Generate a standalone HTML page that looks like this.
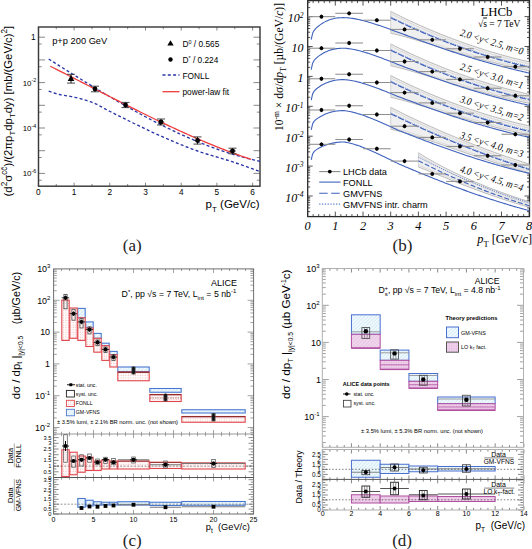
<!DOCTYPE html>
<html><head><meta charset="utf-8"><style>
html,body{margin:0;padding:0;background:#fff;width:532px;height:549px;overflow:hidden}
svg{display:block}
</style></head><body>
<svg width="532" height="549" viewBox="0 0 532 549">
<rect x="0" y="0" width="532" height="549" fill="#fff"/>
<line x1="38.40" y1="186.20" x2="38.40" y2="182.70" stroke="#7a7a7a" stroke-width="0.9" />
<line x1="38.40" y1="27.00" x2="38.40" y2="30.50" stroke="#7a7a7a" stroke-width="0.9" />
<line x1="56.25" y1="186.20" x2="56.25" y2="184.00" stroke="#7a7a7a" stroke-width="0.9" />
<line x1="56.25" y1="27.00" x2="56.25" y2="29.20" stroke="#7a7a7a" stroke-width="0.9" />
<line x1="74.10" y1="186.20" x2="74.10" y2="182.70" stroke="#7a7a7a" stroke-width="0.9" />
<line x1="74.10" y1="27.00" x2="74.10" y2="30.50" stroke="#7a7a7a" stroke-width="0.9" />
<line x1="91.95" y1="186.20" x2="91.95" y2="184.00" stroke="#7a7a7a" stroke-width="0.9" />
<line x1="91.95" y1="27.00" x2="91.95" y2="29.20" stroke="#7a7a7a" stroke-width="0.9" />
<line x1="109.80" y1="186.20" x2="109.80" y2="182.70" stroke="#7a7a7a" stroke-width="0.9" />
<line x1="109.80" y1="27.00" x2="109.80" y2="30.50" stroke="#7a7a7a" stroke-width="0.9" />
<line x1="127.65" y1="186.20" x2="127.65" y2="184.00" stroke="#7a7a7a" stroke-width="0.9" />
<line x1="127.65" y1="27.00" x2="127.65" y2="29.20" stroke="#7a7a7a" stroke-width="0.9" />
<line x1="145.50" y1="186.20" x2="145.50" y2="182.70" stroke="#7a7a7a" stroke-width="0.9" />
<line x1="145.50" y1="27.00" x2="145.50" y2="30.50" stroke="#7a7a7a" stroke-width="0.9" />
<line x1="163.35" y1="186.20" x2="163.35" y2="184.00" stroke="#7a7a7a" stroke-width="0.9" />
<line x1="163.35" y1="27.00" x2="163.35" y2="29.20" stroke="#7a7a7a" stroke-width="0.9" />
<line x1="181.20" y1="186.20" x2="181.20" y2="182.70" stroke="#7a7a7a" stroke-width="0.9" />
<line x1="181.20" y1="27.00" x2="181.20" y2="30.50" stroke="#7a7a7a" stroke-width="0.9" />
<line x1="199.05" y1="186.20" x2="199.05" y2="184.00" stroke="#7a7a7a" stroke-width="0.9" />
<line x1="199.05" y1="27.00" x2="199.05" y2="29.20" stroke="#7a7a7a" stroke-width="0.9" />
<line x1="216.90" y1="186.20" x2="216.90" y2="182.70" stroke="#7a7a7a" stroke-width="0.9" />
<line x1="216.90" y1="27.00" x2="216.90" y2="30.50" stroke="#7a7a7a" stroke-width="0.9" />
<line x1="234.75" y1="186.20" x2="234.75" y2="184.00" stroke="#7a7a7a" stroke-width="0.9" />
<line x1="234.75" y1="27.00" x2="234.75" y2="29.20" stroke="#7a7a7a" stroke-width="0.9" />
<line x1="252.60" y1="186.20" x2="252.60" y2="182.70" stroke="#7a7a7a" stroke-width="0.9" />
<line x1="252.60" y1="27.00" x2="252.60" y2="30.50" stroke="#7a7a7a" stroke-width="0.9" />
<line x1="38.50" y1="37.20" x2="45.00" y2="37.20" stroke="#7a7a7a" stroke-width="0.9" />
<line x1="260.00" y1="37.20" x2="253.50" y2="37.20" stroke="#7a7a7a" stroke-width="0.9" />
<line x1="38.50" y1="44.03" x2="41.70" y2="44.03" stroke="#7a7a7a" stroke-width="0.9" />
<line x1="260.00" y1="44.03" x2="256.80" y2="44.03" stroke="#7a7a7a" stroke-width="0.9" />
<line x1="38.50" y1="59.90" x2="45.00" y2="59.90" stroke="#7a7a7a" stroke-width="0.9" />
<line x1="260.00" y1="59.90" x2="253.50" y2="59.90" stroke="#7a7a7a" stroke-width="0.9" />
<line x1="38.50" y1="66.73" x2="41.70" y2="66.73" stroke="#7a7a7a" stroke-width="0.9" />
<line x1="260.00" y1="66.73" x2="256.80" y2="66.73" stroke="#7a7a7a" stroke-width="0.9" />
<line x1="38.50" y1="82.60" x2="45.00" y2="82.60" stroke="#7a7a7a" stroke-width="0.9" />
<line x1="260.00" y1="82.60" x2="253.50" y2="82.60" stroke="#7a7a7a" stroke-width="0.9" />
<line x1="38.50" y1="89.43" x2="41.70" y2="89.43" stroke="#7a7a7a" stroke-width="0.9" />
<line x1="260.00" y1="89.43" x2="256.80" y2="89.43" stroke="#7a7a7a" stroke-width="0.9" />
<line x1="38.50" y1="105.30" x2="45.00" y2="105.30" stroke="#7a7a7a" stroke-width="0.9" />
<line x1="260.00" y1="105.30" x2="253.50" y2="105.30" stroke="#7a7a7a" stroke-width="0.9" />
<line x1="38.50" y1="112.13" x2="41.70" y2="112.13" stroke="#7a7a7a" stroke-width="0.9" />
<line x1="260.00" y1="112.13" x2="256.80" y2="112.13" stroke="#7a7a7a" stroke-width="0.9" />
<line x1="38.50" y1="128.00" x2="45.00" y2="128.00" stroke="#7a7a7a" stroke-width="0.9" />
<line x1="260.00" y1="128.00" x2="253.50" y2="128.00" stroke="#7a7a7a" stroke-width="0.9" />
<line x1="38.50" y1="134.83" x2="41.70" y2="134.83" stroke="#7a7a7a" stroke-width="0.9" />
<line x1="260.00" y1="134.83" x2="256.80" y2="134.83" stroke="#7a7a7a" stroke-width="0.9" />
<line x1="38.50" y1="150.70" x2="45.00" y2="150.70" stroke="#7a7a7a" stroke-width="0.9" />
<line x1="260.00" y1="150.70" x2="253.50" y2="150.70" stroke="#7a7a7a" stroke-width="0.9" />
<line x1="38.50" y1="157.53" x2="41.70" y2="157.53" stroke="#7a7a7a" stroke-width="0.9" />
<line x1="260.00" y1="157.53" x2="256.80" y2="157.53" stroke="#7a7a7a" stroke-width="0.9" />
<line x1="38.50" y1="173.40" x2="45.00" y2="173.40" stroke="#7a7a7a" stroke-width="0.9" />
<line x1="260.00" y1="173.40" x2="253.50" y2="173.40" stroke="#7a7a7a" stroke-width="0.9" />
<line x1="38.50" y1="180.23" x2="41.70" y2="180.23" stroke="#7a7a7a" stroke-width="0.9" />
<line x1="260.00" y1="180.23" x2="256.80" y2="180.23" stroke="#7a7a7a" stroke-width="0.9" />
<rect x="38.50" y="27.00" width="221.50" height="159.20" fill="none" stroke="#3a3a3a" stroke-width="1.45" />
<text x="38.40" y="195.30" text-anchor="middle" fill="#000" style="font-family:'Liberation Sans', sans-serif;font-size:8.3px;" >0</text>
<text x="74.10" y="195.30" text-anchor="middle" fill="#000" style="font-family:'Liberation Sans', sans-serif;font-size:8.3px;" >1</text>
<text x="109.80" y="195.30" text-anchor="middle" fill="#000" style="font-family:'Liberation Sans', sans-serif;font-size:8.3px;" >2</text>
<text x="145.50" y="195.30" text-anchor="middle" fill="#000" style="font-family:'Liberation Sans', sans-serif;font-size:8.3px;" >3</text>
<text x="181.20" y="195.30" text-anchor="middle" fill="#000" style="font-family:'Liberation Sans', sans-serif;font-size:8.3px;" >4</text>
<text x="216.90" y="195.30" text-anchor="middle" fill="#000" style="font-family:'Liberation Sans', sans-serif;font-size:8.3px;" >5</text>
<text x="252.60" y="195.30" text-anchor="middle" fill="#000" style="font-family:'Liberation Sans', sans-serif;font-size:8.3px;" >6</text>
<text x="35.50" y="40.20" text-anchor="end" fill="#000" style="font-family:'Liberation Sans', sans-serif;font-size:8.3px;" >1</text>
<text x="36.2" y="85.50" text-anchor="end" style="font-family:'Liberation Sans', sans-serif;font-size:7.9px">10<tspan dy="-3.1" style="font-size:5.3px">-2</tspan></text>
<text x="36.2" y="130.90" text-anchor="end" style="font-family:'Liberation Sans', sans-serif;font-size:7.9px">10<tspan dy="-3.1" style="font-size:5.3px">-4</tspan></text>
<text x="36.2" y="176.30" text-anchor="end" style="font-family:'Liberation Sans', sans-serif;font-size:7.9px">10<tspan dy="-3.1" style="font-size:5.3px">-6</tspan></text>
<text x="205.6" y="208.4" style="font-family:'Liberation Sans', sans-serif;font-size:11.5px">p<tspan dy="3.8" style="font-size:8px">T</tspan><tspan dy="-3.8"> (GeV/c)</tspan></text>
<text transform="translate(11.7,196.4) rotate(-90)" style="font-family:'Liberation Sans', sans-serif;font-size:11.3px">(d<tspan dy="-4.4" style="font-size:8.2px">2</tspan><tspan dy="4.4">σ</tspan><tspan dy="-4.4" style="font-size:8.2px">cc̄</tspan><tspan dy="4.4">)/(2πp</tspan><tspan dy="3.0" style="font-size:8px">T</tspan><tspan dy="-3.0">dp</tspan><tspan dy="3.0" style="font-size:8px">T</tspan><tspan dy="-3.0">dy) [mb/(GeV/c)</tspan><tspan dy="-4.4" style="font-size:8.2px">2</tspan><tspan dy="4.4">]</tspan></text>
<clipPath id="clipa"><rect x="38.5" y="27.0" width="221.5" height="159.2"/></clipPath>
<g clip-path="url(#clipa)">
<polyline points="48.70,59.01 50.23,59.99 51.77,60.96 53.30,61.93 54.84,62.90 56.37,63.87 57.91,64.84 59.44,65.81 60.98,66.78 62.51,67.75 64.05,68.72 65.58,69.68 67.11,70.64 68.65,71.61 70.18,72.57 71.72,73.53 73.25,74.49 74.79,75.44 76.32,76.40 77.86,77.35 79.39,78.30 80.93,79.25 82.46,80.20 83.99,81.15 85.53,82.09 87.06,83.03 88.60,83.98 90.13,84.91 91.67,85.85 93.20,86.78 94.74,87.71 96.27,88.64 97.81,89.57 99.34,90.49 100.87,91.42 102.41,92.33 103.94,93.25 105.48,94.16 107.01,95.07 108.55,95.98 110.08,96.89 111.62,97.79 113.15,98.69 114.68,99.58 116.22,100.48 117.75,101.37 119.29,102.25 120.82,103.13 122.36,104.01 123.89,104.89 125.43,105.76 126.96,106.63 128.50,107.49 130.03,108.36 131.56,109.21 133.10,110.07 134.63,110.92 136.17,111.76 137.70,112.60 139.24,113.44 140.77,114.27 142.31,115.10 143.84,115.93 145.38,116.75 146.91,117.56 148.44,118.37 149.98,119.18 151.51,119.98 153.05,120.78 154.58,121.57 156.12,122.36 157.65,123.15 159.19,123.92 160.72,124.70 162.26,125.47 163.79,126.23 165.32,126.99 166.86,127.74 168.39,128.49 169.93,129.23 171.46,129.97 173.00,130.70 174.53,131.42 176.07,132.14 177.60,132.86 179.14,133.57 180.67,134.27 182.20,134.97 183.74,135.66 185.27,136.35 186.81,137.03 188.34,137.70 189.88,138.37 191.41,139.03 192.95,139.68 194.48,140.33 196.02,140.97 197.55,141.61 199.08,142.24 200.62,142.86 202.15,143.48 203.69,144.09 205.22,144.69 206.76,145.28 208.29,145.87 209.83,146.46 211.36,147.03 212.89,147.60 214.43,148.16 215.96,148.71 217.50,149.26 219.03,149.80 220.57,150.33 222.10,150.85 223.64,151.37 225.17,151.88 226.71,152.38 228.24,152.87 229.77,153.36 231.31,153.84 232.84,154.31 234.38,154.77 235.91,155.23 237.45,155.67 238.98,156.11 240.52,156.54 242.05,156.96 243.59,157.38 245.12,157.78 246.65,158.18 248.19,158.57 249.72,158.95 251.26,159.32 252.79,159.68 254.33,160.04 255.86,160.38 257.40,160.72 258.93,161.05 260.47,161.36 262.00,161.67" fill="none" stroke="#2a36a8" stroke-width="1.35" stroke-linejoin="round" stroke-dasharray="3,2.3"/>
<polyline points="48.70,91.15 50.23,91.71 51.77,92.25 53.30,92.76 54.84,93.24 56.37,93.69 57.91,94.10 59.44,94.47 60.98,94.81 62.51,95.09 64.05,95.35 65.58,95.58 67.11,95.82 68.65,96.06 70.18,96.32 71.72,96.62 73.25,96.95 74.79,97.30 76.32,97.65 77.86,98.03 79.39,98.42 80.93,98.82 82.46,99.25 83.99,99.69 85.53,100.15 87.06,100.64 88.60,101.14 90.13,101.66 91.67,102.21 93.20,102.81 94.74,103.47 96.27,104.18 97.81,104.94 99.34,105.72 100.87,106.53 102.41,107.36 103.94,108.20 105.48,109.04 107.01,109.88 108.55,110.69 110.08,111.49 111.62,112.26 113.15,113.03 114.68,113.80 116.22,114.57 117.75,115.35 119.29,116.12 120.82,116.90 122.36,117.67 123.89,118.44 125.43,119.21 126.96,119.97 128.50,120.74 130.03,121.49 131.56,122.25 133.10,122.99 134.63,123.74 136.17,124.49 137.70,125.23 139.24,125.98 140.77,126.73 142.31,127.47 143.84,128.21 145.38,128.94 146.91,129.68 148.44,130.41 149.98,131.13 151.51,131.85 153.05,132.56 154.58,133.27 156.12,133.97 157.65,134.66 159.19,135.34 160.72,136.02 162.26,136.69 163.79,137.36 165.32,138.03 166.86,138.70 168.39,139.36 169.93,140.03 171.46,140.69 173.00,141.34 174.53,141.99 176.07,142.64 177.60,143.28 179.14,143.91 180.67,144.54 182.20,145.17 183.74,145.79 185.27,146.40 186.81,147.00 188.34,147.60 189.88,148.18 191.41,148.76 192.95,149.34 194.48,149.90 196.02,150.45 197.55,150.99 199.08,151.52 200.62,152.04 202.15,152.55 203.69,153.04 205.22,153.53 206.76,154.01 208.29,154.48 209.83,154.94 211.36,155.41 212.89,155.86 214.43,156.32 215.96,156.77 217.50,157.22 219.03,157.67 220.57,158.13 222.10,158.58 223.64,159.04 225.17,159.51 226.71,159.98 228.24,160.46 229.77,160.95 231.31,161.44 232.84,161.95 234.38,162.46 235.91,162.98 237.45,163.50 238.98,164.03 240.52,164.56 242.05,165.10 243.59,165.64 245.12,166.18 246.65,166.73 248.19,167.28 249.72,167.84 251.26,168.40 252.79,168.96 254.33,169.52 255.86,170.09 257.40,170.66 258.93,171.24 260.47,171.82 262.00,172.40" fill="none" stroke="#2a36a8" stroke-width="1.35" stroke-linejoin="round" stroke-dasharray="3,2.3"/>
<polyline points="50.23,66.21 51.77,66.98 53.30,67.75 54.84,68.53 56.37,69.30 57.91,70.08 59.44,70.85 60.98,71.63 62.51,72.41 64.05,73.19 65.58,73.97 67.11,74.75 68.65,75.54 70.18,76.32 71.72,77.10 73.25,77.89 74.79,78.67 76.32,79.46 77.86,80.24 79.39,81.03 80.93,81.81 82.46,82.60 83.99,83.39 85.53,84.17 87.06,84.96 88.60,85.75 90.13,86.54 91.67,87.32 93.20,88.11 94.74,88.90 96.27,89.69 97.81,90.47 99.34,91.26 100.87,92.05 102.41,92.83 103.94,93.62 105.48,94.40 107.01,95.19 108.55,95.97 110.08,96.76 111.62,97.54 113.15,98.32 114.68,99.10 116.22,99.88 117.75,100.66 119.29,101.44 120.82,102.22 122.36,103.00 123.89,103.77 125.43,104.55 126.96,105.32 128.50,106.09 130.03,106.86 131.56,107.63 133.10,108.40 134.63,109.17 136.17,109.93 137.70,110.70 139.24,111.46 140.77,112.22 142.31,112.98 143.84,113.74 145.38,114.49 146.91,115.25 148.44,116.00 149.98,116.75 151.51,117.49 153.05,118.24 154.58,118.98 156.12,119.73 157.65,120.47 159.19,121.20 160.72,121.94 162.26,122.67 163.79,123.40 165.32,124.13 166.86,124.85 168.39,125.58 169.93,126.30 171.46,127.01 173.00,127.73 174.53,128.44 176.07,129.15 177.60,129.86 179.14,130.56 180.67,131.26 182.20,131.96 183.74,132.65 185.27,133.34 186.81,134.03 188.34,134.72 189.88,135.40 191.41,136.08 192.95,136.75 194.48,137.42 196.02,138.09 197.55,138.76 199.08,139.42 200.62,140.08 202.15,140.73 203.69,141.38 205.22,142.03 206.76,142.67 208.29,143.31 209.83,143.94 211.36,144.58 212.89,145.20 214.43,145.83 215.96,146.44 217.50,147.06 219.03,147.67 220.57,148.28 222.10,148.88 223.64,149.48 225.17,150.07 226.71,150.66 228.24,151.24 229.77,151.82 231.31,152.40 232.84,152.97 234.38,153.53 235.91,154.09 237.45,154.65 238.98,155.20 240.52,155.75 242.05,156.29 243.59,156.82 245.12,157.35 246.65,157.88 248.19,158.40 249.72,158.92 251.26,159.43" fill="none" stroke="#f03c3c" stroke-width="1.3" stroke-linejoin="round" />
</g>
<line x1="71.00" y1="74.30" x2="71.00" y2="83.10" stroke="#111" stroke-width="1.0" />
<line x1="67.00" y1="74.30" x2="75.00" y2="74.30" stroke="#333" stroke-width="0.9" />
<line x1="67.00" y1="83.10" x2="75.00" y2="83.10" stroke="#333" stroke-width="0.9" />
<polygon points="71.00,75.10 67.70,80.90 74.30,80.90" fill="#000" stroke="none" stroke-width="1" />
<line x1="95.00" y1="86.20" x2="95.00" y2="91.80" stroke="#111" stroke-width="1.0" />
<line x1="91.00" y1="86.20" x2="99.00" y2="86.20" stroke="#333" stroke-width="0.9" />
<line x1="91.00" y1="91.80" x2="99.00" y2="91.80" stroke="#333" stroke-width="0.9" />
<circle cx="95.00" cy="89.00" r="2.4" fill="#000"/>
<line x1="125.50" y1="102.40" x2="125.50" y2="107.60" stroke="#111" stroke-width="1.0" />
<line x1="121.50" y1="102.40" x2="129.50" y2="102.40" stroke="#333" stroke-width="0.9" />
<line x1="121.50" y1="107.60" x2="129.50" y2="107.60" stroke="#333" stroke-width="0.9" />
<circle cx="125.50" cy="105.00" r="2.4" fill="#000"/>
<line x1="161.00" y1="119.00" x2="161.00" y2="125.00" stroke="#111" stroke-width="1.0" />
<line x1="157.00" y1="119.00" x2="165.00" y2="119.00" stroke="#333" stroke-width="0.9" />
<line x1="157.00" y1="125.00" x2="165.00" y2="125.00" stroke="#333" stroke-width="0.9" />
<circle cx="161.00" cy="122.00" r="2.4" fill="#000"/>
<line x1="157.80" y1="122.00" x2="164.20" y2="122.00" stroke="#111" stroke-width="0.9" />
<line x1="197.50" y1="136.90" x2="197.50" y2="144.10" stroke="#111" stroke-width="1.0" />
<line x1="193.50" y1="136.90" x2="201.50" y2="136.90" stroke="#333" stroke-width="0.9" />
<line x1="193.50" y1="144.10" x2="201.50" y2="144.10" stroke="#333" stroke-width="0.9" />
<circle cx="197.50" cy="140.50" r="2.4" fill="#000"/>
<line x1="194.30" y1="140.50" x2="200.70" y2="140.50" stroke="#111" stroke-width="0.9" />
<line x1="232.50" y1="148.20" x2="232.50" y2="153.80" stroke="#111" stroke-width="1.0" />
<line x1="228.50" y1="148.20" x2="236.50" y2="148.20" stroke="#333" stroke-width="0.9" />
<line x1="228.50" y1="153.80" x2="236.50" y2="153.80" stroke="#333" stroke-width="0.9" />
<circle cx="232.50" cy="151.00" r="2.4" fill="#000"/>
<line x1="229.30" y1="151.00" x2="235.70" y2="151.00" stroke="#111" stroke-width="0.9" />
<text x="52.20" y="44.00" text-anchor="start" fill="#000" style="font-family:'Liberation Sans', sans-serif;font-size:9.3px;" >p+p 200 GeV</text>
<polygon points="170.50,40.30 167.30,45.60 173.70,45.60" fill="#000" stroke="none" stroke-width="1" />
<text x="182.5" y="47.2" style="font-family:'Liberation Sans', sans-serif;font-size:8.3px">D<tspan dy="-3" style="font-size:5.5px">0</tspan><tspan dy="3"> / 0.565</tspan></text>
<circle cx="170.50" cy="59.50" r="2.2" fill="#000"/>
<text x="182.5" y="63.0" style="font-family:'Liberation Sans', sans-serif;font-size:8.3px">D<tspan dy="-3" style="font-size:5.5px">*</tspan><tspan dy="3"> / 0.224</tspan></text>
<line x1="162.50" y1="75.00" x2="179.50" y2="75.00" stroke="#2a36a8" stroke-width="1.35" stroke-dasharray="3,2.3"/>
<text x="182.50" y="78.50" text-anchor="start" fill="#000" style="font-family:'Liberation Sans', sans-serif;font-size:8.3px;" >FONLL</text>
<line x1="162.50" y1="91.70" x2="179.50" y2="91.70" stroke="#f03c3c" stroke-width="1.3" />
<text x="182.50" y="95.00" text-anchor="start" fill="#000" style="font-family:'Liberation Sans', sans-serif;font-size:8.3px;" >power-law fit</text>
<text x="132.20" y="251.00" text-anchor="middle" fill="#222" style="font-family:'Liberation Serif', serif;font-size:17.0px;" >(a)</text>
<clipPath id="clipb"><rect x="307.7" y="0.6" width="221.8" height="216.0"/></clipPath>
<line x1="307.60" y1="216.60" x2="307.60" y2="211.60" stroke="#2a2a2a" stroke-width="0.8" />
<line x1="307.60" y1="0.60" x2="307.60" y2="5.60" stroke="#2a2a2a" stroke-width="0.8" />
<line x1="313.14" y1="216.60" x2="313.14" y2="214.10" stroke="#2a2a2a" stroke-width="0.8" />
<line x1="313.14" y1="0.60" x2="313.14" y2="3.10" stroke="#2a2a2a" stroke-width="0.8" />
<line x1="318.68" y1="216.60" x2="318.68" y2="214.10" stroke="#2a2a2a" stroke-width="0.8" />
<line x1="318.68" y1="0.60" x2="318.68" y2="3.10" stroke="#2a2a2a" stroke-width="0.8" />
<line x1="324.22" y1="216.60" x2="324.22" y2="214.10" stroke="#2a2a2a" stroke-width="0.8" />
<line x1="324.22" y1="0.60" x2="324.22" y2="3.10" stroke="#2a2a2a" stroke-width="0.8" />
<line x1="329.76" y1="216.60" x2="329.76" y2="214.10" stroke="#2a2a2a" stroke-width="0.8" />
<line x1="329.76" y1="0.60" x2="329.76" y2="3.10" stroke="#2a2a2a" stroke-width="0.8" />
<line x1="335.30" y1="216.60" x2="335.30" y2="211.60" stroke="#2a2a2a" stroke-width="0.8" />
<line x1="335.30" y1="0.60" x2="335.30" y2="5.60" stroke="#2a2a2a" stroke-width="0.8" />
<line x1="340.84" y1="216.60" x2="340.84" y2="214.10" stroke="#2a2a2a" stroke-width="0.8" />
<line x1="340.84" y1="0.60" x2="340.84" y2="3.10" stroke="#2a2a2a" stroke-width="0.8" />
<line x1="346.38" y1="216.60" x2="346.38" y2="214.10" stroke="#2a2a2a" stroke-width="0.8" />
<line x1="346.38" y1="0.60" x2="346.38" y2="3.10" stroke="#2a2a2a" stroke-width="0.8" />
<line x1="351.92" y1="216.60" x2="351.92" y2="214.10" stroke="#2a2a2a" stroke-width="0.8" />
<line x1="351.92" y1="0.60" x2="351.92" y2="3.10" stroke="#2a2a2a" stroke-width="0.8" />
<line x1="357.46" y1="216.60" x2="357.46" y2="214.10" stroke="#2a2a2a" stroke-width="0.8" />
<line x1="357.46" y1="0.60" x2="357.46" y2="3.10" stroke="#2a2a2a" stroke-width="0.8" />
<line x1="363.00" y1="216.60" x2="363.00" y2="211.60" stroke="#2a2a2a" stroke-width="0.8" />
<line x1="363.00" y1="0.60" x2="363.00" y2="5.60" stroke="#2a2a2a" stroke-width="0.8" />
<line x1="368.54" y1="216.60" x2="368.54" y2="214.10" stroke="#2a2a2a" stroke-width="0.8" />
<line x1="368.54" y1="0.60" x2="368.54" y2="3.10" stroke="#2a2a2a" stroke-width="0.8" />
<line x1="374.08" y1="216.60" x2="374.08" y2="214.10" stroke="#2a2a2a" stroke-width="0.8" />
<line x1="374.08" y1="0.60" x2="374.08" y2="3.10" stroke="#2a2a2a" stroke-width="0.8" />
<line x1="379.62" y1="216.60" x2="379.62" y2="214.10" stroke="#2a2a2a" stroke-width="0.8" />
<line x1="379.62" y1="0.60" x2="379.62" y2="3.10" stroke="#2a2a2a" stroke-width="0.8" />
<line x1="385.16" y1="216.60" x2="385.16" y2="214.10" stroke="#2a2a2a" stroke-width="0.8" />
<line x1="385.16" y1="0.60" x2="385.16" y2="3.10" stroke="#2a2a2a" stroke-width="0.8" />
<line x1="390.70" y1="216.60" x2="390.70" y2="211.60" stroke="#2a2a2a" stroke-width="0.8" />
<line x1="390.70" y1="0.60" x2="390.70" y2="5.60" stroke="#2a2a2a" stroke-width="0.8" />
<line x1="396.24" y1="216.60" x2="396.24" y2="214.10" stroke="#2a2a2a" stroke-width="0.8" />
<line x1="396.24" y1="0.60" x2="396.24" y2="3.10" stroke="#2a2a2a" stroke-width="0.8" />
<line x1="401.78" y1="216.60" x2="401.78" y2="214.10" stroke="#2a2a2a" stroke-width="0.8" />
<line x1="401.78" y1="0.60" x2="401.78" y2="3.10" stroke="#2a2a2a" stroke-width="0.8" />
<line x1="407.32" y1="216.60" x2="407.32" y2="214.10" stroke="#2a2a2a" stroke-width="0.8" />
<line x1="407.32" y1="0.60" x2="407.32" y2="3.10" stroke="#2a2a2a" stroke-width="0.8" />
<line x1="412.86" y1="216.60" x2="412.86" y2="214.10" stroke="#2a2a2a" stroke-width="0.8" />
<line x1="412.86" y1="0.60" x2="412.86" y2="3.10" stroke="#2a2a2a" stroke-width="0.8" />
<line x1="418.40" y1="216.60" x2="418.40" y2="211.60" stroke="#2a2a2a" stroke-width="0.8" />
<line x1="418.40" y1="0.60" x2="418.40" y2="5.60" stroke="#2a2a2a" stroke-width="0.8" />
<line x1="423.94" y1="216.60" x2="423.94" y2="214.10" stroke="#2a2a2a" stroke-width="0.8" />
<line x1="423.94" y1="0.60" x2="423.94" y2="3.10" stroke="#2a2a2a" stroke-width="0.8" />
<line x1="429.48" y1="216.60" x2="429.48" y2="214.10" stroke="#2a2a2a" stroke-width="0.8" />
<line x1="429.48" y1="0.60" x2="429.48" y2="3.10" stroke="#2a2a2a" stroke-width="0.8" />
<line x1="435.02" y1="216.60" x2="435.02" y2="214.10" stroke="#2a2a2a" stroke-width="0.8" />
<line x1="435.02" y1="0.60" x2="435.02" y2="3.10" stroke="#2a2a2a" stroke-width="0.8" />
<line x1="440.56" y1="216.60" x2="440.56" y2="214.10" stroke="#2a2a2a" stroke-width="0.8" />
<line x1="440.56" y1="0.60" x2="440.56" y2="3.10" stroke="#2a2a2a" stroke-width="0.8" />
<line x1="446.10" y1="216.60" x2="446.10" y2="211.60" stroke="#2a2a2a" stroke-width="0.8" />
<line x1="446.10" y1="0.60" x2="446.10" y2="5.60" stroke="#2a2a2a" stroke-width="0.8" />
<line x1="451.64" y1="216.60" x2="451.64" y2="214.10" stroke="#2a2a2a" stroke-width="0.8" />
<line x1="451.64" y1="0.60" x2="451.64" y2="3.10" stroke="#2a2a2a" stroke-width="0.8" />
<line x1="457.18" y1="216.60" x2="457.18" y2="214.10" stroke="#2a2a2a" stroke-width="0.8" />
<line x1="457.18" y1="0.60" x2="457.18" y2="3.10" stroke="#2a2a2a" stroke-width="0.8" />
<line x1="462.72" y1="216.60" x2="462.72" y2="214.10" stroke="#2a2a2a" stroke-width="0.8" />
<line x1="462.72" y1="0.60" x2="462.72" y2="3.10" stroke="#2a2a2a" stroke-width="0.8" />
<line x1="468.26" y1="216.60" x2="468.26" y2="214.10" stroke="#2a2a2a" stroke-width="0.8" />
<line x1="468.26" y1="0.60" x2="468.26" y2="3.10" stroke="#2a2a2a" stroke-width="0.8" />
<line x1="473.80" y1="216.60" x2="473.80" y2="211.60" stroke="#2a2a2a" stroke-width="0.8" />
<line x1="473.80" y1="0.60" x2="473.80" y2="5.60" stroke="#2a2a2a" stroke-width="0.8" />
<line x1="479.34" y1="216.60" x2="479.34" y2="214.10" stroke="#2a2a2a" stroke-width="0.8" />
<line x1="479.34" y1="0.60" x2="479.34" y2="3.10" stroke="#2a2a2a" stroke-width="0.8" />
<line x1="484.88" y1="216.60" x2="484.88" y2="214.10" stroke="#2a2a2a" stroke-width="0.8" />
<line x1="484.88" y1="0.60" x2="484.88" y2="3.10" stroke="#2a2a2a" stroke-width="0.8" />
<line x1="490.42" y1="216.60" x2="490.42" y2="214.10" stroke="#2a2a2a" stroke-width="0.8" />
<line x1="490.42" y1="0.60" x2="490.42" y2="3.10" stroke="#2a2a2a" stroke-width="0.8" />
<line x1="495.96" y1="216.60" x2="495.96" y2="214.10" stroke="#2a2a2a" stroke-width="0.8" />
<line x1="495.96" y1="0.60" x2="495.96" y2="3.10" stroke="#2a2a2a" stroke-width="0.8" />
<line x1="501.50" y1="216.60" x2="501.50" y2="211.60" stroke="#2a2a2a" stroke-width="0.8" />
<line x1="501.50" y1="0.60" x2="501.50" y2="5.60" stroke="#2a2a2a" stroke-width="0.8" />
<line x1="507.04" y1="216.60" x2="507.04" y2="214.10" stroke="#2a2a2a" stroke-width="0.8" />
<line x1="507.04" y1="0.60" x2="507.04" y2="3.10" stroke="#2a2a2a" stroke-width="0.8" />
<line x1="512.58" y1="216.60" x2="512.58" y2="214.10" stroke="#2a2a2a" stroke-width="0.8" />
<line x1="512.58" y1="0.60" x2="512.58" y2="3.10" stroke="#2a2a2a" stroke-width="0.8" />
<line x1="518.12" y1="216.60" x2="518.12" y2="214.10" stroke="#2a2a2a" stroke-width="0.8" />
<line x1="518.12" y1="0.60" x2="518.12" y2="3.10" stroke="#2a2a2a" stroke-width="0.8" />
<line x1="523.66" y1="216.60" x2="523.66" y2="214.10" stroke="#2a2a2a" stroke-width="0.8" />
<line x1="523.66" y1="0.60" x2="523.66" y2="3.10" stroke="#2a2a2a" stroke-width="0.8" />
<line x1="529.20" y1="216.60" x2="529.20" y2="211.60" stroke="#2a2a2a" stroke-width="0.8" />
<line x1="529.20" y1="0.60" x2="529.20" y2="5.60" stroke="#2a2a2a" stroke-width="0.8" />
<line x1="307.70" y1="211.63" x2="310.20" y2="211.63" stroke="#2a2a2a" stroke-width="0.8" />
<line x1="529.50" y1="211.63" x2="527.00" y2="211.63" stroke="#2a2a2a" stroke-width="0.8" />
<line x1="307.70" y1="207.90" x2="310.20" y2="207.90" stroke="#2a2a2a" stroke-width="0.8" />
<line x1="529.50" y1="207.90" x2="527.00" y2="207.90" stroke="#2a2a2a" stroke-width="0.8" />
<line x1="307.70" y1="205.00" x2="310.20" y2="205.00" stroke="#2a2a2a" stroke-width="0.8" />
<line x1="529.50" y1="205.00" x2="527.00" y2="205.00" stroke="#2a2a2a" stroke-width="0.8" />
<line x1="307.70" y1="202.63" x2="310.20" y2="202.63" stroke="#2a2a2a" stroke-width="0.8" />
<line x1="529.50" y1="202.63" x2="527.00" y2="202.63" stroke="#2a2a2a" stroke-width="0.8" />
<line x1="307.70" y1="200.63" x2="310.20" y2="200.63" stroke="#2a2a2a" stroke-width="0.8" />
<line x1="529.50" y1="200.63" x2="527.00" y2="200.63" stroke="#2a2a2a" stroke-width="0.8" />
<line x1="307.70" y1="198.90" x2="310.20" y2="198.90" stroke="#2a2a2a" stroke-width="0.8" />
<line x1="529.50" y1="198.90" x2="527.00" y2="198.90" stroke="#2a2a2a" stroke-width="0.8" />
<line x1="307.70" y1="197.37" x2="310.20" y2="197.37" stroke="#2a2a2a" stroke-width="0.8" />
<line x1="529.50" y1="197.37" x2="527.00" y2="197.37" stroke="#2a2a2a" stroke-width="0.8" />
<line x1="307.70" y1="196.00" x2="312.70" y2="196.00" stroke="#2a2a2a" stroke-width="0.8" />
<line x1="529.50" y1="196.00" x2="524.50" y2="196.00" stroke="#2a2a2a" stroke-width="0.8" />
<line x1="307.70" y1="187.00" x2="310.20" y2="187.00" stroke="#2a2a2a" stroke-width="0.8" />
<line x1="529.50" y1="187.00" x2="527.00" y2="187.00" stroke="#2a2a2a" stroke-width="0.8" />
<line x1="307.70" y1="181.73" x2="310.20" y2="181.73" stroke="#2a2a2a" stroke-width="0.8" />
<line x1="529.50" y1="181.73" x2="527.00" y2="181.73" stroke="#2a2a2a" stroke-width="0.8" />
<line x1="307.70" y1="178.00" x2="310.20" y2="178.00" stroke="#2a2a2a" stroke-width="0.8" />
<line x1="529.50" y1="178.00" x2="527.00" y2="178.00" stroke="#2a2a2a" stroke-width="0.8" />
<line x1="307.70" y1="175.10" x2="310.20" y2="175.10" stroke="#2a2a2a" stroke-width="0.8" />
<line x1="529.50" y1="175.10" x2="527.00" y2="175.10" stroke="#2a2a2a" stroke-width="0.8" />
<line x1="307.70" y1="172.73" x2="310.20" y2="172.73" stroke="#2a2a2a" stroke-width="0.8" />
<line x1="529.50" y1="172.73" x2="527.00" y2="172.73" stroke="#2a2a2a" stroke-width="0.8" />
<line x1="307.70" y1="170.73" x2="310.20" y2="170.73" stroke="#2a2a2a" stroke-width="0.8" />
<line x1="529.50" y1="170.73" x2="527.00" y2="170.73" stroke="#2a2a2a" stroke-width="0.8" />
<line x1="307.70" y1="169.00" x2="310.20" y2="169.00" stroke="#2a2a2a" stroke-width="0.8" />
<line x1="529.50" y1="169.00" x2="527.00" y2="169.00" stroke="#2a2a2a" stroke-width="0.8" />
<line x1="307.70" y1="167.47" x2="310.20" y2="167.47" stroke="#2a2a2a" stroke-width="0.8" />
<line x1="529.50" y1="167.47" x2="527.00" y2="167.47" stroke="#2a2a2a" stroke-width="0.8" />
<line x1="307.70" y1="166.10" x2="312.70" y2="166.10" stroke="#2a2a2a" stroke-width="0.8" />
<line x1="529.50" y1="166.10" x2="524.50" y2="166.10" stroke="#2a2a2a" stroke-width="0.8" />
<line x1="307.70" y1="157.10" x2="310.20" y2="157.10" stroke="#2a2a2a" stroke-width="0.8" />
<line x1="529.50" y1="157.10" x2="527.00" y2="157.10" stroke="#2a2a2a" stroke-width="0.8" />
<line x1="307.70" y1="151.83" x2="310.20" y2="151.83" stroke="#2a2a2a" stroke-width="0.8" />
<line x1="529.50" y1="151.83" x2="527.00" y2="151.83" stroke="#2a2a2a" stroke-width="0.8" />
<line x1="307.70" y1="148.10" x2="310.20" y2="148.10" stroke="#2a2a2a" stroke-width="0.8" />
<line x1="529.50" y1="148.10" x2="527.00" y2="148.10" stroke="#2a2a2a" stroke-width="0.8" />
<line x1="307.70" y1="145.20" x2="310.20" y2="145.20" stroke="#2a2a2a" stroke-width="0.8" />
<line x1="529.50" y1="145.20" x2="527.00" y2="145.20" stroke="#2a2a2a" stroke-width="0.8" />
<line x1="307.70" y1="142.83" x2="310.20" y2="142.83" stroke="#2a2a2a" stroke-width="0.8" />
<line x1="529.50" y1="142.83" x2="527.00" y2="142.83" stroke="#2a2a2a" stroke-width="0.8" />
<line x1="307.70" y1="140.83" x2="310.20" y2="140.83" stroke="#2a2a2a" stroke-width="0.8" />
<line x1="529.50" y1="140.83" x2="527.00" y2="140.83" stroke="#2a2a2a" stroke-width="0.8" />
<line x1="307.70" y1="139.10" x2="310.20" y2="139.10" stroke="#2a2a2a" stroke-width="0.8" />
<line x1="529.50" y1="139.10" x2="527.00" y2="139.10" stroke="#2a2a2a" stroke-width="0.8" />
<line x1="307.70" y1="137.57" x2="310.20" y2="137.57" stroke="#2a2a2a" stroke-width="0.8" />
<line x1="529.50" y1="137.57" x2="527.00" y2="137.57" stroke="#2a2a2a" stroke-width="0.8" />
<line x1="307.70" y1="136.20" x2="312.70" y2="136.20" stroke="#2a2a2a" stroke-width="0.8" />
<line x1="529.50" y1="136.20" x2="524.50" y2="136.20" stroke="#2a2a2a" stroke-width="0.8" />
<line x1="307.70" y1="127.20" x2="310.20" y2="127.20" stroke="#2a2a2a" stroke-width="0.8" />
<line x1="529.50" y1="127.20" x2="527.00" y2="127.20" stroke="#2a2a2a" stroke-width="0.8" />
<line x1="307.70" y1="121.93" x2="310.20" y2="121.93" stroke="#2a2a2a" stroke-width="0.8" />
<line x1="529.50" y1="121.93" x2="527.00" y2="121.93" stroke="#2a2a2a" stroke-width="0.8" />
<line x1="307.70" y1="118.20" x2="310.20" y2="118.20" stroke="#2a2a2a" stroke-width="0.8" />
<line x1="529.50" y1="118.20" x2="527.00" y2="118.20" stroke="#2a2a2a" stroke-width="0.8" />
<line x1="307.70" y1="115.30" x2="310.20" y2="115.30" stroke="#2a2a2a" stroke-width="0.8" />
<line x1="529.50" y1="115.30" x2="527.00" y2="115.30" stroke="#2a2a2a" stroke-width="0.8" />
<line x1="307.70" y1="112.93" x2="310.20" y2="112.93" stroke="#2a2a2a" stroke-width="0.8" />
<line x1="529.50" y1="112.93" x2="527.00" y2="112.93" stroke="#2a2a2a" stroke-width="0.8" />
<line x1="307.70" y1="110.93" x2="310.20" y2="110.93" stroke="#2a2a2a" stroke-width="0.8" />
<line x1="529.50" y1="110.93" x2="527.00" y2="110.93" stroke="#2a2a2a" stroke-width="0.8" />
<line x1="307.70" y1="109.20" x2="310.20" y2="109.20" stroke="#2a2a2a" stroke-width="0.8" />
<line x1="529.50" y1="109.20" x2="527.00" y2="109.20" stroke="#2a2a2a" stroke-width="0.8" />
<line x1="307.70" y1="107.67" x2="310.20" y2="107.67" stroke="#2a2a2a" stroke-width="0.8" />
<line x1="529.50" y1="107.67" x2="527.00" y2="107.67" stroke="#2a2a2a" stroke-width="0.8" />
<line x1="307.70" y1="106.30" x2="312.70" y2="106.30" stroke="#2a2a2a" stroke-width="0.8" />
<line x1="529.50" y1="106.30" x2="524.50" y2="106.30" stroke="#2a2a2a" stroke-width="0.8" />
<line x1="307.70" y1="97.30" x2="310.20" y2="97.30" stroke="#2a2a2a" stroke-width="0.8" />
<line x1="529.50" y1="97.30" x2="527.00" y2="97.30" stroke="#2a2a2a" stroke-width="0.8" />
<line x1="307.70" y1="92.03" x2="310.20" y2="92.03" stroke="#2a2a2a" stroke-width="0.8" />
<line x1="529.50" y1="92.03" x2="527.00" y2="92.03" stroke="#2a2a2a" stroke-width="0.8" />
<line x1="307.70" y1="88.30" x2="310.20" y2="88.30" stroke="#2a2a2a" stroke-width="0.8" />
<line x1="529.50" y1="88.30" x2="527.00" y2="88.30" stroke="#2a2a2a" stroke-width="0.8" />
<line x1="307.70" y1="85.40" x2="310.20" y2="85.40" stroke="#2a2a2a" stroke-width="0.8" />
<line x1="529.50" y1="85.40" x2="527.00" y2="85.40" stroke="#2a2a2a" stroke-width="0.8" />
<line x1="307.70" y1="83.03" x2="310.20" y2="83.03" stroke="#2a2a2a" stroke-width="0.8" />
<line x1="529.50" y1="83.03" x2="527.00" y2="83.03" stroke="#2a2a2a" stroke-width="0.8" />
<line x1="307.70" y1="81.03" x2="310.20" y2="81.03" stroke="#2a2a2a" stroke-width="0.8" />
<line x1="529.50" y1="81.03" x2="527.00" y2="81.03" stroke="#2a2a2a" stroke-width="0.8" />
<line x1="307.70" y1="79.30" x2="310.20" y2="79.30" stroke="#2a2a2a" stroke-width="0.8" />
<line x1="529.50" y1="79.30" x2="527.00" y2="79.30" stroke="#2a2a2a" stroke-width="0.8" />
<line x1="307.70" y1="77.77" x2="310.20" y2="77.77" stroke="#2a2a2a" stroke-width="0.8" />
<line x1="529.50" y1="77.77" x2="527.00" y2="77.77" stroke="#2a2a2a" stroke-width="0.8" />
<line x1="307.70" y1="76.40" x2="312.70" y2="76.40" stroke="#2a2a2a" stroke-width="0.8" />
<line x1="529.50" y1="76.40" x2="524.50" y2="76.40" stroke="#2a2a2a" stroke-width="0.8" />
<line x1="307.70" y1="67.40" x2="310.20" y2="67.40" stroke="#2a2a2a" stroke-width="0.8" />
<line x1="529.50" y1="67.40" x2="527.00" y2="67.40" stroke="#2a2a2a" stroke-width="0.8" />
<line x1="307.70" y1="62.13" x2="310.20" y2="62.13" stroke="#2a2a2a" stroke-width="0.8" />
<line x1="529.50" y1="62.13" x2="527.00" y2="62.13" stroke="#2a2a2a" stroke-width="0.8" />
<line x1="307.70" y1="58.40" x2="310.20" y2="58.40" stroke="#2a2a2a" stroke-width="0.8" />
<line x1="529.50" y1="58.40" x2="527.00" y2="58.40" stroke="#2a2a2a" stroke-width="0.8" />
<line x1="307.70" y1="55.50" x2="310.20" y2="55.50" stroke="#2a2a2a" stroke-width="0.8" />
<line x1="529.50" y1="55.50" x2="527.00" y2="55.50" stroke="#2a2a2a" stroke-width="0.8" />
<line x1="307.70" y1="53.13" x2="310.20" y2="53.13" stroke="#2a2a2a" stroke-width="0.8" />
<line x1="529.50" y1="53.13" x2="527.00" y2="53.13" stroke="#2a2a2a" stroke-width="0.8" />
<line x1="307.70" y1="51.13" x2="310.20" y2="51.13" stroke="#2a2a2a" stroke-width="0.8" />
<line x1="529.50" y1="51.13" x2="527.00" y2="51.13" stroke="#2a2a2a" stroke-width="0.8" />
<line x1="307.70" y1="49.40" x2="310.20" y2="49.40" stroke="#2a2a2a" stroke-width="0.8" />
<line x1="529.50" y1="49.40" x2="527.00" y2="49.40" stroke="#2a2a2a" stroke-width="0.8" />
<line x1="307.70" y1="47.87" x2="310.20" y2="47.87" stroke="#2a2a2a" stroke-width="0.8" />
<line x1="529.50" y1="47.87" x2="527.00" y2="47.87" stroke="#2a2a2a" stroke-width="0.8" />
<line x1="307.70" y1="46.50" x2="312.70" y2="46.50" stroke="#2a2a2a" stroke-width="0.8" />
<line x1="529.50" y1="46.50" x2="524.50" y2="46.50" stroke="#2a2a2a" stroke-width="0.8" />
<line x1="307.70" y1="37.50" x2="310.20" y2="37.50" stroke="#2a2a2a" stroke-width="0.8" />
<line x1="529.50" y1="37.50" x2="527.00" y2="37.50" stroke="#2a2a2a" stroke-width="0.8" />
<line x1="307.70" y1="32.23" x2="310.20" y2="32.23" stroke="#2a2a2a" stroke-width="0.8" />
<line x1="529.50" y1="32.23" x2="527.00" y2="32.23" stroke="#2a2a2a" stroke-width="0.8" />
<line x1="307.70" y1="28.50" x2="310.20" y2="28.50" stroke="#2a2a2a" stroke-width="0.8" />
<line x1="529.50" y1="28.50" x2="527.00" y2="28.50" stroke="#2a2a2a" stroke-width="0.8" />
<line x1="307.70" y1="25.60" x2="310.20" y2="25.60" stroke="#2a2a2a" stroke-width="0.8" />
<line x1="529.50" y1="25.60" x2="527.00" y2="25.60" stroke="#2a2a2a" stroke-width="0.8" />
<line x1="307.70" y1="23.23" x2="310.20" y2="23.23" stroke="#2a2a2a" stroke-width="0.8" />
<line x1="529.50" y1="23.23" x2="527.00" y2="23.23" stroke="#2a2a2a" stroke-width="0.8" />
<line x1="307.70" y1="21.23" x2="310.20" y2="21.23" stroke="#2a2a2a" stroke-width="0.8" />
<line x1="529.50" y1="21.23" x2="527.00" y2="21.23" stroke="#2a2a2a" stroke-width="0.8" />
<line x1="307.70" y1="19.50" x2="310.20" y2="19.50" stroke="#2a2a2a" stroke-width="0.8" />
<line x1="529.50" y1="19.50" x2="527.00" y2="19.50" stroke="#2a2a2a" stroke-width="0.8" />
<line x1="307.70" y1="17.97" x2="310.20" y2="17.97" stroke="#2a2a2a" stroke-width="0.8" />
<line x1="529.50" y1="17.97" x2="527.00" y2="17.97" stroke="#2a2a2a" stroke-width="0.8" />
<line x1="307.70" y1="16.60" x2="312.70" y2="16.60" stroke="#2a2a2a" stroke-width="0.8" />
<line x1="529.50" y1="16.60" x2="524.50" y2="16.60" stroke="#2a2a2a" stroke-width="0.8" />
<line x1="307.70" y1="7.60" x2="310.20" y2="7.60" stroke="#2a2a2a" stroke-width="0.8" />
<line x1="529.50" y1="7.60" x2="527.00" y2="7.60" stroke="#2a2a2a" stroke-width="0.8" />
<line x1="307.70" y1="2.33" x2="310.20" y2="2.33" stroke="#2a2a2a" stroke-width="0.8" />
<line x1="529.50" y1="2.33" x2="527.00" y2="2.33" stroke="#2a2a2a" stroke-width="0.8" />
<rect x="307.70" y="0.60" width="221.80" height="216.00" fill="none" stroke="#2a2a2a" stroke-width="1.3" />
<text x="303.6" y="22.40" text-anchor="end" style="font-family:'Liberation Serif', serif;font-size:12.0px;font-style:italic">10<tspan dy="-4.6" style="font-size:7.6px">2</tspan></text>
<text x="303.6" y="52.30" text-anchor="end" style="font-family:'Liberation Serif', serif;font-size:12.0px;font-style:italic">10</text>
<text x="303.6" y="82.20" text-anchor="end" style="font-family:'Liberation Serif', serif;font-size:12.0px;font-style:italic">1</text>
<text x="303.6" y="112.10" text-anchor="end" style="font-family:'Liberation Serif', serif;font-size:12.0px;font-style:italic">10<tspan dy="-4.6" style="font-size:7.6px">-1</tspan></text>
<text x="303.6" y="142.00" text-anchor="end" style="font-family:'Liberation Serif', serif;font-size:12.0px;font-style:italic">10<tspan dy="-4.6" style="font-size:7.6px">-2</tspan></text>
<text x="303.6" y="171.90" text-anchor="end" style="font-family:'Liberation Serif', serif;font-size:12.0px;font-style:italic">10<tspan dy="-4.6" style="font-size:7.6px">-3</tspan></text>
<text x="303.6" y="201.80" text-anchor="end" style="font-family:'Liberation Serif', serif;font-size:12.0px;font-style:italic">10<tspan dy="-4.6" style="font-size:7.6px">-4</tspan></text>
<text x="307.60" y="229.80" text-anchor="middle" fill="#000" style="font-family:'Liberation Serif', serif;font-size:12.3px;font-style:italic;" >0</text>
<text x="335.30" y="229.80" text-anchor="middle" fill="#000" style="font-family:'Liberation Serif', serif;font-size:12.3px;font-style:italic;" >1</text>
<text x="363.00" y="229.80" text-anchor="middle" fill="#000" style="font-family:'Liberation Serif', serif;font-size:12.3px;font-style:italic;" >2</text>
<text x="390.70" y="229.80" text-anchor="middle" fill="#000" style="font-family:'Liberation Serif', serif;font-size:12.3px;font-style:italic;" >3</text>
<text x="418.40" y="229.80" text-anchor="middle" fill="#000" style="font-family:'Liberation Serif', serif;font-size:12.3px;font-style:italic;" >4</text>
<text x="446.10" y="229.80" text-anchor="middle" fill="#000" style="font-family:'Liberation Serif', serif;font-size:12.3px;font-style:italic;" >5</text>
<text x="473.80" y="229.80" text-anchor="middle" fill="#000" style="font-family:'Liberation Serif', serif;font-size:12.3px;font-style:italic;" >6</text>
<text x="501.50" y="229.80" text-anchor="middle" fill="#000" style="font-family:'Liberation Serif', serif;font-size:12.3px;font-style:italic;" >7</text>
<text x="529.20" y="229.80" text-anchor="middle" fill="#000" style="font-family:'Liberation Serif', serif;font-size:12.3px;font-style:italic;" >8</text>
<text x="477.3" y="243.3" style="font-family:'Liberation Serif', serif;font-size:12.3px"><tspan style="font-style:italic">p</tspan><tspan dy="4" style="font-size:8.5px">T</tspan><tspan dy="-4"> [GeV/</tspan><tspan style="font-style:italic">c</tspan>]</text>
<text transform="translate(283.4,131.0) rotate(-90)" style="font-family:'Liberation Serif', serif;font-size:11.6px">10<tspan dy="-4.2" style="font-size:7.5px">-m</tspan><tspan dy="4.2"> × dσ/d</tspan><tspan style="font-style:italic">p</tspan><tspan dy="2.8" style="font-size:7.5px">T</tspan><tspan dy="-2.8"> [µb/(GeV/</tspan><tspan style="font-style:italic">c</tspan>)]</text>
<g clip-path="url(#clipb)">
<polygon points="390.70,11.41 393.19,12.67 395.68,13.92 398.16,15.15 400.65,16.37 403.14,17.58 405.63,18.77 408.12,19.94 410.61,21.11 413.09,22.26 415.58,23.40 418.07,24.52 420.56,25.63 423.05,26.73 425.54,27.81 428.02,28.88 430.51,29.94 433.00,30.99 435.49,32.02 437.98,33.04 440.47,34.05 442.95,35.04 445.44,36.03 447.93,37.00 450.42,37.95 452.91,38.90 455.40,39.83 457.88,40.75 460.37,41.65 462.86,42.55 465.35,43.43 467.84,44.30 470.33,45.16 472.81,46.00 475.30,46.83 477.79,47.65 480.28,48.46 482.77,49.25 485.26,50.04 487.74,50.81 490.23,51.56 492.72,52.31 495.21,53.04 497.70,53.77 500.19,54.47 502.67,55.17 505.16,55.85 507.65,56.53 510.14,57.19 512.63,57.83 515.12,58.47 517.60,59.09 520.09,59.70 522.58,60.30 525.07,60.89 527.56,61.46 530.05,62.03 532.53,62.58 535.02,63.11 537.51,63.64 537.51,72.35 535.02,71.89 532.53,71.41 530.05,70.93 527.56,70.43 525.07,69.92 522.58,69.41 520.09,68.88 517.60,68.34 515.12,67.80 512.63,67.24 510.14,66.68 507.65,66.10 505.16,65.51 502.67,64.92 500.19,64.31 497.70,63.70 495.21,63.08 492.72,62.45 490.23,61.80 487.74,61.16 485.26,60.50 482.77,59.83 480.28,59.16 477.79,58.47 475.30,57.78 472.81,57.08 470.33,56.38 467.84,55.67 465.35,54.95 462.86,54.22 460.37,53.49 457.88,52.75 455.40,52.01 452.91,51.26 450.42,50.50 447.93,49.75 445.44,48.99 442.95,48.22 440.47,47.45 437.98,46.68 435.49,45.91 433.00,45.14 430.51,44.37 428.02,43.60 425.54,42.84 423.05,42.07 420.56,41.31 418.07,40.56 415.58,39.81 413.09,39.08 410.61,38.35 408.12,37.64 405.63,36.94 403.14,36.25 400.65,35.59 398.16,34.95 395.68,34.34 393.19,33.76 390.70,33.21" fill="#efefef" stroke="none" stroke-width="1" />
<polyline points="390.70,11.41 393.19,12.67 395.68,13.92 398.16,15.15 400.65,16.37 403.14,17.58 405.63,18.77 408.12,19.94 410.61,21.11 413.09,22.26 415.58,23.40 418.07,24.52 420.56,25.63 423.05,26.73 425.54,27.81 428.02,28.88 430.51,29.94 433.00,30.99 435.49,32.02 437.98,33.04 440.47,34.05 442.95,35.04 445.44,36.03 447.93,37.00 450.42,37.95 452.91,38.90 455.40,39.83 457.88,40.75 460.37,41.65 462.86,42.55 465.35,43.43 467.84,44.30 470.33,45.16 472.81,46.00 475.30,46.83 477.79,47.65 480.28,48.46 482.77,49.25 485.26,50.04 487.74,50.81 490.23,51.56 492.72,52.31 495.21,53.04 497.70,53.77 500.19,54.47 502.67,55.17 505.16,55.85 507.65,56.53 510.14,57.19 512.63,57.83 515.12,58.47 517.60,59.09 520.09,59.70 522.58,60.30 525.07,60.89 527.56,61.46 530.05,62.03 532.53,62.58 535.02,63.11 537.51,63.64" fill="none" stroke="#a4a4a4" stroke-width="0.75" stroke-linejoin="round" />
<polyline points="390.70,13.61 393.19,14.87 395.68,16.12 398.16,17.35 400.65,18.57 403.14,19.78 405.63,20.97 408.12,22.14 410.61,23.31 413.09,24.46 415.58,25.60 418.07,26.72 420.56,27.83 423.05,28.93 425.54,30.01 428.02,31.08 430.51,32.14 433.00,33.19 435.49,34.22 437.98,35.24 440.47,36.25 442.95,37.24 445.44,38.23 447.93,39.20 450.42,40.15 452.91,41.10 455.40,42.03 457.88,42.95 460.37,43.85 462.86,44.75 465.35,45.63 467.84,46.50 470.33,47.36 472.81,48.20 475.30,49.03 477.79,49.85 480.28,50.66 482.77,51.45 485.26,52.24 487.74,53.01 490.23,53.76 492.72,54.51 495.21,55.24 497.70,55.97 500.19,56.67 502.67,57.37 505.16,58.05 507.65,58.73 510.14,59.39 512.63,60.03 515.12,60.67 517.60,61.29 520.09,61.90 522.58,62.50 525.07,63.09 527.56,63.66 530.05,64.23 532.53,64.78 535.02,65.31 537.51,65.84" fill="none" stroke="#c4c4c4" stroke-width="0.5" stroke-linejoin="round" />
<polyline points="390.70,33.21 393.19,33.76 395.68,34.34 398.16,34.95 400.65,35.59 403.14,36.25 405.63,36.94 408.12,37.64 410.61,38.35 413.09,39.08 415.58,39.81 418.07,40.56 420.56,41.31 423.05,42.07 425.54,42.84 428.02,43.60 430.51,44.37 433.00,45.14 435.49,45.91 437.98,46.68 440.47,47.45 442.95,48.22 445.44,48.99 447.93,49.75 450.42,50.50 452.91,51.26 455.40,52.01 457.88,52.75 460.37,53.49 462.86,54.22 465.35,54.95 467.84,55.67 470.33,56.38 472.81,57.08 475.30,57.78 477.79,58.47 480.28,59.16 482.77,59.83 485.26,60.50 487.74,61.16 490.23,61.80 492.72,62.45 495.21,63.08 497.70,63.70 500.19,64.31 502.67,64.92 505.16,65.51 507.65,66.10 510.14,66.68 512.63,67.24 515.12,67.80 517.60,68.34 520.09,68.88 522.58,69.41 525.07,69.92 527.56,70.43 530.05,70.93 532.53,71.41 535.02,71.89 537.51,72.35" fill="none" stroke="#a4a4a4" stroke-width="0.75" stroke-linejoin="round" />
<polyline points="390.70,31.41 393.19,31.96 395.68,32.54 398.16,33.15 400.65,33.79 403.14,34.45 405.63,35.14 408.12,35.84 410.61,36.55 413.09,37.28 415.58,38.01 418.07,38.76 420.56,39.51 423.05,40.27 425.54,41.04 428.02,41.80 430.51,42.57 433.00,43.34 435.49,44.11 437.98,44.88 440.47,45.65 442.95,46.42 445.44,47.19 447.93,47.95 450.42,48.70 452.91,49.46 455.40,50.21 457.88,50.95 460.37,51.69 462.86,52.42 465.35,53.15 467.84,53.87 470.33,54.58 472.81,55.28 475.30,55.98 477.79,56.67 480.28,57.36 482.77,58.03 485.26,58.70 487.74,59.36 490.23,60.00 492.72,60.65 495.21,61.28 497.70,61.90 500.19,62.51 502.67,63.12 505.16,63.71 507.65,64.30 510.14,64.88 512.63,65.44 515.12,66.00 517.60,66.54 520.09,67.08 522.58,67.61 525.07,68.12 527.56,68.63 530.05,69.13 532.53,69.61 535.02,70.09 537.51,70.55" fill="none" stroke="#c8c8c8" stroke-width="0.5" stroke-linejoin="round" />
<line x1="390.70" y1="11.41" x2="390.70" y2="33.21" stroke="#bdbdbd" stroke-width="0.6" />
<polyline points="390.70,16.81 393.19,18.03 395.68,19.23 398.16,20.43 400.65,21.61 403.14,22.78 405.63,23.94 408.12,25.08 410.61,26.22 413.09,27.34 415.58,28.45 418.07,29.55 420.56,30.63 423.05,31.71 425.54,32.77 428.02,33.82 430.51,34.86 433.00,35.88 435.49,36.90 437.98,37.90 440.47,38.89 442.95,39.86 445.44,40.83 447.93,41.78 450.42,42.72 452.91,43.65 455.40,44.57 457.88,45.48 460.37,46.37 462.86,47.25 465.35,48.12 467.84,48.98 470.33,49.82 472.81,50.65 475.30,51.48 477.79,52.28 480.28,53.08 482.77,53.87 485.26,54.64 487.74,55.40 490.23,56.15 492.72,56.88 495.21,57.61 497.70,58.32 500.19,59.02 502.67,59.71 505.16,60.39 507.65,61.05 510.14,61.70 512.63,62.34 515.12,62.97 517.60,63.59 520.09,64.19 522.58,64.78 525.07,65.36 527.56,65.93 530.05,66.49 532.53,67.03 535.02,67.56 537.51,68.08" fill="none" stroke="#3f62bd" stroke-width="0.7" stroke-linejoin="round" stroke-dasharray="0.9,1.1"/>
<polyline points="390.70,17.71 393.19,18.93 395.68,20.13 398.16,21.33 400.65,22.51 403.14,23.68 405.63,24.84 408.12,25.98 410.61,27.12 413.09,28.24 415.58,29.35 418.07,30.45 420.56,31.53 423.05,32.61 425.54,33.67 428.02,34.72 430.51,35.76 433.00,36.78 435.49,37.80 437.98,38.80 440.47,39.79 442.95,40.76 445.44,41.73 447.93,42.68 450.42,43.62 452.91,44.55 455.40,45.47 457.88,46.38 460.37,47.27 462.86,48.15 465.35,49.02 467.84,49.88 470.33,50.72 472.81,51.55 475.30,52.38 477.79,53.18 480.28,53.98 482.77,54.77 485.26,55.54 487.74,56.30 490.23,57.05 492.72,57.78 495.21,58.51 497.70,59.22 500.19,59.92 502.67,60.61 505.16,61.29 507.65,61.95 510.14,62.60 512.63,63.24 515.12,63.87 517.60,64.49 520.09,65.09 522.58,65.68 525.07,66.26 527.56,66.83 530.05,67.39 532.53,67.93 535.02,68.46 537.51,68.98" fill="none" stroke="#3f62bd" stroke-width="1.15" stroke-linejoin="round" stroke-dasharray="6.5,1.6"/>
<polyline points="311.20,39.71 312.62,33.30 314.05,30.53 315.47,28.79 316.89,27.42 318.32,26.22 319.74,25.12 321.16,24.12 322.59,23.21 324.01,22.37 325.43,21.61 326.86,20.93 328.28,20.33 329.70,19.79 331.13,19.33 332.55,18.92 333.97,18.58 335.40,18.30 336.82,18.07 338.24,17.89 339.67,17.76 341.09,17.68 342.51,17.64 343.94,17.64 345.36,17.68 346.78,17.75 348.21,17.87 349.63,18.01 351.05,18.18 352.48,18.39 353.90,18.62 355.32,18.87 356.75,19.14 358.17,19.44 359.59,19.76 361.02,20.09 362.44,20.44 363.86,20.81 365.29,21.19 366.71,21.58 368.13,21.99 369.56,22.41 370.98,22.84 372.40,23.28 373.83,23.73 375.25,24.18 376.67,24.65 378.10,25.12 379.52,25.60 380.94,26.08 382.37,26.58 383.79,27.07 385.21,27.57 386.64,28.08 388.06,28.58 389.48,29.10 390.91,29.61 392.33,30.13 393.75,30.65 395.18,31.17 396.60,31.69 398.02,32.22 399.45,32.74 400.87,33.27 402.29,33.80 403.72,34.33 405.14,34.86 406.56,35.39 407.99,35.91 409.41,36.44 410.83,36.97 412.26,37.50 413.68,38.03 415.10,38.55 416.53,39.08 417.95,39.60 419.37,40.13 420.80,40.65 422.22,41.17 423.64,41.69 425.07,42.20 426.49,42.72 427.91,43.23 429.34,43.75 430.76,44.26 432.18,44.76 433.61,45.27 435.03,45.77 436.45,46.28 437.88,46.78 439.30,47.27 440.72,47.77 442.15,48.26 443.57,48.75 444.99,49.24 446.42,49.72 447.84,50.21 449.26,50.69 450.69,51.16 452.11,51.64 453.53,52.11 454.96,52.58 456.38,53.05 457.80,53.51 459.23,53.97 460.65,54.43 462.07,54.88 463.50,55.34 464.92,55.79 466.34,56.23 467.77,56.68 469.19,57.12 470.61,57.56 472.04,57.99 473.46,58.42 474.88,58.85 476.31,59.28 477.73,59.70 479.15,60.12 480.58,60.54 482.00,60.96 483.42,61.37 484.85,61.78 486.27,62.18 487.69,62.58 489.12,62.98 490.54,63.38 491.96,63.77 493.39,64.17 494.81,64.55 496.23,64.94 497.66,65.32 499.08,65.70 500.50,66.08 501.93,66.45 503.35,66.82 504.77,67.19 506.20,67.55 507.62,67.91 509.04,68.27 510.47,68.63 511.89,68.98 513.31,69.33 514.74,69.68 516.16,70.02 517.58,70.36 519.01,70.70 520.43,71.04 521.85,71.37 523.28,71.70 524.70,72.03 526.12,72.35 527.55,72.67 528.97,72.99 530.39,73.31 531.82,73.62 533.24,73.93 534.66,74.24 536.09,74.54 537.51,74.84" fill="none" stroke="#3f62bd" stroke-width="1.1" stroke-linejoin="round" />
<polygon points="390.70,43.91 393.19,45.17 395.68,46.42 398.16,47.65 400.65,48.87 403.14,50.08 405.63,51.27 408.12,52.44 410.61,53.61 413.09,54.76 415.58,55.90 418.07,57.02 420.56,58.13 423.05,59.23 425.54,60.31 428.02,61.38 430.51,62.44 433.00,63.49 435.49,64.52 437.98,65.54 440.47,66.55 442.95,67.54 445.44,68.53 447.93,69.50 450.42,70.45 452.91,71.40 455.40,72.33 457.88,73.25 460.37,74.15 462.86,75.05 465.35,75.93 467.84,76.80 470.33,77.66 472.81,78.50 475.30,79.33 477.79,80.15 480.28,80.96 482.77,81.75 485.26,82.54 487.74,83.31 490.23,84.06 492.72,84.81 495.21,85.54 497.70,86.27 500.19,86.97 502.67,87.67 505.16,88.35 507.65,89.03 510.14,89.69 512.63,90.33 515.12,90.97 517.60,91.59 520.09,92.20 522.58,92.80 525.07,93.39 527.56,93.96 530.05,94.53 532.53,95.08 535.02,95.61 537.51,96.14 537.51,104.85 535.02,104.39 532.53,103.91 530.05,103.43 527.56,102.93 525.07,102.42 522.58,101.91 520.09,101.38 517.60,100.84 515.12,100.30 512.63,99.74 510.14,99.18 507.65,98.60 505.16,98.01 502.67,97.42 500.19,96.81 497.70,96.20 495.21,95.58 492.72,94.95 490.23,94.30 487.74,93.66 485.26,93.00 482.77,92.33 480.28,91.66 477.79,90.97 475.30,90.28 472.81,89.58 470.33,88.88 467.84,88.17 465.35,87.45 462.86,86.72 460.37,85.99 457.88,85.25 455.40,84.51 452.91,83.76 450.42,83.00 447.93,82.25 445.44,81.49 442.95,80.72 440.47,79.95 437.98,79.18 435.49,78.41 433.00,77.64 430.51,76.87 428.02,76.10 425.54,75.34 423.05,74.57 420.56,73.81 418.07,73.06 415.58,72.31 413.09,71.58 410.61,70.85 408.12,70.14 405.63,69.44 403.14,68.75 400.65,68.09 398.16,67.45 395.68,66.84 393.19,66.26 390.70,65.71" fill="#efefef" stroke="none" stroke-width="1" />
<polyline points="390.70,43.91 393.19,45.17 395.68,46.42 398.16,47.65 400.65,48.87 403.14,50.08 405.63,51.27 408.12,52.44 410.61,53.61 413.09,54.76 415.58,55.90 418.07,57.02 420.56,58.13 423.05,59.23 425.54,60.31 428.02,61.38 430.51,62.44 433.00,63.49 435.49,64.52 437.98,65.54 440.47,66.55 442.95,67.54 445.44,68.53 447.93,69.50 450.42,70.45 452.91,71.40 455.40,72.33 457.88,73.25 460.37,74.15 462.86,75.05 465.35,75.93 467.84,76.80 470.33,77.66 472.81,78.50 475.30,79.33 477.79,80.15 480.28,80.96 482.77,81.75 485.26,82.54 487.74,83.31 490.23,84.06 492.72,84.81 495.21,85.54 497.70,86.27 500.19,86.97 502.67,87.67 505.16,88.35 507.65,89.03 510.14,89.69 512.63,90.33 515.12,90.97 517.60,91.59 520.09,92.20 522.58,92.80 525.07,93.39 527.56,93.96 530.05,94.53 532.53,95.08 535.02,95.61 537.51,96.14" fill="none" stroke="#a4a4a4" stroke-width="0.75" stroke-linejoin="round" />
<polyline points="390.70,46.11 393.19,47.37 395.68,48.62 398.16,49.85 400.65,51.07 403.14,52.28 405.63,53.47 408.12,54.64 410.61,55.81 413.09,56.96 415.58,58.10 418.07,59.22 420.56,60.33 423.05,61.43 425.54,62.51 428.02,63.58 430.51,64.64 433.00,65.69 435.49,66.72 437.98,67.74 440.47,68.75 442.95,69.74 445.44,70.73 447.93,71.70 450.42,72.65 452.91,73.60 455.40,74.53 457.88,75.45 460.37,76.35 462.86,77.25 465.35,78.13 467.84,79.00 470.33,79.86 472.81,80.70 475.30,81.53 477.79,82.35 480.28,83.16 482.77,83.95 485.26,84.74 487.74,85.51 490.23,86.26 492.72,87.01 495.21,87.74 497.70,88.47 500.19,89.17 502.67,89.87 505.16,90.55 507.65,91.23 510.14,91.89 512.63,92.53 515.12,93.17 517.60,93.79 520.09,94.40 522.58,95.00 525.07,95.59 527.56,96.16 530.05,96.73 532.53,97.28 535.02,97.81 537.51,98.34" fill="none" stroke="#c4c4c4" stroke-width="0.5" stroke-linejoin="round" />
<polyline points="390.70,65.71 393.19,66.26 395.68,66.84 398.16,67.45 400.65,68.09 403.14,68.75 405.63,69.44 408.12,70.14 410.61,70.85 413.09,71.58 415.58,72.31 418.07,73.06 420.56,73.81 423.05,74.57 425.54,75.34 428.02,76.10 430.51,76.87 433.00,77.64 435.49,78.41 437.98,79.18 440.47,79.95 442.95,80.72 445.44,81.49 447.93,82.25 450.42,83.00 452.91,83.76 455.40,84.51 457.88,85.25 460.37,85.99 462.86,86.72 465.35,87.45 467.84,88.17 470.33,88.88 472.81,89.58 475.30,90.28 477.79,90.97 480.28,91.66 482.77,92.33 485.26,93.00 487.74,93.66 490.23,94.30 492.72,94.95 495.21,95.58 497.70,96.20 500.19,96.81 502.67,97.42 505.16,98.01 507.65,98.60 510.14,99.18 512.63,99.74 515.12,100.30 517.60,100.84 520.09,101.38 522.58,101.91 525.07,102.42 527.56,102.93 530.05,103.43 532.53,103.91 535.02,104.39 537.51,104.85" fill="none" stroke="#a4a4a4" stroke-width="0.75" stroke-linejoin="round" />
<polyline points="390.70,63.91 393.19,64.46 395.68,65.04 398.16,65.65 400.65,66.29 403.14,66.95 405.63,67.64 408.12,68.34 410.61,69.05 413.09,69.78 415.58,70.51 418.07,71.26 420.56,72.01 423.05,72.77 425.54,73.54 428.02,74.30 430.51,75.07 433.00,75.84 435.49,76.61 437.98,77.38 440.47,78.15 442.95,78.92 445.44,79.69 447.93,80.45 450.42,81.20 452.91,81.96 455.40,82.71 457.88,83.45 460.37,84.19 462.86,84.92 465.35,85.65 467.84,86.37 470.33,87.08 472.81,87.78 475.30,88.48 477.79,89.17 480.28,89.86 482.77,90.53 485.26,91.20 487.74,91.86 490.23,92.50 492.72,93.15 495.21,93.78 497.70,94.40 500.19,95.01 502.67,95.62 505.16,96.21 507.65,96.80 510.14,97.38 512.63,97.94 515.12,98.50 517.60,99.04 520.09,99.58 522.58,100.11 525.07,100.62 527.56,101.13 530.05,101.63 532.53,102.11 535.02,102.59 537.51,103.05" fill="none" stroke="#c8c8c8" stroke-width="0.5" stroke-linejoin="round" />
<line x1="390.70" y1="43.91" x2="390.70" y2="65.71" stroke="#bdbdbd" stroke-width="0.6" />
<polyline points="390.70,49.31 393.19,50.53 395.68,51.73 398.16,52.93 400.65,54.11 403.14,55.28 405.63,56.44 408.12,57.58 410.61,58.72 413.09,59.84 415.58,60.95 418.07,62.05 420.56,63.13 423.05,64.21 425.54,65.27 428.02,66.32 430.51,67.36 433.00,68.38 435.49,69.40 437.98,70.40 440.47,71.39 442.95,72.36 445.44,73.33 447.93,74.28 450.42,75.22 452.91,76.15 455.40,77.07 457.88,77.98 460.37,78.87 462.86,79.75 465.35,80.62 467.84,81.48 470.33,82.32 472.81,83.15 475.30,83.98 477.79,84.78 480.28,85.58 482.77,86.37 485.26,87.14 487.74,87.90 490.23,88.65 492.72,89.38 495.21,90.11 497.70,90.82 500.19,91.52 502.67,92.21 505.16,92.89 507.65,93.55 510.14,94.20 512.63,94.84 515.12,95.47 517.60,96.09 520.09,96.69 522.58,97.28 525.07,97.86 527.56,98.43 530.05,98.99 532.53,99.53 535.02,100.06 537.51,100.58" fill="none" stroke="#3f62bd" stroke-width="0.7" stroke-linejoin="round" stroke-dasharray="0.9,1.1"/>
<polyline points="390.70,50.21 393.19,51.43 395.68,52.63 398.16,53.83 400.65,55.01 403.14,56.18 405.63,57.34 408.12,58.48 410.61,59.62 413.09,60.74 415.58,61.85 418.07,62.95 420.56,64.03 423.05,65.11 425.54,66.17 428.02,67.22 430.51,68.26 433.00,69.28 435.49,70.30 437.98,71.30 440.47,72.29 442.95,73.26 445.44,74.23 447.93,75.18 450.42,76.12 452.91,77.05 455.40,77.97 457.88,78.88 460.37,79.77 462.86,80.65 465.35,81.52 467.84,82.38 470.33,83.22 472.81,84.05 475.30,84.88 477.79,85.68 480.28,86.48 482.77,87.27 485.26,88.04 487.74,88.80 490.23,89.55 492.72,90.28 495.21,91.01 497.70,91.72 500.19,92.42 502.67,93.11 505.16,93.79 507.65,94.45 510.14,95.10 512.63,95.74 515.12,96.37 517.60,96.99 520.09,97.59 522.58,98.18 525.07,98.76 527.56,99.33 530.05,99.89 532.53,100.43 535.02,100.96 537.51,101.48" fill="none" stroke="#3f62bd" stroke-width="1.15" stroke-linejoin="round" stroke-dasharray="6.5,1.6"/>
<polyline points="311.20,69.51 312.62,63.19 314.05,60.51 315.47,58.86 316.89,57.56 318.32,56.43 319.74,55.39 321.16,54.45 322.59,53.57 324.01,52.78 325.43,52.06 326.86,51.41 328.28,50.83 329.70,50.32 331.13,49.87 332.55,49.49 333.97,49.16 335.40,48.88 336.82,48.66 338.24,48.48 339.67,48.36 341.09,48.28 342.51,48.24 343.94,48.24 345.36,48.30 346.78,48.42 348.21,48.58 349.63,48.76 351.05,48.98 352.48,49.23 353.90,49.50 355.32,49.80 356.75,50.12 358.17,50.46 359.59,50.82 361.02,51.20 362.44,51.60 363.86,52.01 365.29,52.43 366.71,52.87 368.13,53.32 369.56,53.79 370.98,54.26 372.40,54.74 373.83,55.24 375.25,55.74 376.67,56.25 378.10,56.77 379.52,57.29 380.94,57.82 382.37,58.35 383.79,58.89 385.21,59.44 386.64,59.99 388.06,60.54 389.48,61.10 390.91,61.66 392.33,62.22 393.75,62.78 395.18,63.35 396.60,63.92 398.02,64.49 399.45,65.04 400.87,65.57 402.29,66.10 403.72,66.63 405.14,67.16 406.56,67.69 407.99,68.21 409.41,68.74 410.83,69.27 412.26,69.80 413.68,70.33 415.10,70.85 416.53,71.38 417.95,71.90 419.37,72.43 420.80,72.95 422.22,73.47 423.64,73.99 425.07,74.50 426.49,75.02 427.91,75.53 429.34,76.05 430.76,76.56 432.18,77.06 433.61,77.57 435.03,78.07 436.45,78.58 437.88,79.08 439.30,79.57 440.72,80.07 442.15,80.56 443.57,81.05 444.99,81.54 446.42,82.02 447.84,82.51 449.26,82.99 450.69,83.46 452.11,83.94 453.53,84.41 454.96,84.88 456.38,85.35 457.80,85.81 459.23,86.27 460.65,86.73 462.07,87.18 463.50,87.64 464.92,88.09 466.34,88.53 467.77,88.98 469.19,89.42 470.61,89.86 472.04,90.29 473.46,90.72 474.88,91.15 476.31,91.58 477.73,92.00 479.15,92.42 480.58,92.84 482.00,93.26 483.42,93.67 484.85,94.08 486.27,94.48 487.69,94.88 489.12,95.28 490.54,95.68 491.96,96.07 493.39,96.47 494.81,96.85 496.23,97.24 497.66,97.62 499.08,98.00 500.50,98.38 501.93,98.75 503.35,99.12 504.77,99.49 506.20,99.85 507.62,100.21 509.04,100.57 510.47,100.93 511.89,101.28 513.31,101.63 514.74,101.98 516.16,102.32 517.58,102.66 519.01,103.00 520.43,103.34 521.85,103.67 523.28,104.00 524.70,104.33 526.12,104.65 527.55,104.97 528.97,105.29 530.39,105.61 531.82,105.92 533.24,106.23 534.66,106.54 536.09,106.84 537.51,107.14" fill="none" stroke="#3f62bd" stroke-width="1.1" stroke-linejoin="round" />
<polygon points="390.70,75.51 393.19,76.77 395.68,78.02 398.16,79.25 400.65,80.47 403.14,81.68 405.63,82.87 408.12,84.04 410.61,85.21 413.09,86.36 415.58,87.50 418.07,88.62 420.56,89.73 423.05,90.83 425.54,91.91 428.02,92.98 430.51,94.04 433.00,95.09 435.49,96.12 437.98,97.14 440.47,98.15 442.95,99.14 445.44,100.13 447.93,101.10 450.42,102.05 452.91,103.00 455.40,103.93 457.88,104.85 460.37,105.75 462.86,106.65 465.35,107.53 467.84,108.40 470.33,109.26 472.81,110.10 475.30,110.93 477.79,111.75 480.28,112.56 482.77,113.35 485.26,114.14 487.74,114.91 490.23,115.66 492.72,116.41 495.21,117.14 497.70,117.87 500.19,118.57 502.67,119.27 505.16,119.95 507.65,120.63 510.14,121.29 512.63,121.93 515.12,122.57 517.60,123.19 520.09,123.80 522.58,124.40 525.07,124.99 527.56,125.56 530.05,126.13 532.53,126.68 535.02,127.21 537.51,127.74 537.51,136.45 535.02,135.99 532.53,135.51 530.05,135.03 527.56,134.53 525.07,134.02 522.58,133.51 520.09,132.98 517.60,132.44 515.12,131.90 512.63,131.34 510.14,130.78 507.65,130.20 505.16,129.61 502.67,129.02 500.19,128.41 497.70,127.80 495.21,127.18 492.72,126.55 490.23,125.90 487.74,125.26 485.26,124.60 482.77,123.93 480.28,123.26 477.79,122.57 475.30,121.88 472.81,121.18 470.33,120.48 467.84,119.77 465.35,119.05 462.86,118.32 460.37,117.59 457.88,116.85 455.40,116.11 452.91,115.36 450.42,114.60 447.93,113.85 445.44,113.09 442.95,112.32 440.47,111.55 437.98,110.78 435.49,110.01 433.00,109.24 430.51,108.47 428.02,107.70 425.54,106.94 423.05,106.17 420.56,105.41 418.07,104.66 415.58,103.91 413.09,103.18 410.61,102.45 408.12,101.74 405.63,101.04 403.14,100.35 400.65,99.69 398.16,99.05 395.68,98.44 393.19,97.86 390.70,97.31" fill="#efefef" stroke="none" stroke-width="1" />
<polyline points="390.70,75.51 393.19,76.77 395.68,78.02 398.16,79.25 400.65,80.47 403.14,81.68 405.63,82.87 408.12,84.04 410.61,85.21 413.09,86.36 415.58,87.50 418.07,88.62 420.56,89.73 423.05,90.83 425.54,91.91 428.02,92.98 430.51,94.04 433.00,95.09 435.49,96.12 437.98,97.14 440.47,98.15 442.95,99.14 445.44,100.13 447.93,101.10 450.42,102.05 452.91,103.00 455.40,103.93 457.88,104.85 460.37,105.75 462.86,106.65 465.35,107.53 467.84,108.40 470.33,109.26 472.81,110.10 475.30,110.93 477.79,111.75 480.28,112.56 482.77,113.35 485.26,114.14 487.74,114.91 490.23,115.66 492.72,116.41 495.21,117.14 497.70,117.87 500.19,118.57 502.67,119.27 505.16,119.95 507.65,120.63 510.14,121.29 512.63,121.93 515.12,122.57 517.60,123.19 520.09,123.80 522.58,124.40 525.07,124.99 527.56,125.56 530.05,126.13 532.53,126.68 535.02,127.21 537.51,127.74" fill="none" stroke="#a4a4a4" stroke-width="0.75" stroke-linejoin="round" />
<polyline points="390.70,77.71 393.19,78.97 395.68,80.22 398.16,81.45 400.65,82.67 403.14,83.88 405.63,85.07 408.12,86.24 410.61,87.41 413.09,88.56 415.58,89.70 418.07,90.82 420.56,91.93 423.05,93.03 425.54,94.11 428.02,95.18 430.51,96.24 433.00,97.29 435.49,98.32 437.98,99.34 440.47,100.35 442.95,101.34 445.44,102.33 447.93,103.30 450.42,104.25 452.91,105.20 455.40,106.13 457.88,107.05 460.37,107.95 462.86,108.85 465.35,109.73 467.84,110.60 470.33,111.46 472.81,112.30 475.30,113.13 477.79,113.95 480.28,114.76 482.77,115.55 485.26,116.34 487.74,117.11 490.23,117.86 492.72,118.61 495.21,119.34 497.70,120.07 500.19,120.77 502.67,121.47 505.16,122.15 507.65,122.83 510.14,123.49 512.63,124.13 515.12,124.77 517.60,125.39 520.09,126.00 522.58,126.60 525.07,127.19 527.56,127.76 530.05,128.33 532.53,128.88 535.02,129.41 537.51,129.94" fill="none" stroke="#c4c4c4" stroke-width="0.5" stroke-linejoin="round" />
<polyline points="390.70,97.31 393.19,97.86 395.68,98.44 398.16,99.05 400.65,99.69 403.14,100.35 405.63,101.04 408.12,101.74 410.61,102.45 413.09,103.18 415.58,103.91 418.07,104.66 420.56,105.41 423.05,106.17 425.54,106.94 428.02,107.70 430.51,108.47 433.00,109.24 435.49,110.01 437.98,110.78 440.47,111.55 442.95,112.32 445.44,113.09 447.93,113.85 450.42,114.60 452.91,115.36 455.40,116.11 457.88,116.85 460.37,117.59 462.86,118.32 465.35,119.05 467.84,119.77 470.33,120.48 472.81,121.18 475.30,121.88 477.79,122.57 480.28,123.26 482.77,123.93 485.26,124.60 487.74,125.26 490.23,125.90 492.72,126.55 495.21,127.18 497.70,127.80 500.19,128.41 502.67,129.02 505.16,129.61 507.65,130.20 510.14,130.78 512.63,131.34 515.12,131.90 517.60,132.44 520.09,132.98 522.58,133.51 525.07,134.02 527.56,134.53 530.05,135.03 532.53,135.51 535.02,135.99 537.51,136.45" fill="none" stroke="#a4a4a4" stroke-width="0.75" stroke-linejoin="round" />
<polyline points="390.70,95.51 393.19,96.06 395.68,96.64 398.16,97.25 400.65,97.89 403.14,98.55 405.63,99.24 408.12,99.94 410.61,100.65 413.09,101.38 415.58,102.11 418.07,102.86 420.56,103.61 423.05,104.37 425.54,105.14 428.02,105.90 430.51,106.67 433.00,107.44 435.49,108.21 437.98,108.98 440.47,109.75 442.95,110.52 445.44,111.29 447.93,112.05 450.42,112.80 452.91,113.56 455.40,114.31 457.88,115.05 460.37,115.79 462.86,116.52 465.35,117.25 467.84,117.97 470.33,118.68 472.81,119.38 475.30,120.08 477.79,120.77 480.28,121.46 482.77,122.13 485.26,122.80 487.74,123.46 490.23,124.10 492.72,124.75 495.21,125.38 497.70,126.00 500.19,126.61 502.67,127.22 505.16,127.81 507.65,128.40 510.14,128.98 512.63,129.54 515.12,130.10 517.60,130.64 520.09,131.18 522.58,131.71 525.07,132.22 527.56,132.73 530.05,133.23 532.53,133.71 535.02,134.19 537.51,134.65" fill="none" stroke="#c8c8c8" stroke-width="0.5" stroke-linejoin="round" />
<line x1="390.70" y1="75.51" x2="390.70" y2="97.31" stroke="#bdbdbd" stroke-width="0.6" />
<polyline points="390.70,80.91 393.19,82.13 395.68,83.33 398.16,84.53 400.65,85.71 403.14,86.88 405.63,88.04 408.12,89.18 410.61,90.32 413.09,91.44 415.58,92.55 418.07,93.65 420.56,94.73 423.05,95.81 425.54,96.87 428.02,97.92 430.51,98.96 433.00,99.98 435.49,101.00 437.98,102.00 440.47,102.99 442.95,103.96 445.44,104.93 447.93,105.88 450.42,106.82 452.91,107.75 455.40,108.67 457.88,109.58 460.37,110.47 462.86,111.35 465.35,112.22 467.84,113.08 470.33,113.92 472.81,114.75 475.30,115.58 477.79,116.38 480.28,117.18 482.77,117.97 485.26,118.74 487.74,119.50 490.23,120.25 492.72,120.98 495.21,121.71 497.70,122.42 500.19,123.12 502.67,123.81 505.16,124.49 507.65,125.15 510.14,125.80 512.63,126.44 515.12,127.07 517.60,127.69 520.09,128.29 522.58,128.88 525.07,129.46 527.56,130.03 530.05,130.59 532.53,131.13 535.02,131.66 537.51,132.18" fill="none" stroke="#3f62bd" stroke-width="0.7" stroke-linejoin="round" stroke-dasharray="0.9,1.1"/>
<polyline points="390.70,81.81 393.19,83.03 395.68,84.23 398.16,85.43 400.65,86.61 403.14,87.78 405.63,88.94 408.12,90.08 410.61,91.22 413.09,92.34 415.58,93.45 418.07,94.55 420.56,95.63 423.05,96.71 425.54,97.77 428.02,98.82 430.51,99.86 433.00,100.88 435.49,101.90 437.98,102.90 440.47,103.89 442.95,104.86 445.44,105.83 447.93,106.78 450.42,107.72 452.91,108.65 455.40,109.57 457.88,110.48 460.37,111.37 462.86,112.25 465.35,113.12 467.84,113.98 470.33,114.82 472.81,115.65 475.30,116.48 477.79,117.28 480.28,118.08 482.77,118.87 485.26,119.64 487.74,120.40 490.23,121.15 492.72,121.88 495.21,122.61 497.70,123.32 500.19,124.02 502.67,124.71 505.16,125.39 507.65,126.05 510.14,126.70 512.63,127.34 515.12,127.97 517.60,128.59 520.09,129.19 522.58,129.78 525.07,130.36 527.56,130.93 530.05,131.49 532.53,132.03 535.02,132.56 537.51,133.08" fill="none" stroke="#3f62bd" stroke-width="1.15" stroke-linejoin="round" stroke-dasharray="6.5,1.6"/>
<polyline points="311.20,100.11 312.62,93.89 314.05,91.30 315.47,89.73 316.89,88.50 318.32,87.43 319.74,86.46 321.16,85.57 322.59,84.74 324.01,83.99 325.43,83.31 326.86,82.69 328.28,82.14 329.70,81.65 331.13,81.22 332.55,80.85 333.97,80.53 335.40,80.26 336.82,80.05 338.24,79.88 339.67,79.76 341.09,79.67 342.51,79.64 343.94,79.64 345.36,79.70 346.78,79.84 348.21,80.01 349.63,80.22 351.05,80.45 352.48,80.72 353.90,81.00 355.32,81.32 356.75,81.65 358.17,82.01 359.59,82.39 361.02,82.78 362.44,83.19 363.86,83.62 365.29,84.06 366.71,84.51 368.13,84.98 369.56,85.46 370.98,85.95 372.40,86.45 373.83,86.96 375.25,87.48 376.67,88.00 378.10,88.53 379.52,89.07 380.94,89.62 382.37,90.17 383.79,90.73 385.21,91.29 386.64,91.85 388.06,92.42 389.48,92.99 390.91,93.57 392.33,94.14 393.75,94.72 395.18,95.31 396.60,95.89 398.02,96.48 399.45,97.04 400.87,97.57 402.29,98.10 403.72,98.63 405.14,99.16 406.56,99.69 407.99,100.21 409.41,100.74 410.83,101.27 412.26,101.80 413.68,102.33 415.10,102.85 416.53,103.38 417.95,103.90 419.37,104.43 420.80,104.95 422.22,105.47 423.64,105.99 425.07,106.50 426.49,107.02 427.91,107.53 429.34,108.05 430.76,108.56 432.18,109.06 433.61,109.57 435.03,110.07 436.45,110.58 437.88,111.08 439.30,111.57 440.72,112.07 442.15,112.56 443.57,113.05 444.99,113.54 446.42,114.02 447.84,114.51 449.26,114.99 450.69,115.46 452.11,115.94 453.53,116.41 454.96,116.88 456.38,117.35 457.80,117.81 459.23,118.27 460.65,118.73 462.07,119.18 463.50,119.64 464.92,120.09 466.34,120.53 467.77,120.98 469.19,121.42 470.61,121.86 472.04,122.29 473.46,122.72 474.88,123.15 476.31,123.58 477.73,124.00 479.15,124.42 480.58,124.84 482.00,125.26 483.42,125.67 484.85,126.08 486.27,126.48 487.69,126.88 489.12,127.28 490.54,127.68 491.96,128.07 493.39,128.47 494.81,128.85 496.23,129.24 497.66,129.62 499.08,130.00 500.50,130.38 501.93,130.75 503.35,131.12 504.77,131.49 506.20,131.85 507.62,132.21 509.04,132.57 510.47,132.93 511.89,133.28 513.31,133.63 514.74,133.98 516.16,134.32 517.58,134.66 519.01,135.00 520.43,135.34 521.85,135.67 523.28,136.00 524.70,136.33 526.12,136.65 527.55,136.97 528.97,137.29 530.39,137.61 531.82,137.92 533.24,138.23 534.66,138.54 536.09,138.84 537.51,139.14" fill="none" stroke="#3f62bd" stroke-width="1.1" stroke-linejoin="round" />
<polygon points="390.70,107.41 393.19,108.67 395.68,109.93 398.16,111.17 400.65,112.40 403.14,113.63 405.63,114.84 408.12,116.04 410.61,117.24 413.09,118.42 415.58,119.60 418.07,120.76 420.56,121.92 423.05,123.07 425.54,124.21 428.02,125.34 430.51,126.46 433.00,127.57 435.49,128.68 437.98,129.77 440.47,130.86 442.95,131.93 445.44,133.00 447.93,134.06 450.42,135.11 452.91,136.16 455.40,137.19 457.88,138.22 460.37,139.24 462.86,140.24 465.35,141.25 467.84,142.24 470.33,143.22 472.81,144.20 475.30,145.16 477.79,146.12 480.28,147.07 482.77,148.02 485.26,148.95 487.74,149.88 490.23,150.79 492.72,151.70 495.21,152.60 497.70,153.50 500.19,154.38 502.67,155.26 505.16,156.12 507.65,156.98 510.14,157.83 512.63,158.68 515.12,159.51 517.60,160.34 520.09,161.16 522.58,161.97 525.07,162.77 527.56,163.57 530.05,164.35 532.53,165.13 535.02,165.90 537.51,166.66 537.51,175.37 535.02,174.67 532.53,173.96 530.05,173.25 527.56,172.53 525.07,171.81 522.58,171.07 520.09,170.34 517.60,169.59 515.12,168.84 512.63,168.09 510.14,167.32 507.65,166.56 505.16,165.78 502.67,165.00 500.19,164.22 497.70,163.43 495.21,162.64 492.72,161.84 490.23,161.03 487.74,160.22 485.26,159.41 482.77,158.59 480.28,157.77 477.79,156.94 475.30,156.11 472.81,155.28 470.33,154.44 467.84,153.60 465.35,152.76 462.86,151.92 460.37,151.07 457.88,150.22 455.40,149.37 452.91,148.52 450.42,147.67 447.93,146.81 445.44,145.96 442.95,145.11 440.47,144.26 437.98,143.41 435.49,142.57 433.00,141.73 430.51,140.89 428.02,140.06 425.54,139.23 423.05,138.41 420.56,137.60 418.07,136.80 415.58,136.02 413.09,135.24 410.61,134.48 408.12,133.73 405.63,133.01 403.14,132.30 400.65,131.62 398.16,130.97 395.68,130.35 393.19,129.76 390.70,129.21" fill="#efefef" stroke="none" stroke-width="1" />
<polyline points="390.70,107.41 393.19,108.67 395.68,109.93 398.16,111.17 400.65,112.40 403.14,113.63 405.63,114.84 408.12,116.04 410.61,117.24 413.09,118.42 415.58,119.60 418.07,120.76 420.56,121.92 423.05,123.07 425.54,124.21 428.02,125.34 430.51,126.46 433.00,127.57 435.49,128.68 437.98,129.77 440.47,130.86 442.95,131.93 445.44,133.00 447.93,134.06 450.42,135.11 452.91,136.16 455.40,137.19 457.88,138.22 460.37,139.24 462.86,140.24 465.35,141.25 467.84,142.24 470.33,143.22 472.81,144.20 475.30,145.16 477.79,146.12 480.28,147.07 482.77,148.02 485.26,148.95 487.74,149.88 490.23,150.79 492.72,151.70 495.21,152.60 497.70,153.50 500.19,154.38 502.67,155.26 505.16,156.12 507.65,156.98 510.14,157.83 512.63,158.68 515.12,159.51 517.60,160.34 520.09,161.16 522.58,161.97 525.07,162.77 527.56,163.57 530.05,164.35 532.53,165.13 535.02,165.90 537.51,166.66" fill="none" stroke="#a4a4a4" stroke-width="0.75" stroke-linejoin="round" />
<polyline points="390.70,109.61 393.19,110.87 395.68,112.13 398.16,113.37 400.65,114.60 403.14,115.83 405.63,117.04 408.12,118.24 410.61,119.44 413.09,120.62 415.58,121.80 418.07,122.96 420.56,124.12 423.05,125.27 425.54,126.41 428.02,127.54 430.51,128.66 433.00,129.77 435.49,130.88 437.98,131.97 440.47,133.06 442.95,134.13 445.44,135.20 447.93,136.26 450.42,137.31 452.91,138.36 455.40,139.39 457.88,140.42 460.37,141.44 462.86,142.44 465.35,143.45 467.84,144.44 470.33,145.42 472.81,146.40 475.30,147.36 477.79,148.32 480.28,149.27 482.77,150.22 485.26,151.15 487.74,152.08 490.23,152.99 492.72,153.90 495.21,154.80 497.70,155.70 500.19,156.58 502.67,157.46 505.16,158.32 507.65,159.18 510.14,160.03 512.63,160.88 515.12,161.71 517.60,162.54 520.09,163.36 522.58,164.17 525.07,164.97 527.56,165.77 530.05,166.55 532.53,167.33 535.02,168.10 537.51,168.86" fill="none" stroke="#c4c4c4" stroke-width="0.5" stroke-linejoin="round" />
<polyline points="390.70,129.21 393.19,129.76 395.68,130.35 398.16,130.97 400.65,131.62 403.14,132.30 405.63,133.01 408.12,133.73 410.61,134.48 413.09,135.24 415.58,136.02 418.07,136.80 420.56,137.60 423.05,138.41 425.54,139.23 428.02,140.06 430.51,140.89 433.00,141.73 435.49,142.57 437.98,143.41 440.47,144.26 442.95,145.11 445.44,145.96 447.93,146.81 450.42,147.67 452.91,148.52 455.40,149.37 457.88,150.22 460.37,151.07 462.86,151.92 465.35,152.76 467.84,153.60 470.33,154.44 472.81,155.28 475.30,156.11 477.79,156.94 480.28,157.77 482.77,158.59 485.26,159.41 487.74,160.22 490.23,161.03 492.72,161.84 495.21,162.64 497.70,163.43 500.19,164.22 502.67,165.00 505.16,165.78 507.65,166.56 510.14,167.32 512.63,168.09 515.12,168.84 517.60,169.59 520.09,170.34 522.58,171.07 525.07,171.81 527.56,172.53 530.05,173.25 532.53,173.96 535.02,174.67 537.51,175.37" fill="none" stroke="#a4a4a4" stroke-width="0.75" stroke-linejoin="round" />
<polyline points="390.70,127.41 393.19,127.96 395.68,128.55 398.16,129.17 400.65,129.82 403.14,130.50 405.63,131.21 408.12,131.93 410.61,132.68 413.09,133.44 415.58,134.22 418.07,135.00 420.56,135.80 423.05,136.61 425.54,137.43 428.02,138.26 430.51,139.09 433.00,139.93 435.49,140.77 437.98,141.61 440.47,142.46 442.95,143.31 445.44,144.16 447.93,145.01 450.42,145.87 452.91,146.72 455.40,147.57 457.88,148.42 460.37,149.27 462.86,150.12 465.35,150.96 467.84,151.80 470.33,152.64 472.81,153.48 475.30,154.31 477.79,155.14 480.28,155.97 482.77,156.79 485.26,157.61 487.74,158.42 490.23,159.23 492.72,160.04 495.21,160.84 497.70,161.63 500.19,162.42 502.67,163.20 505.16,163.98 507.65,164.76 510.14,165.52 512.63,166.29 515.12,167.04 517.60,167.79 520.09,168.54 522.58,169.27 525.07,170.01 527.56,170.73 530.05,171.45 532.53,172.16 535.02,172.87 537.51,173.57" fill="none" stroke="#c8c8c8" stroke-width="0.5" stroke-linejoin="round" />
<line x1="390.70" y1="107.41" x2="390.70" y2="129.21" stroke="#bdbdbd" stroke-width="0.6" />
<polyline points="390.70,112.81 393.19,114.03 395.68,115.24 398.16,116.45 400.65,117.64 403.14,118.83 405.63,120.01 408.12,121.18 410.61,122.35 413.09,123.50 415.58,124.65 418.07,125.79 420.56,126.92 423.05,128.05 425.54,129.16 428.02,130.27 430.51,131.37 433.00,132.47 435.49,133.55 437.98,134.63 440.47,135.69 442.95,136.75 445.44,137.81 447.93,138.85 450.42,139.89 452.91,140.91 455.40,141.93 457.88,142.95 460.37,143.95 462.86,144.95 465.35,145.94 467.84,146.92 470.33,147.89 472.81,148.85 475.30,149.81 477.79,150.76 480.28,151.70 482.77,152.63 485.26,153.55 487.74,154.47 490.23,155.38 492.72,156.28 495.21,157.17 497.70,158.05 500.19,158.93 502.67,159.79 505.16,160.65 507.65,161.51 510.14,162.35 512.63,163.19 515.12,164.01 517.60,164.83 520.09,165.65 522.58,166.45 525.07,167.24 527.56,168.03 530.05,168.81 532.53,169.58 535.02,170.35 537.51,171.10" fill="none" stroke="#3f62bd" stroke-width="0.7" stroke-linejoin="round" stroke-dasharray="0.9,1.1"/>
<polyline points="390.70,113.71 393.19,114.93 395.68,116.14 398.16,117.35 400.65,118.54 403.14,119.73 405.63,120.91 408.12,122.08 410.61,123.25 413.09,124.40 415.58,125.55 418.07,126.69 420.56,127.82 423.05,128.95 425.54,130.06 428.02,131.17 430.51,132.27 433.00,133.37 435.49,134.45 437.98,135.53 440.47,136.59 442.95,137.65 445.44,138.71 447.93,139.75 450.42,140.79 452.91,141.81 455.40,142.83 457.88,143.85 460.37,144.85 462.86,145.85 465.35,146.84 467.84,147.82 470.33,148.79 472.81,149.75 475.30,150.71 477.79,151.66 480.28,152.60 482.77,153.53 485.26,154.45 487.74,155.37 490.23,156.28 492.72,157.18 495.21,158.07 497.70,158.95 500.19,159.83 502.67,160.69 505.16,161.55 507.65,162.41 510.14,163.25 512.63,164.09 515.12,164.91 517.60,165.73 520.09,166.55 522.58,167.35 525.07,168.14 527.56,168.93 530.05,169.71 532.53,170.48 535.02,171.25 537.51,172.00" fill="none" stroke="#3f62bd" stroke-width="1.15" stroke-linejoin="round" stroke-dasharray="6.5,1.6"/>
<polyline points="311.20,129.91 312.62,123.84 314.05,121.38 315.47,119.93 316.89,118.82 318.32,117.85 319.74,116.97 321.16,116.15 322.59,115.40 324.01,114.71 325.43,114.08 326.86,113.51 328.28,113.00 329.70,112.54 331.13,112.14 332.55,111.79 333.97,111.49 335.40,111.24 336.82,111.03 338.24,110.87 339.67,110.75 341.09,110.67 342.51,110.63 343.94,110.64 345.36,110.74 346.78,110.94 348.21,111.19 349.63,111.46 351.05,111.77 352.48,112.10 353.90,112.46 355.32,112.85 356.75,113.25 358.17,113.68 359.59,114.13 361.02,114.59 362.44,115.07 363.86,115.57 365.29,116.08 366.71,116.61 368.13,117.15 369.56,117.70 370.98,118.26 372.40,118.83 373.83,119.41 375.25,120.00 376.67,120.59 378.10,121.19 379.52,121.80 380.94,122.42 382.37,123.04 383.79,123.67 385.21,124.30 386.64,124.94 388.06,125.58 389.48,126.22 390.91,126.86 392.33,127.51 393.75,128.16 395.18,128.82 396.60,129.47 398.02,130.13 399.45,130.75 400.87,131.30 402.29,131.86 403.72,132.41 405.14,132.97 406.56,133.52 407.99,134.08 409.41,134.63 410.83,135.18 412.26,135.74 413.68,136.29 415.10,136.84 416.53,137.39 417.95,137.94 419.37,138.49 420.80,139.04 422.22,139.59 423.64,140.13 425.07,140.68 426.49,141.22 427.91,141.76 429.34,142.29 430.76,142.83 432.18,143.36 433.61,143.90 435.03,144.42 436.45,144.95 437.88,145.48 439.30,146.00 440.72,146.52 442.15,147.04 443.57,147.55 444.99,148.07 446.42,148.58 447.84,149.09 449.26,149.59 450.69,150.10 452.11,150.60 453.53,151.09 454.96,151.59 456.38,152.08 457.80,152.57 459.23,153.06 460.65,153.54 462.07,154.02 463.50,154.50 464.92,154.98 466.34,155.45 467.77,155.92 469.19,156.38 470.61,156.85 472.04,157.31 473.46,157.77 474.88,158.22 476.31,158.67 477.73,159.12 479.15,159.57 480.58,160.01 482.00,160.45 483.42,160.89 484.85,161.32 486.27,161.76 487.69,162.18 489.12,162.61 490.54,163.03 491.96,163.45 493.39,163.87 494.81,164.28 496.23,164.69 497.66,165.10 499.08,165.51 500.50,165.91 501.93,166.31 503.35,166.70 504.77,167.10 506.20,167.49 507.62,167.87 509.04,168.26 510.47,168.64 511.89,169.02 513.31,169.39 514.74,169.77 516.16,170.14 517.58,170.50 519.01,170.87 520.43,171.23 521.85,171.59 523.28,171.94 524.70,172.29 526.12,172.64 527.55,172.99 528.97,173.34 530.39,173.68 531.82,174.02 533.24,174.35 534.66,174.68 536.09,175.01 537.51,175.34" fill="none" stroke="#3f62bd" stroke-width="1.1" stroke-linejoin="round" />
<polygon points="418.40,152.79 420.42,154.06 422.44,155.30 424.46,156.52 426.48,157.72 428.49,158.89 430.51,160.05 432.53,161.19 434.55,162.31 436.57,163.42 438.59,164.51 440.61,165.58 442.63,166.64 444.64,167.69 446.66,168.72 448.68,169.73 450.70,170.74 452.72,171.73 454.74,172.71 456.76,173.67 458.78,174.63 460.80,175.57 462.81,176.50 464.83,177.42 466.85,178.33 468.87,179.23 470.89,180.12 472.91,180.99 474.93,181.86 476.95,182.72 478.96,183.56 480.98,184.40 483.00,185.23 485.02,186.04 487.04,186.85 489.06,187.65 491.08,188.44 493.10,189.22 495.11,189.99 497.13,190.75 499.15,191.50 501.17,192.25 503.19,192.98 505.21,193.70 507.23,194.42 509.25,195.13 511.27,195.83 513.28,196.51 515.30,197.20 517.32,197.87 519.34,198.53 521.36,199.19 523.38,199.83 525.40,200.47 527.42,201.10 529.43,201.72 531.45,202.33 533.47,202.94 535.49,203.53 537.51,204.12 537.51,209.63 535.49,209.08 533.47,208.52 531.45,207.95 529.43,207.37 527.42,206.79 525.40,206.20 523.38,205.61 521.36,205.00 519.34,204.39 517.32,203.77 515.30,203.15 513.28,202.52 511.27,201.88 509.25,201.23 507.23,200.58 505.21,199.92 503.19,199.26 501.17,198.58 499.15,197.90 497.13,197.22 495.11,196.53 493.10,195.83 491.08,195.12 489.06,194.41 487.04,193.70 485.02,192.97 483.00,192.24 480.98,191.51 478.96,190.77 476.95,190.02 474.93,189.27 472.91,188.51 470.89,187.75 468.87,186.99 466.85,186.21 464.83,185.44 462.81,184.66 460.80,183.87 458.78,183.08 456.76,182.29 454.74,181.49 452.72,180.69 450.70,179.89 448.68,179.08 446.66,178.27 444.64,177.46 442.63,176.65 440.61,175.84 438.59,175.02 436.57,174.21 434.55,173.40 432.53,172.58 430.51,171.77 428.49,170.96 426.48,170.16 424.46,169.36 422.44,168.56 420.42,167.77 418.40,166.99" fill="#efefef" stroke="none" stroke-width="1" />
<polyline points="418.40,152.79 420.42,154.06 422.44,155.30 424.46,156.52 426.48,157.72 428.49,158.89 430.51,160.05 432.53,161.19 434.55,162.31 436.57,163.42 438.59,164.51 440.61,165.58 442.63,166.64 444.64,167.69 446.66,168.72 448.68,169.73 450.70,170.74 452.72,171.73 454.74,172.71 456.76,173.67 458.78,174.63 460.80,175.57 462.81,176.50 464.83,177.42 466.85,178.33 468.87,179.23 470.89,180.12 472.91,180.99 474.93,181.86 476.95,182.72 478.96,183.56 480.98,184.40 483.00,185.23 485.02,186.04 487.04,186.85 489.06,187.65 491.08,188.44 493.10,189.22 495.11,189.99 497.13,190.75 499.15,191.50 501.17,192.25 503.19,192.98 505.21,193.70 507.23,194.42 509.25,195.13 511.27,195.83 513.28,196.51 515.30,197.20 517.32,197.87 519.34,198.53 521.36,199.19 523.38,199.83 525.40,200.47 527.42,201.10 529.43,201.72 531.45,202.33 533.47,202.94 535.49,203.53 537.51,204.12" fill="none" stroke="#a4a4a4" stroke-width="0.75" stroke-linejoin="round" />
<polyline points="418.40,154.99 420.42,156.26 422.44,157.50 424.46,158.72 426.48,159.92 428.49,161.09 430.51,162.25 432.53,163.39 434.55,164.51 436.57,165.62 438.59,166.71 440.61,167.78 442.63,168.84 444.64,169.89 446.66,170.92 448.68,171.93 450.70,172.94 452.72,173.93 454.74,174.91 456.76,175.87 458.78,176.83 460.80,177.77 462.81,178.70 464.83,179.62 466.85,180.53 468.87,181.43 470.89,182.32 472.91,183.19 474.93,184.06 476.95,184.92 478.96,185.76 480.98,186.60 483.00,187.43 485.02,188.24 487.04,189.05 489.06,189.85 491.08,190.64 493.10,191.42 495.11,192.19 497.13,192.95 499.15,193.70 501.17,194.45 503.19,195.18 505.21,195.90 507.23,196.62 509.25,197.33 511.27,198.03 513.28,198.71 515.30,199.40 517.32,200.07 519.34,200.73 521.36,201.39 523.38,202.03 525.40,202.67 527.42,203.30 529.43,203.92 531.45,204.53 533.47,205.14 535.49,205.73 537.51,206.32" fill="none" stroke="#c4c4c4" stroke-width="0.5" stroke-linejoin="round" />
<polyline points="418.40,166.99 420.42,167.77 422.44,168.56 424.46,169.36 426.48,170.16 428.49,170.96 430.51,171.77 432.53,172.58 434.55,173.40 436.57,174.21 438.59,175.02 440.61,175.84 442.63,176.65 444.64,177.46 446.66,178.27 448.68,179.08 450.70,179.89 452.72,180.69 454.74,181.49 456.76,182.29 458.78,183.08 460.80,183.87 462.81,184.66 464.83,185.44 466.85,186.21 468.87,186.99 470.89,187.75 472.91,188.51 474.93,189.27 476.95,190.02 478.96,190.77 480.98,191.51 483.00,192.24 485.02,192.97 487.04,193.70 489.06,194.41 491.08,195.12 493.10,195.83 495.11,196.53 497.13,197.22 499.15,197.90 501.17,198.58 503.19,199.26 505.21,199.92 507.23,200.58 509.25,201.23 511.27,201.88 513.28,202.52 515.30,203.15 517.32,203.77 519.34,204.39 521.36,205.00 523.38,205.61 525.40,206.20 527.42,206.79 529.43,207.37 531.45,207.95 533.47,208.52 535.49,209.08 537.51,209.63" fill="none" stroke="#a4a4a4" stroke-width="0.75" stroke-linejoin="round" />
<polyline points="418.40,165.19 420.42,165.97 422.44,166.76 424.46,167.56 426.48,168.36 428.49,169.16 430.51,169.97 432.53,170.78 434.55,171.60 436.57,172.41 438.59,173.22 440.61,174.04 442.63,174.85 444.64,175.66 446.66,176.47 448.68,177.28 450.70,178.09 452.72,178.89 454.74,179.69 456.76,180.49 458.78,181.28 460.80,182.07 462.81,182.86 464.83,183.64 466.85,184.41 468.87,185.19 470.89,185.95 472.91,186.71 474.93,187.47 476.95,188.22 478.96,188.97 480.98,189.71 483.00,190.44 485.02,191.17 487.04,191.90 489.06,192.61 491.08,193.32 493.10,194.03 495.11,194.73 497.13,195.42 499.15,196.10 501.17,196.78 503.19,197.46 505.21,198.12 507.23,198.78 509.25,199.43 511.27,200.08 513.28,200.72 515.30,201.35 517.32,201.97 519.34,202.59 521.36,203.20 523.38,203.81 525.40,204.40 527.42,204.99 529.43,205.57 531.45,206.15 533.47,206.72 535.49,207.28 537.51,207.83" fill="none" stroke="#c8c8c8" stroke-width="0.5" stroke-linejoin="round" />
<line x1="418.40" y1="152.79" x2="418.40" y2="166.99" stroke="#bdbdbd" stroke-width="0.6" />
<polyline points="418.40,157.09 420.42,158.15 422.44,159.19 424.46,160.23 426.48,161.25 428.49,162.27 430.51,163.29 432.53,164.29 434.55,165.28 436.57,166.27 438.59,167.25 440.61,168.22 442.63,169.18 444.64,170.13 446.66,171.08 448.68,172.02 450.70,172.95 452.72,173.87 454.74,174.78 456.76,175.68 458.78,176.58 460.80,177.47 462.81,178.35 464.83,179.22 466.85,180.08 468.87,180.94 470.89,181.79 472.91,182.63 474.93,183.46 476.95,184.28 478.96,185.09 480.98,185.90 483.00,186.70 485.02,187.49 487.04,188.27 489.06,189.05 491.08,189.81 493.10,190.57 495.11,191.32 497.13,192.06 499.15,192.80 501.17,193.53 503.19,194.24 505.21,194.95 507.23,195.66 509.25,196.35 511.27,197.03 513.28,197.71 515.30,198.38 517.32,199.04 519.34,199.70 521.36,200.34 523.38,200.98 525.40,201.61 527.42,202.23 529.43,202.85 531.45,203.45 533.47,204.05 535.49,204.64 537.51,205.22" fill="none" stroke="#3f62bd" stroke-width="0.9" stroke-linejoin="round" stroke-dasharray="1.0,1.3"/>
<polyline points="418.40,160.69 420.42,161.73 422.44,162.75 424.46,163.77 426.48,164.78 428.49,165.78 430.51,166.78 432.53,167.76 434.55,168.74 436.57,169.71 438.59,170.67 440.61,171.63 442.63,172.57 444.64,173.51 446.66,174.44 448.68,175.36 450.70,176.28 452.72,177.19 454.74,178.08 456.76,178.98 458.78,179.86 460.80,180.73 462.81,181.60 464.83,182.46 466.85,183.31 468.87,184.16 470.89,184.99 472.91,185.82 474.93,186.64 476.95,187.45 478.96,188.25 480.98,189.05 483.00,189.84 485.02,190.62 487.04,191.39 489.06,192.15 491.08,192.91 493.10,193.66 495.11,194.40 497.13,195.13 499.15,195.85 501.17,196.57 503.19,197.28 505.21,197.98 507.23,198.67 509.25,199.36 511.27,200.03 513.28,200.70 515.30,201.36 517.32,202.02 519.34,202.66 521.36,203.30 523.38,203.93 525.40,204.55 527.42,205.16 529.43,205.77 531.45,206.37 533.47,206.96 535.49,207.54 537.51,208.11" fill="none" stroke="#3f62bd" stroke-width="1.1" stroke-linejoin="round" stroke-dasharray="5,2.2"/>
<polyline points="311.20,159.81 312.62,153.92 314.05,151.63 315.47,150.33 316.89,149.36 318.32,148.52 319.74,147.75 321.16,147.03 322.59,146.37 324.01,145.75 325.43,145.19 326.86,144.68 328.28,144.22 329.70,143.81 331.13,143.44 332.55,143.12 333.97,142.84 335.40,142.61 336.82,142.41 338.24,142.26 339.67,142.15 341.09,142.07 342.51,142.03 343.94,142.04 345.36,142.16 346.78,142.42 348.21,142.72 349.63,143.05 351.05,143.41 352.48,143.80 353.90,144.22 355.32,144.66 356.75,145.12 358.17,145.60 359.59,146.10 361.02,146.62 362.44,147.16 363.86,147.71 365.29,148.28 366.71,148.86 368.13,149.45 369.56,150.06 370.98,150.67 372.40,151.30 373.83,151.93 375.25,152.58 376.67,153.23 378.10,153.89 379.52,154.55 380.94,155.22 382.37,155.90 383.79,156.58 385.21,157.27 386.64,157.96 388.06,158.65 389.48,159.35 390.91,160.05 392.33,160.75 393.75,161.46 395.18,162.17 396.60,162.88 398.02,163.59 399.45,164.26 400.87,164.86 402.29,165.45 403.72,166.05 405.14,166.64 406.56,167.24 407.99,167.84 409.41,168.43 410.83,169.03 412.26,169.62 413.68,170.22 415.10,170.81 416.53,171.40 417.95,171.99 419.37,172.58 420.80,173.17 422.22,173.76 423.64,174.34 425.07,174.93 426.49,175.51 427.91,176.09 429.34,176.67 430.76,177.25 432.18,177.82 433.61,178.39 435.03,178.97 436.45,179.53 437.88,180.10 439.30,180.66 440.72,181.23 442.15,181.79 443.57,182.34 444.99,182.90 446.42,183.45 447.84,184.00 449.26,184.54 450.69,185.09 452.11,185.63 453.53,186.17 454.96,186.70 456.38,187.24 457.80,187.77 459.23,188.30 460.65,188.82 462.07,189.34 463.50,189.86 464.92,190.38 466.34,190.89 467.77,191.40 469.19,191.91 470.61,192.42 472.04,192.92 473.46,193.42 474.88,193.91 476.31,194.41 477.73,194.90 479.15,195.38 480.58,195.87 482.00,196.35 483.42,196.83 484.85,197.30 486.27,197.78 487.69,198.25 489.12,198.71 490.54,199.18 491.96,199.64 493.39,200.10 494.81,200.55 496.23,201.00 497.66,201.45 499.08,201.90 500.50,202.34 501.93,202.78 503.35,203.22 504.77,203.65 506.20,204.08 507.62,204.51 509.04,204.94 510.47,205.36 511.89,205.78 513.31,206.19 514.74,206.61 516.16,207.02 517.58,207.43 519.01,207.83 520.43,208.23 521.85,208.63 523.28,209.03 524.70,209.42 526.12,209.82 527.55,210.20 528.97,210.59 530.39,210.97 531.82,211.35 533.24,211.73 534.66,212.10 536.09,212.47 537.51,212.84" fill="none" stroke="#3f62bd" stroke-width="1.1" stroke-linejoin="round" />
</g>
<line x1="307.60" y1="16.65" x2="335.30" y2="16.65" stroke="#8e8e8e" stroke-width="1.05" />
<line x1="321.45" y1="14.45" x2="321.45" y2="18.85" stroke="#444" stroke-width="0.8" />
<circle cx="321.45" cy="16.65" r="1.9" fill="#000"/>
<line x1="335.30" y1="13.30" x2="363.00" y2="13.30" stroke="#8e8e8e" stroke-width="1.05" />
<line x1="349.15" y1="11.10" x2="349.15" y2="15.50" stroke="#444" stroke-width="0.8" />
<circle cx="349.15" cy="13.30" r="1.9" fill="#000"/>
<line x1="363.00" y1="20.20" x2="390.70" y2="20.20" stroke="#8e8e8e" stroke-width="1.05" />
<line x1="376.85" y1="18.00" x2="376.85" y2="22.40" stroke="#444" stroke-width="0.8" />
<circle cx="376.85" cy="20.20" r="1.9" fill="#000"/>
<line x1="390.70" y1="29.40" x2="418.40" y2="29.40" stroke="#8e8e8e" stroke-width="1.05" />
<line x1="404.55" y1="27.20" x2="404.55" y2="31.60" stroke="#444" stroke-width="0.8" />
<circle cx="404.55" cy="29.40" r="1.9" fill="#000"/>
<line x1="418.40" y1="39.80" x2="446.10" y2="39.80" stroke="#8e8e8e" stroke-width="1.05" />
<line x1="432.25" y1="37.60" x2="432.25" y2="42.00" stroke="#444" stroke-width="0.8" />
<circle cx="432.25" cy="39.80" r="1.9" fill="#000"/>
<line x1="446.10" y1="48.75" x2="473.80" y2="48.75" stroke="#8e8e8e" stroke-width="1.05" />
<line x1="459.95" y1="46.55" x2="459.95" y2="50.95" stroke="#444" stroke-width="0.8" />
<circle cx="459.95" cy="48.75" r="1.9" fill="#000"/>
<line x1="473.80" y1="57.00" x2="501.50" y2="57.00" stroke="#8e8e8e" stroke-width="1.05" />
<line x1="487.65" y1="54.80" x2="487.65" y2="59.20" stroke="#444" stroke-width="0.8" />
<circle cx="487.65" cy="57.00" r="1.9" fill="#000"/>
<line x1="501.50" y1="66.70" x2="529.20" y2="66.70" stroke="#8e8e8e" stroke-width="1.05" />
<line x1="515.35" y1="64.50" x2="515.35" y2="68.90" stroke="#444" stroke-width="0.8" />
<circle cx="515.35" cy="66.70" r="1.9" fill="#000"/>
<line x1="307.60" y1="48.20" x2="335.30" y2="48.20" stroke="#8e8e8e" stroke-width="1.05" />
<line x1="321.45" y1="46.00" x2="321.45" y2="50.40" stroke="#444" stroke-width="0.8" />
<circle cx="321.45" cy="48.20" r="1.9" fill="#000"/>
<line x1="335.30" y1="43.00" x2="363.00" y2="43.00" stroke="#8e8e8e" stroke-width="1.05" />
<line x1="349.15" y1="40.80" x2="349.15" y2="45.20" stroke="#444" stroke-width="0.8" />
<circle cx="349.15" cy="43.00" r="1.9" fill="#000"/>
<line x1="363.00" y1="50.50" x2="390.70" y2="50.50" stroke="#8e8e8e" stroke-width="1.05" />
<line x1="376.85" y1="48.30" x2="376.85" y2="52.70" stroke="#444" stroke-width="0.8" />
<circle cx="376.85" cy="50.50" r="1.9" fill="#000"/>
<line x1="390.70" y1="61.50" x2="418.40" y2="61.50" stroke="#8e8e8e" stroke-width="1.05" />
<line x1="404.55" y1="59.30" x2="404.55" y2="63.70" stroke="#444" stroke-width="0.8" />
<circle cx="404.55" cy="61.50" r="1.9" fill="#000"/>
<line x1="418.40" y1="71.60" x2="446.10" y2="71.60" stroke="#8e8e8e" stroke-width="1.05" />
<line x1="432.25" y1="69.40" x2="432.25" y2="73.80" stroke="#444" stroke-width="0.8" />
<circle cx="432.25" cy="71.60" r="1.9" fill="#000"/>
<line x1="446.10" y1="79.40" x2="473.80" y2="79.40" stroke="#8e8e8e" stroke-width="1.05" />
<line x1="459.95" y1="77.20" x2="459.95" y2="81.60" stroke="#444" stroke-width="0.8" />
<circle cx="459.95" cy="79.40" r="1.9" fill="#000"/>
<line x1="473.80" y1="88.25" x2="501.50" y2="88.25" stroke="#8e8e8e" stroke-width="1.05" />
<line x1="487.65" y1="86.05" x2="487.65" y2="90.45" stroke="#444" stroke-width="0.8" />
<circle cx="487.65" cy="88.25" r="1.9" fill="#000"/>
<line x1="501.50" y1="95.75" x2="529.20" y2="95.75" stroke="#8e8e8e" stroke-width="1.05" />
<line x1="515.35" y1="93.55" x2="515.35" y2="97.95" stroke="#444" stroke-width="0.8" />
<circle cx="515.35" cy="95.75" r="1.9" fill="#000"/>
<line x1="307.60" y1="78.75" x2="335.30" y2="78.75" stroke="#8e8e8e" stroke-width="1.05" />
<line x1="321.45" y1="76.55" x2="321.45" y2="80.95" stroke="#444" stroke-width="0.8" />
<circle cx="321.45" cy="78.75" r="1.9" fill="#000"/>
<line x1="335.30" y1="74.25" x2="363.00" y2="74.25" stroke="#8e8e8e" stroke-width="1.05" />
<line x1="349.15" y1="72.05" x2="349.15" y2="76.45" stroke="#444" stroke-width="0.8" />
<circle cx="349.15" cy="74.25" r="1.9" fill="#000"/>
<line x1="363.00" y1="82.50" x2="390.70" y2="82.50" stroke="#8e8e8e" stroke-width="1.05" />
<line x1="376.85" y1="80.30" x2="376.85" y2="84.70" stroke="#444" stroke-width="0.8" />
<circle cx="376.85" cy="82.50" r="1.9" fill="#000"/>
<line x1="390.70" y1="92.60" x2="418.40" y2="92.60" stroke="#8e8e8e" stroke-width="1.05" />
<line x1="404.55" y1="90.40" x2="404.55" y2="94.80" stroke="#444" stroke-width="0.8" />
<circle cx="404.55" cy="92.60" r="1.9" fill="#000"/>
<line x1="418.40" y1="102.90" x2="446.10" y2="102.90" stroke="#8e8e8e" stroke-width="1.05" />
<line x1="432.25" y1="100.70" x2="432.25" y2="105.10" stroke="#444" stroke-width="0.8" />
<circle cx="432.25" cy="102.90" r="1.9" fill="#000"/>
<line x1="446.10" y1="113.20" x2="473.80" y2="113.20" stroke="#8e8e8e" stroke-width="1.05" />
<line x1="459.95" y1="111.00" x2="459.95" y2="115.40" stroke="#444" stroke-width="0.8" />
<circle cx="459.95" cy="113.20" r="1.9" fill="#000"/>
<line x1="473.80" y1="122.50" x2="501.50" y2="122.50" stroke="#8e8e8e" stroke-width="1.05" />
<line x1="487.65" y1="120.30" x2="487.65" y2="124.70" stroke="#444" stroke-width="0.8" />
<circle cx="487.65" cy="122.50" r="1.9" fill="#000"/>
<line x1="501.50" y1="134.25" x2="529.20" y2="134.25" stroke="#8e8e8e" stroke-width="1.05" />
<line x1="515.35" y1="132.05" x2="515.35" y2="136.45" stroke="#444" stroke-width="0.8" />
<circle cx="515.35" cy="134.25" r="1.9" fill="#000"/>
<line x1="307.60" y1="110.00" x2="335.30" y2="110.00" stroke="#8e8e8e" stroke-width="1.05" />
<line x1="321.45" y1="107.80" x2="321.45" y2="112.20" stroke="#444" stroke-width="0.8" />
<circle cx="321.45" cy="110.00" r="1.9" fill="#000"/>
<line x1="335.30" y1="105.75" x2="363.00" y2="105.75" stroke="#8e8e8e" stroke-width="1.05" />
<line x1="349.15" y1="103.55" x2="349.15" y2="107.95" stroke="#444" stroke-width="0.8" />
<circle cx="349.15" cy="105.75" r="1.9" fill="#000"/>
<line x1="363.00" y1="114.50" x2="390.70" y2="114.50" stroke="#8e8e8e" stroke-width="1.05" />
<line x1="376.85" y1="112.30" x2="376.85" y2="116.70" stroke="#444" stroke-width="0.8" />
<circle cx="376.85" cy="114.50" r="1.9" fill="#000"/>
<line x1="390.70" y1="126.20" x2="418.40" y2="126.20" stroke="#8e8e8e" stroke-width="1.05" />
<line x1="404.55" y1="124.00" x2="404.55" y2="128.40" stroke="#444" stroke-width="0.8" />
<circle cx="404.55" cy="126.20" r="1.9" fill="#000"/>
<line x1="418.40" y1="137.40" x2="446.10" y2="137.40" stroke="#8e8e8e" stroke-width="1.05" />
<line x1="432.25" y1="135.20" x2="432.25" y2="139.60" stroke="#444" stroke-width="0.8" />
<circle cx="432.25" cy="137.40" r="1.9" fill="#000"/>
<line x1="446.10" y1="146.40" x2="473.80" y2="146.40" stroke="#8e8e8e" stroke-width="1.05" />
<line x1="459.95" y1="144.20" x2="459.95" y2="148.60" stroke="#444" stroke-width="0.8" />
<circle cx="459.95" cy="146.40" r="1.9" fill="#000"/>
<line x1="473.80" y1="155.75" x2="501.50" y2="155.75" stroke="#8e8e8e" stroke-width="1.05" />
<line x1="487.65" y1="153.55" x2="487.65" y2="157.95" stroke="#444" stroke-width="0.8" />
<circle cx="487.65" cy="155.75" r="1.9" fill="#000"/>
<line x1="501.50" y1="165.00" x2="529.20" y2="165.00" stroke="#8e8e8e" stroke-width="1.05" />
<line x1="515.35" y1="162.80" x2="515.35" y2="167.20" stroke="#444" stroke-width="0.8" />
<circle cx="515.35" cy="165.00" r="1.9" fill="#000"/>
<line x1="307.60" y1="144.30" x2="335.30" y2="144.30" stroke="#8e8e8e" stroke-width="1.05" />
<line x1="321.45" y1="142.10" x2="321.45" y2="146.50" stroke="#444" stroke-width="0.8" />
<circle cx="321.45" cy="144.30" r="1.9" fill="#000"/>
<line x1="335.30" y1="139.50" x2="363.00" y2="139.50" stroke="#8e8e8e" stroke-width="1.05" />
<line x1="349.15" y1="137.30" x2="349.15" y2="141.70" stroke="#444" stroke-width="0.8" />
<circle cx="349.15" cy="139.50" r="1.9" fill="#000"/>
<line x1="363.00" y1="148.75" x2="390.70" y2="148.75" stroke="#8e8e8e" stroke-width="1.05" />
<line x1="376.85" y1="146.55" x2="376.85" y2="150.95" stroke="#444" stroke-width="0.8" />
<circle cx="376.85" cy="148.75" r="1.9" fill="#000"/>
<line x1="390.70" y1="161.10" x2="418.40" y2="161.10" stroke="#8e8e8e" stroke-width="1.05" />
<line x1="404.55" y1="158.90" x2="404.55" y2="163.30" stroke="#444" stroke-width="0.8" />
<circle cx="404.55" cy="161.10" r="1.9" fill="#000"/>
<line x1="418.40" y1="173.90" x2="446.10" y2="173.90" stroke="#8e8e8e" stroke-width="1.05" />
<line x1="432.25" y1="171.70" x2="432.25" y2="176.10" stroke="#444" stroke-width="0.8" />
<circle cx="432.25" cy="173.90" r="1.9" fill="#000"/>
<line x1="446.10" y1="181.40" x2="473.80" y2="181.40" stroke="#8e8e8e" stroke-width="1.05" />
<line x1="459.95" y1="179.20" x2="459.95" y2="183.60" stroke="#444" stroke-width="0.8" />
<circle cx="459.95" cy="181.40" r="1.9" fill="#000"/>
<text x="512.50" y="15.50" text-anchor="end" fill="#000" style="font-family:'Liberation Serif', serif;font-size:12.8px;" >LHCb</text>
<text x="520.5" y="26.5" text-anchor="end" style="font-family:'Liberation Serif', serif;font-size:9.6px">√<tspan text-decoration="overline">s</tspan> = 7 TeV</text>
<text transform="translate(459.5,35.6) rotate(17)" style="font-family:'Liberation Serif', serif;font-size:10.2px;font-style:italic" textLength="65.5" lengthAdjust="spacingAndGlyphs">2.0 &lt;<tspan style="font-style:italic">y</tspan>&lt; 2.5, <tspan style="font-style:italic">m</tspan>=0</text>
<text transform="translate(459.5,69.6) rotate(17)" style="font-family:'Liberation Serif', serif;font-size:10.2px;font-style:italic" textLength="65.5" lengthAdjust="spacingAndGlyphs">2.5 &lt;<tspan style="font-style:italic">y</tspan>&lt; 3.0, <tspan style="font-style:italic">m</tspan>=1</text>
<text transform="translate(459.5,101.9) rotate(17)" style="font-family:'Liberation Serif', serif;font-size:10.2px;font-style:italic" textLength="65.5" lengthAdjust="spacingAndGlyphs">3.0 &lt;<tspan style="font-style:italic">y</tspan>&lt; 3.5, <tspan style="font-style:italic">m</tspan>=2</text>
<text transform="translate(459.5,138.1) rotate(17)" style="font-family:'Liberation Serif', serif;font-size:10.2px;font-style:italic" textLength="65.5" lengthAdjust="spacingAndGlyphs">3.5 &lt;<tspan style="font-style:italic">y</tspan>&lt; 4.0, <tspan style="font-style:italic">m</tspan>=3</text>
<text transform="translate(459.5,172.1) rotate(17)" style="font-family:'Liberation Serif', serif;font-size:10.2px;font-style:italic" textLength="65.5" lengthAdjust="spacingAndGlyphs">4.0 &lt;<tspan style="font-style:italic">y</tspan>&lt; 4.5, <tspan style="font-style:italic">m</tspan>=4</text>
<line x1="319.20" y1="171.60" x2="340.50" y2="171.60" stroke="#8c8c8c" stroke-width="1.1" />
<circle cx="329.80" cy="171.60" r="1.9" fill="#000"/>
<text x="343.00" y="175.00" text-anchor="start" fill="#000" style="font-family:'Liberation Sans', sans-serif;font-size:9.2px;" >LHCb data</text>
<line x1="319.20" y1="182.10" x2="340.50" y2="182.10" stroke="#3f62bd" stroke-width="1.1" />
<text x="343.00" y="185.50" text-anchor="start" fill="#000" style="font-family:'Liberation Sans', sans-serif;font-size:9.2px;" >FONLL</text>
<line x1="319.20" y1="193.20" x2="340.50" y2="193.20" stroke="#3f62bd" stroke-width="1.1" stroke-dasharray="8.5,3.5"/>
<text x="343.00" y="196.60" text-anchor="start" fill="#000" style="font-family:'Liberation Sans', sans-serif;font-size:9.2px;" >GMVFNS</text>
<line x1="319.20" y1="204.10" x2="340.50" y2="204.10" stroke="#3f62bd" stroke-width="1.0" stroke-dasharray="1.3,1.5"/>
<text x="343.00" y="207.50" text-anchor="start" fill="#000" style="font-family:'Liberation Sans', sans-serif;font-size:9.2px;" >GMVFNS intr. charm</text>
<text x="402.40" y="251.30" text-anchor="middle" fill="#222" style="font-family:'Liberation Serif', serif;font-size:17.0px;" >(b)</text>
<defs>
<pattern id="hatchB" patternUnits="userSpaceOnUse" width="2.6" height="2.6" patternTransform="rotate(45)">
<rect width="2.6" height="2.6" fill="#f1f9fd"/><line x1="0" y1="0" x2="0" y2="2.6" stroke="#a6d6ef" stroke-width="0.75"/></pattern>
<pattern id="dotsR" patternUnits="userSpaceOnUse" width="2.4" height="2.4">
<rect width="2.4" height="2.4" fill="#fffafa"/><rect x="0.7" y="0.7" width="0.8" height="0.8" fill="#f2a4a4"/></pattern>
<pattern id="hatchM" patternUnits="userSpaceOnUse" width="2.6" height="2.6" patternTransform="rotate(45)">
<rect width="2.6" height="2.6" fill="#f0d6ec"/><line x1="0" y1="0" x2="0" y2="2.6" stroke="#d9a8d2" stroke-width="0.75"/></pattern>
<pattern id="gridM" patternUnits="userSpaceOnUse" width="2.4" height="2.4">
<rect width="2.4" height="2.4" fill="#f0d3ec"/><line x1="0" y1="0" x2="2.4" y2="0" stroke="#dcaad5" stroke-width="0.5"/><line x1="0" y1="0" x2="0" y2="2.4" stroke="#dcaad5" stroke-width="0.5"/></pattern>
</defs>
<line x1="53.60" y1="432.43" x2="56.80" y2="432.43" stroke="#8a8a8a" stroke-width="0.8" />
<line x1="253.60" y1="432.43" x2="250.40" y2="432.43" stroke="#8a8a8a" stroke-width="0.8" />
<line x1="53.60" y1="430.58" x2="56.80" y2="430.58" stroke="#8a8a8a" stroke-width="0.8" />
<line x1="253.60" y1="430.58" x2="250.40" y2="430.58" stroke="#8a8a8a" stroke-width="0.8" />
<line x1="53.60" y1="428.96" x2="56.80" y2="428.96" stroke="#8a8a8a" stroke-width="0.8" />
<line x1="253.60" y1="428.96" x2="250.40" y2="428.96" stroke="#8a8a8a" stroke-width="0.8" />
<line x1="53.60" y1="427.50" x2="59.60" y2="427.50" stroke="#8a8a8a" stroke-width="0.8" />
<line x1="253.60" y1="427.50" x2="247.60" y2="427.50" stroke="#8a8a8a" stroke-width="0.8" />
<line x1="53.60" y1="417.93" x2="56.80" y2="417.93" stroke="#8a8a8a" stroke-width="0.8" />
<line x1="253.60" y1="417.93" x2="250.40" y2="417.93" stroke="#8a8a8a" stroke-width="0.8" />
<line x1="53.60" y1="412.33" x2="56.80" y2="412.33" stroke="#8a8a8a" stroke-width="0.8" />
<line x1="253.60" y1="412.33" x2="250.40" y2="412.33" stroke="#8a8a8a" stroke-width="0.8" />
<line x1="53.60" y1="408.35" x2="56.80" y2="408.35" stroke="#8a8a8a" stroke-width="0.8" />
<line x1="253.60" y1="408.35" x2="250.40" y2="408.35" stroke="#8a8a8a" stroke-width="0.8" />
<line x1="53.60" y1="405.27" x2="56.80" y2="405.27" stroke="#8a8a8a" stroke-width="0.8" />
<line x1="253.60" y1="405.27" x2="250.40" y2="405.27" stroke="#8a8a8a" stroke-width="0.8" />
<line x1="53.60" y1="402.75" x2="56.80" y2="402.75" stroke="#8a8a8a" stroke-width="0.8" />
<line x1="253.60" y1="402.75" x2="250.40" y2="402.75" stroke="#8a8a8a" stroke-width="0.8" />
<line x1="53.60" y1="400.63" x2="56.80" y2="400.63" stroke="#8a8a8a" stroke-width="0.8" />
<line x1="253.60" y1="400.63" x2="250.40" y2="400.63" stroke="#8a8a8a" stroke-width="0.8" />
<line x1="53.60" y1="398.78" x2="56.80" y2="398.78" stroke="#8a8a8a" stroke-width="0.8" />
<line x1="253.60" y1="398.78" x2="250.40" y2="398.78" stroke="#8a8a8a" stroke-width="0.8" />
<line x1="53.60" y1="397.16" x2="56.80" y2="397.16" stroke="#8a8a8a" stroke-width="0.8" />
<line x1="253.60" y1="397.16" x2="250.40" y2="397.16" stroke="#8a8a8a" stroke-width="0.8" />
<line x1="53.60" y1="395.70" x2="59.60" y2="395.70" stroke="#8a8a8a" stroke-width="0.8" />
<line x1="253.60" y1="395.70" x2="247.60" y2="395.70" stroke="#8a8a8a" stroke-width="0.8" />
<line x1="53.60" y1="386.13" x2="56.80" y2="386.13" stroke="#8a8a8a" stroke-width="0.8" />
<line x1="253.60" y1="386.13" x2="250.40" y2="386.13" stroke="#8a8a8a" stroke-width="0.8" />
<line x1="53.60" y1="380.53" x2="56.80" y2="380.53" stroke="#8a8a8a" stroke-width="0.8" />
<line x1="253.60" y1="380.53" x2="250.40" y2="380.53" stroke="#8a8a8a" stroke-width="0.8" />
<line x1="53.60" y1="376.55" x2="56.80" y2="376.55" stroke="#8a8a8a" stroke-width="0.8" />
<line x1="253.60" y1="376.55" x2="250.40" y2="376.55" stroke="#8a8a8a" stroke-width="0.8" />
<line x1="53.60" y1="373.47" x2="56.80" y2="373.47" stroke="#8a8a8a" stroke-width="0.8" />
<line x1="253.60" y1="373.47" x2="250.40" y2="373.47" stroke="#8a8a8a" stroke-width="0.8" />
<line x1="53.60" y1="370.95" x2="56.80" y2="370.95" stroke="#8a8a8a" stroke-width="0.8" />
<line x1="253.60" y1="370.95" x2="250.40" y2="370.95" stroke="#8a8a8a" stroke-width="0.8" />
<line x1="53.60" y1="368.83" x2="56.80" y2="368.83" stroke="#8a8a8a" stroke-width="0.8" />
<line x1="253.60" y1="368.83" x2="250.40" y2="368.83" stroke="#8a8a8a" stroke-width="0.8" />
<line x1="53.60" y1="366.98" x2="56.80" y2="366.98" stroke="#8a8a8a" stroke-width="0.8" />
<line x1="253.60" y1="366.98" x2="250.40" y2="366.98" stroke="#8a8a8a" stroke-width="0.8" />
<line x1="53.60" y1="365.36" x2="56.80" y2="365.36" stroke="#8a8a8a" stroke-width="0.8" />
<line x1="253.60" y1="365.36" x2="250.40" y2="365.36" stroke="#8a8a8a" stroke-width="0.8" />
<line x1="53.60" y1="363.90" x2="59.60" y2="363.90" stroke="#8a8a8a" stroke-width="0.8" />
<line x1="253.60" y1="363.90" x2="247.60" y2="363.90" stroke="#8a8a8a" stroke-width="0.8" />
<line x1="53.60" y1="354.33" x2="56.80" y2="354.33" stroke="#8a8a8a" stroke-width="0.8" />
<line x1="253.60" y1="354.33" x2="250.40" y2="354.33" stroke="#8a8a8a" stroke-width="0.8" />
<line x1="53.60" y1="348.73" x2="56.80" y2="348.73" stroke="#8a8a8a" stroke-width="0.8" />
<line x1="253.60" y1="348.73" x2="250.40" y2="348.73" stroke="#8a8a8a" stroke-width="0.8" />
<line x1="53.60" y1="344.75" x2="56.80" y2="344.75" stroke="#8a8a8a" stroke-width="0.8" />
<line x1="253.60" y1="344.75" x2="250.40" y2="344.75" stroke="#8a8a8a" stroke-width="0.8" />
<line x1="53.60" y1="341.67" x2="56.80" y2="341.67" stroke="#8a8a8a" stroke-width="0.8" />
<line x1="253.60" y1="341.67" x2="250.40" y2="341.67" stroke="#8a8a8a" stroke-width="0.8" />
<line x1="53.60" y1="339.15" x2="56.80" y2="339.15" stroke="#8a8a8a" stroke-width="0.8" />
<line x1="253.60" y1="339.15" x2="250.40" y2="339.15" stroke="#8a8a8a" stroke-width="0.8" />
<line x1="53.60" y1="337.03" x2="56.80" y2="337.03" stroke="#8a8a8a" stroke-width="0.8" />
<line x1="253.60" y1="337.03" x2="250.40" y2="337.03" stroke="#8a8a8a" stroke-width="0.8" />
<line x1="53.60" y1="335.18" x2="56.80" y2="335.18" stroke="#8a8a8a" stroke-width="0.8" />
<line x1="253.60" y1="335.18" x2="250.40" y2="335.18" stroke="#8a8a8a" stroke-width="0.8" />
<line x1="53.60" y1="333.56" x2="56.80" y2="333.56" stroke="#8a8a8a" stroke-width="0.8" />
<line x1="253.60" y1="333.56" x2="250.40" y2="333.56" stroke="#8a8a8a" stroke-width="0.8" />
<line x1="53.60" y1="332.10" x2="59.60" y2="332.10" stroke="#8a8a8a" stroke-width="0.8" />
<line x1="253.60" y1="332.10" x2="247.60" y2="332.10" stroke="#8a8a8a" stroke-width="0.8" />
<line x1="53.60" y1="322.53" x2="56.80" y2="322.53" stroke="#8a8a8a" stroke-width="0.8" />
<line x1="253.60" y1="322.53" x2="250.40" y2="322.53" stroke="#8a8a8a" stroke-width="0.8" />
<line x1="53.60" y1="316.93" x2="56.80" y2="316.93" stroke="#8a8a8a" stroke-width="0.8" />
<line x1="253.60" y1="316.93" x2="250.40" y2="316.93" stroke="#8a8a8a" stroke-width="0.8" />
<line x1="53.60" y1="312.95" x2="56.80" y2="312.95" stroke="#8a8a8a" stroke-width="0.8" />
<line x1="253.60" y1="312.95" x2="250.40" y2="312.95" stroke="#8a8a8a" stroke-width="0.8" />
<line x1="53.60" y1="309.87" x2="56.80" y2="309.87" stroke="#8a8a8a" stroke-width="0.8" />
<line x1="253.60" y1="309.87" x2="250.40" y2="309.87" stroke="#8a8a8a" stroke-width="0.8" />
<line x1="53.60" y1="307.35" x2="56.80" y2="307.35" stroke="#8a8a8a" stroke-width="0.8" />
<line x1="253.60" y1="307.35" x2="250.40" y2="307.35" stroke="#8a8a8a" stroke-width="0.8" />
<line x1="53.60" y1="305.23" x2="56.80" y2="305.23" stroke="#8a8a8a" stroke-width="0.8" />
<line x1="253.60" y1="305.23" x2="250.40" y2="305.23" stroke="#8a8a8a" stroke-width="0.8" />
<line x1="53.60" y1="303.38" x2="56.80" y2="303.38" stroke="#8a8a8a" stroke-width="0.8" />
<line x1="253.60" y1="303.38" x2="250.40" y2="303.38" stroke="#8a8a8a" stroke-width="0.8" />
<line x1="53.60" y1="301.76" x2="56.80" y2="301.76" stroke="#8a8a8a" stroke-width="0.8" />
<line x1="253.60" y1="301.76" x2="250.40" y2="301.76" stroke="#8a8a8a" stroke-width="0.8" />
<line x1="53.60" y1="300.30" x2="59.60" y2="300.30" stroke="#8a8a8a" stroke-width="0.8" />
<line x1="253.60" y1="300.30" x2="247.60" y2="300.30" stroke="#8a8a8a" stroke-width="0.8" />
<line x1="53.60" y1="290.73" x2="56.80" y2="290.73" stroke="#8a8a8a" stroke-width="0.8" />
<line x1="253.60" y1="290.73" x2="250.40" y2="290.73" stroke="#8a8a8a" stroke-width="0.8" />
<line x1="53.60" y1="285.13" x2="56.80" y2="285.13" stroke="#8a8a8a" stroke-width="0.8" />
<line x1="253.60" y1="285.13" x2="250.40" y2="285.13" stroke="#8a8a8a" stroke-width="0.8" />
<line x1="53.60" y1="281.15" x2="56.80" y2="281.15" stroke="#8a8a8a" stroke-width="0.8" />
<line x1="253.60" y1="281.15" x2="250.40" y2="281.15" stroke="#8a8a8a" stroke-width="0.8" />
<line x1="53.60" y1="278.07" x2="56.80" y2="278.07" stroke="#8a8a8a" stroke-width="0.8" />
<line x1="253.60" y1="278.07" x2="250.40" y2="278.07" stroke="#8a8a8a" stroke-width="0.8" />
<line x1="53.60" y1="275.55" x2="56.80" y2="275.55" stroke="#8a8a8a" stroke-width="0.8" />
<line x1="253.60" y1="275.55" x2="250.40" y2="275.55" stroke="#8a8a8a" stroke-width="0.8" />
<line x1="53.60" y1="273.43" x2="56.80" y2="273.43" stroke="#8a8a8a" stroke-width="0.8" />
<line x1="253.60" y1="273.43" x2="250.40" y2="273.43" stroke="#8a8a8a" stroke-width="0.8" />
<line x1="53.60" y1="271.58" x2="56.80" y2="271.58" stroke="#8a8a8a" stroke-width="0.8" />
<line x1="253.60" y1="271.58" x2="250.40" y2="271.58" stroke="#8a8a8a" stroke-width="0.8" />
<line x1="53.60" y1="269.96" x2="56.80" y2="269.96" stroke="#8a8a8a" stroke-width="0.8" />
<line x1="253.60" y1="269.96" x2="250.40" y2="269.96" stroke="#8a8a8a" stroke-width="0.8" />
<line x1="53.50" y1="268.90" x2="53.50" y2="272.90" stroke="#8a8a8a" stroke-width="0.8" />
<line x1="53.50" y1="434.00" x2="53.50" y2="430.00" stroke="#8a8a8a" stroke-width="0.8" />
<line x1="53.50" y1="434.00" x2="53.50" y2="438.00" stroke="#8a8a8a" stroke-width="0.8" />
<line x1="53.50" y1="477.50" x2="53.50" y2="473.50" stroke="#8a8a8a" stroke-width="0.8" />
<line x1="53.50" y1="477.50" x2="53.50" y2="481.50" stroke="#8a8a8a" stroke-width="0.8" />
<line x1="53.50" y1="514.00" x2="53.50" y2="510.00" stroke="#8a8a8a" stroke-width="0.8" />
<line x1="61.50" y1="268.90" x2="61.50" y2="271.10" stroke="#8a8a8a" stroke-width="0.8" />
<line x1="61.50" y1="434.00" x2="61.50" y2="431.80" stroke="#8a8a8a" stroke-width="0.8" />
<line x1="61.50" y1="434.00" x2="61.50" y2="436.20" stroke="#8a8a8a" stroke-width="0.8" />
<line x1="61.50" y1="477.50" x2="61.50" y2="475.30" stroke="#8a8a8a" stroke-width="0.8" />
<line x1="61.50" y1="477.50" x2="61.50" y2="479.70" stroke="#8a8a8a" stroke-width="0.8" />
<line x1="61.50" y1="514.00" x2="61.50" y2="511.80" stroke="#8a8a8a" stroke-width="0.8" />
<line x1="69.50" y1="268.90" x2="69.50" y2="271.10" stroke="#8a8a8a" stroke-width="0.8" />
<line x1="69.50" y1="434.00" x2="69.50" y2="431.80" stroke="#8a8a8a" stroke-width="0.8" />
<line x1="69.50" y1="434.00" x2="69.50" y2="436.20" stroke="#8a8a8a" stroke-width="0.8" />
<line x1="69.50" y1="477.50" x2="69.50" y2="475.30" stroke="#8a8a8a" stroke-width="0.8" />
<line x1="69.50" y1="477.50" x2="69.50" y2="479.70" stroke="#8a8a8a" stroke-width="0.8" />
<line x1="69.50" y1="514.00" x2="69.50" y2="511.80" stroke="#8a8a8a" stroke-width="0.8" />
<line x1="77.50" y1="268.90" x2="77.50" y2="271.10" stroke="#8a8a8a" stroke-width="0.8" />
<line x1="77.50" y1="434.00" x2="77.50" y2="431.80" stroke="#8a8a8a" stroke-width="0.8" />
<line x1="77.50" y1="434.00" x2="77.50" y2="436.20" stroke="#8a8a8a" stroke-width="0.8" />
<line x1="77.50" y1="477.50" x2="77.50" y2="475.30" stroke="#8a8a8a" stroke-width="0.8" />
<line x1="77.50" y1="477.50" x2="77.50" y2="479.70" stroke="#8a8a8a" stroke-width="0.8" />
<line x1="77.50" y1="514.00" x2="77.50" y2="511.80" stroke="#8a8a8a" stroke-width="0.8" />
<line x1="85.50" y1="268.90" x2="85.50" y2="271.10" stroke="#8a8a8a" stroke-width="0.8" />
<line x1="85.50" y1="434.00" x2="85.50" y2="431.80" stroke="#8a8a8a" stroke-width="0.8" />
<line x1="85.50" y1="434.00" x2="85.50" y2="436.20" stroke="#8a8a8a" stroke-width="0.8" />
<line x1="85.50" y1="477.50" x2="85.50" y2="475.30" stroke="#8a8a8a" stroke-width="0.8" />
<line x1="85.50" y1="477.50" x2="85.50" y2="479.70" stroke="#8a8a8a" stroke-width="0.8" />
<line x1="85.50" y1="514.00" x2="85.50" y2="511.80" stroke="#8a8a8a" stroke-width="0.8" />
<line x1="93.50" y1="268.90" x2="93.50" y2="272.90" stroke="#8a8a8a" stroke-width="0.8" />
<line x1="93.50" y1="434.00" x2="93.50" y2="430.00" stroke="#8a8a8a" stroke-width="0.8" />
<line x1="93.50" y1="434.00" x2="93.50" y2="438.00" stroke="#8a8a8a" stroke-width="0.8" />
<line x1="93.50" y1="477.50" x2="93.50" y2="473.50" stroke="#8a8a8a" stroke-width="0.8" />
<line x1="93.50" y1="477.50" x2="93.50" y2="481.50" stroke="#8a8a8a" stroke-width="0.8" />
<line x1="93.50" y1="514.00" x2="93.50" y2="510.00" stroke="#8a8a8a" stroke-width="0.8" />
<line x1="101.50" y1="268.90" x2="101.50" y2="271.10" stroke="#8a8a8a" stroke-width="0.8" />
<line x1="101.50" y1="434.00" x2="101.50" y2="431.80" stroke="#8a8a8a" stroke-width="0.8" />
<line x1="101.50" y1="434.00" x2="101.50" y2="436.20" stroke="#8a8a8a" stroke-width="0.8" />
<line x1="101.50" y1="477.50" x2="101.50" y2="475.30" stroke="#8a8a8a" stroke-width="0.8" />
<line x1="101.50" y1="477.50" x2="101.50" y2="479.70" stroke="#8a8a8a" stroke-width="0.8" />
<line x1="101.50" y1="514.00" x2="101.50" y2="511.80" stroke="#8a8a8a" stroke-width="0.8" />
<line x1="109.50" y1="268.90" x2="109.50" y2="271.10" stroke="#8a8a8a" stroke-width="0.8" />
<line x1="109.50" y1="434.00" x2="109.50" y2="431.80" stroke="#8a8a8a" stroke-width="0.8" />
<line x1="109.50" y1="434.00" x2="109.50" y2="436.20" stroke="#8a8a8a" stroke-width="0.8" />
<line x1="109.50" y1="477.50" x2="109.50" y2="475.30" stroke="#8a8a8a" stroke-width="0.8" />
<line x1="109.50" y1="477.50" x2="109.50" y2="479.70" stroke="#8a8a8a" stroke-width="0.8" />
<line x1="109.50" y1="514.00" x2="109.50" y2="511.80" stroke="#8a8a8a" stroke-width="0.8" />
<line x1="117.50" y1="268.90" x2="117.50" y2="271.10" stroke="#8a8a8a" stroke-width="0.8" />
<line x1="117.50" y1="434.00" x2="117.50" y2="431.80" stroke="#8a8a8a" stroke-width="0.8" />
<line x1="117.50" y1="434.00" x2="117.50" y2="436.20" stroke="#8a8a8a" stroke-width="0.8" />
<line x1="117.50" y1="477.50" x2="117.50" y2="475.30" stroke="#8a8a8a" stroke-width="0.8" />
<line x1="117.50" y1="477.50" x2="117.50" y2="479.70" stroke="#8a8a8a" stroke-width="0.8" />
<line x1="117.50" y1="514.00" x2="117.50" y2="511.80" stroke="#8a8a8a" stroke-width="0.8" />
<line x1="125.50" y1="268.90" x2="125.50" y2="271.10" stroke="#8a8a8a" stroke-width="0.8" />
<line x1="125.50" y1="434.00" x2="125.50" y2="431.80" stroke="#8a8a8a" stroke-width="0.8" />
<line x1="125.50" y1="434.00" x2="125.50" y2="436.20" stroke="#8a8a8a" stroke-width="0.8" />
<line x1="125.50" y1="477.50" x2="125.50" y2="475.30" stroke="#8a8a8a" stroke-width="0.8" />
<line x1="125.50" y1="477.50" x2="125.50" y2="479.70" stroke="#8a8a8a" stroke-width="0.8" />
<line x1="125.50" y1="514.00" x2="125.50" y2="511.80" stroke="#8a8a8a" stroke-width="0.8" />
<line x1="133.50" y1="268.90" x2="133.50" y2="272.90" stroke="#8a8a8a" stroke-width="0.8" />
<line x1="133.50" y1="434.00" x2="133.50" y2="430.00" stroke="#8a8a8a" stroke-width="0.8" />
<line x1="133.50" y1="434.00" x2="133.50" y2="438.00" stroke="#8a8a8a" stroke-width="0.8" />
<line x1="133.50" y1="477.50" x2="133.50" y2="473.50" stroke="#8a8a8a" stroke-width="0.8" />
<line x1="133.50" y1="477.50" x2="133.50" y2="481.50" stroke="#8a8a8a" stroke-width="0.8" />
<line x1="133.50" y1="514.00" x2="133.50" y2="510.00" stroke="#8a8a8a" stroke-width="0.8" />
<line x1="141.50" y1="268.90" x2="141.50" y2="271.10" stroke="#8a8a8a" stroke-width="0.8" />
<line x1="141.50" y1="434.00" x2="141.50" y2="431.80" stroke="#8a8a8a" stroke-width="0.8" />
<line x1="141.50" y1="434.00" x2="141.50" y2="436.20" stroke="#8a8a8a" stroke-width="0.8" />
<line x1="141.50" y1="477.50" x2="141.50" y2="475.30" stroke="#8a8a8a" stroke-width="0.8" />
<line x1="141.50" y1="477.50" x2="141.50" y2="479.70" stroke="#8a8a8a" stroke-width="0.8" />
<line x1="141.50" y1="514.00" x2="141.50" y2="511.80" stroke="#8a8a8a" stroke-width="0.8" />
<line x1="149.50" y1="268.90" x2="149.50" y2="271.10" stroke="#8a8a8a" stroke-width="0.8" />
<line x1="149.50" y1="434.00" x2="149.50" y2="431.80" stroke="#8a8a8a" stroke-width="0.8" />
<line x1="149.50" y1="434.00" x2="149.50" y2="436.20" stroke="#8a8a8a" stroke-width="0.8" />
<line x1="149.50" y1="477.50" x2="149.50" y2="475.30" stroke="#8a8a8a" stroke-width="0.8" />
<line x1="149.50" y1="477.50" x2="149.50" y2="479.70" stroke="#8a8a8a" stroke-width="0.8" />
<line x1="149.50" y1="514.00" x2="149.50" y2="511.80" stroke="#8a8a8a" stroke-width="0.8" />
<line x1="157.50" y1="268.90" x2="157.50" y2="271.10" stroke="#8a8a8a" stroke-width="0.8" />
<line x1="157.50" y1="434.00" x2="157.50" y2="431.80" stroke="#8a8a8a" stroke-width="0.8" />
<line x1="157.50" y1="434.00" x2="157.50" y2="436.20" stroke="#8a8a8a" stroke-width="0.8" />
<line x1="157.50" y1="477.50" x2="157.50" y2="475.30" stroke="#8a8a8a" stroke-width="0.8" />
<line x1="157.50" y1="477.50" x2="157.50" y2="479.70" stroke="#8a8a8a" stroke-width="0.8" />
<line x1="157.50" y1="514.00" x2="157.50" y2="511.80" stroke="#8a8a8a" stroke-width="0.8" />
<line x1="165.50" y1="268.90" x2="165.50" y2="271.10" stroke="#8a8a8a" stroke-width="0.8" />
<line x1="165.50" y1="434.00" x2="165.50" y2="431.80" stroke="#8a8a8a" stroke-width="0.8" />
<line x1="165.50" y1="434.00" x2="165.50" y2="436.20" stroke="#8a8a8a" stroke-width="0.8" />
<line x1="165.50" y1="477.50" x2="165.50" y2="475.30" stroke="#8a8a8a" stroke-width="0.8" />
<line x1="165.50" y1="477.50" x2="165.50" y2="479.70" stroke="#8a8a8a" stroke-width="0.8" />
<line x1="165.50" y1="514.00" x2="165.50" y2="511.80" stroke="#8a8a8a" stroke-width="0.8" />
<line x1="173.50" y1="268.90" x2="173.50" y2="272.90" stroke="#8a8a8a" stroke-width="0.8" />
<line x1="173.50" y1="434.00" x2="173.50" y2="430.00" stroke="#8a8a8a" stroke-width="0.8" />
<line x1="173.50" y1="434.00" x2="173.50" y2="438.00" stroke="#8a8a8a" stroke-width="0.8" />
<line x1="173.50" y1="477.50" x2="173.50" y2="473.50" stroke="#8a8a8a" stroke-width="0.8" />
<line x1="173.50" y1="477.50" x2="173.50" y2="481.50" stroke="#8a8a8a" stroke-width="0.8" />
<line x1="173.50" y1="514.00" x2="173.50" y2="510.00" stroke="#8a8a8a" stroke-width="0.8" />
<line x1="181.50" y1="268.90" x2="181.50" y2="271.10" stroke="#8a8a8a" stroke-width="0.8" />
<line x1="181.50" y1="434.00" x2="181.50" y2="431.80" stroke="#8a8a8a" stroke-width="0.8" />
<line x1="181.50" y1="434.00" x2="181.50" y2="436.20" stroke="#8a8a8a" stroke-width="0.8" />
<line x1="181.50" y1="477.50" x2="181.50" y2="475.30" stroke="#8a8a8a" stroke-width="0.8" />
<line x1="181.50" y1="477.50" x2="181.50" y2="479.70" stroke="#8a8a8a" stroke-width="0.8" />
<line x1="181.50" y1="514.00" x2="181.50" y2="511.80" stroke="#8a8a8a" stroke-width="0.8" />
<line x1="189.50" y1="268.90" x2="189.50" y2="271.10" stroke="#8a8a8a" stroke-width="0.8" />
<line x1="189.50" y1="434.00" x2="189.50" y2="431.80" stroke="#8a8a8a" stroke-width="0.8" />
<line x1="189.50" y1="434.00" x2="189.50" y2="436.20" stroke="#8a8a8a" stroke-width="0.8" />
<line x1="189.50" y1="477.50" x2="189.50" y2="475.30" stroke="#8a8a8a" stroke-width="0.8" />
<line x1="189.50" y1="477.50" x2="189.50" y2="479.70" stroke="#8a8a8a" stroke-width="0.8" />
<line x1="189.50" y1="514.00" x2="189.50" y2="511.80" stroke="#8a8a8a" stroke-width="0.8" />
<line x1="197.50" y1="268.90" x2="197.50" y2="271.10" stroke="#8a8a8a" stroke-width="0.8" />
<line x1="197.50" y1="434.00" x2="197.50" y2="431.80" stroke="#8a8a8a" stroke-width="0.8" />
<line x1="197.50" y1="434.00" x2="197.50" y2="436.20" stroke="#8a8a8a" stroke-width="0.8" />
<line x1="197.50" y1="477.50" x2="197.50" y2="475.30" stroke="#8a8a8a" stroke-width="0.8" />
<line x1="197.50" y1="477.50" x2="197.50" y2="479.70" stroke="#8a8a8a" stroke-width="0.8" />
<line x1="197.50" y1="514.00" x2="197.50" y2="511.80" stroke="#8a8a8a" stroke-width="0.8" />
<line x1="205.50" y1="268.90" x2="205.50" y2="271.10" stroke="#8a8a8a" stroke-width="0.8" />
<line x1="205.50" y1="434.00" x2="205.50" y2="431.80" stroke="#8a8a8a" stroke-width="0.8" />
<line x1="205.50" y1="434.00" x2="205.50" y2="436.20" stroke="#8a8a8a" stroke-width="0.8" />
<line x1="205.50" y1="477.50" x2="205.50" y2="475.30" stroke="#8a8a8a" stroke-width="0.8" />
<line x1="205.50" y1="477.50" x2="205.50" y2="479.70" stroke="#8a8a8a" stroke-width="0.8" />
<line x1="205.50" y1="514.00" x2="205.50" y2="511.80" stroke="#8a8a8a" stroke-width="0.8" />
<line x1="213.50" y1="268.90" x2="213.50" y2="272.90" stroke="#8a8a8a" stroke-width="0.8" />
<line x1="213.50" y1="434.00" x2="213.50" y2="430.00" stroke="#8a8a8a" stroke-width="0.8" />
<line x1="213.50" y1="434.00" x2="213.50" y2="438.00" stroke="#8a8a8a" stroke-width="0.8" />
<line x1="213.50" y1="477.50" x2="213.50" y2="473.50" stroke="#8a8a8a" stroke-width="0.8" />
<line x1="213.50" y1="477.50" x2="213.50" y2="481.50" stroke="#8a8a8a" stroke-width="0.8" />
<line x1="213.50" y1="514.00" x2="213.50" y2="510.00" stroke="#8a8a8a" stroke-width="0.8" />
<line x1="221.50" y1="268.90" x2="221.50" y2="271.10" stroke="#8a8a8a" stroke-width="0.8" />
<line x1="221.50" y1="434.00" x2="221.50" y2="431.80" stroke="#8a8a8a" stroke-width="0.8" />
<line x1="221.50" y1="434.00" x2="221.50" y2="436.20" stroke="#8a8a8a" stroke-width="0.8" />
<line x1="221.50" y1="477.50" x2="221.50" y2="475.30" stroke="#8a8a8a" stroke-width="0.8" />
<line x1="221.50" y1="477.50" x2="221.50" y2="479.70" stroke="#8a8a8a" stroke-width="0.8" />
<line x1="221.50" y1="514.00" x2="221.50" y2="511.80" stroke="#8a8a8a" stroke-width="0.8" />
<line x1="229.50" y1="268.90" x2="229.50" y2="271.10" stroke="#8a8a8a" stroke-width="0.8" />
<line x1="229.50" y1="434.00" x2="229.50" y2="431.80" stroke="#8a8a8a" stroke-width="0.8" />
<line x1="229.50" y1="434.00" x2="229.50" y2="436.20" stroke="#8a8a8a" stroke-width="0.8" />
<line x1="229.50" y1="477.50" x2="229.50" y2="475.30" stroke="#8a8a8a" stroke-width="0.8" />
<line x1="229.50" y1="477.50" x2="229.50" y2="479.70" stroke="#8a8a8a" stroke-width="0.8" />
<line x1="229.50" y1="514.00" x2="229.50" y2="511.80" stroke="#8a8a8a" stroke-width="0.8" />
<line x1="237.50" y1="268.90" x2="237.50" y2="271.10" stroke="#8a8a8a" stroke-width="0.8" />
<line x1="237.50" y1="434.00" x2="237.50" y2="431.80" stroke="#8a8a8a" stroke-width="0.8" />
<line x1="237.50" y1="434.00" x2="237.50" y2="436.20" stroke="#8a8a8a" stroke-width="0.8" />
<line x1="237.50" y1="477.50" x2="237.50" y2="475.30" stroke="#8a8a8a" stroke-width="0.8" />
<line x1="237.50" y1="477.50" x2="237.50" y2="479.70" stroke="#8a8a8a" stroke-width="0.8" />
<line x1="237.50" y1="514.00" x2="237.50" y2="511.80" stroke="#8a8a8a" stroke-width="0.8" />
<line x1="245.50" y1="268.90" x2="245.50" y2="271.10" stroke="#8a8a8a" stroke-width="0.8" />
<line x1="245.50" y1="434.00" x2="245.50" y2="431.80" stroke="#8a8a8a" stroke-width="0.8" />
<line x1="245.50" y1="434.00" x2="245.50" y2="436.20" stroke="#8a8a8a" stroke-width="0.8" />
<line x1="245.50" y1="477.50" x2="245.50" y2="475.30" stroke="#8a8a8a" stroke-width="0.8" />
<line x1="245.50" y1="477.50" x2="245.50" y2="479.70" stroke="#8a8a8a" stroke-width="0.8" />
<line x1="245.50" y1="514.00" x2="245.50" y2="511.80" stroke="#8a8a8a" stroke-width="0.8" />
<line x1="253.50" y1="268.90" x2="253.50" y2="272.90" stroke="#8a8a8a" stroke-width="0.8" />
<line x1="253.50" y1="434.00" x2="253.50" y2="430.00" stroke="#8a8a8a" stroke-width="0.8" />
<line x1="253.50" y1="434.00" x2="253.50" y2="438.00" stroke="#8a8a8a" stroke-width="0.8" />
<line x1="253.50" y1="477.50" x2="253.50" y2="473.50" stroke="#8a8a8a" stroke-width="0.8" />
<line x1="253.50" y1="477.50" x2="253.50" y2="481.50" stroke="#8a8a8a" stroke-width="0.8" />
<line x1="253.50" y1="514.00" x2="253.50" y2="510.00" stroke="#8a8a8a" stroke-width="0.8" />
<line x1="53.60" y1="477.50" x2="58.60" y2="477.50" stroke="#6a6a6a" stroke-width="0.8" />
<line x1="253.60" y1="477.50" x2="248.60" y2="477.50" stroke="#6a6a6a" stroke-width="0.8" />
<line x1="53.60" y1="474.65" x2="56.40" y2="474.65" stroke="#6a6a6a" stroke-width="0.8" />
<line x1="253.60" y1="474.65" x2="250.80" y2="474.65" stroke="#6a6a6a" stroke-width="0.8" />
<line x1="53.60" y1="471.80" x2="58.60" y2="471.80" stroke="#6a6a6a" stroke-width="0.8" />
<line x1="253.60" y1="471.80" x2="248.60" y2="471.80" stroke="#6a6a6a" stroke-width="0.8" />
<line x1="53.60" y1="468.95" x2="56.40" y2="468.95" stroke="#6a6a6a" stroke-width="0.8" />
<line x1="253.60" y1="468.95" x2="250.80" y2="468.95" stroke="#6a6a6a" stroke-width="0.8" />
<line x1="53.60" y1="466.10" x2="58.60" y2="466.10" stroke="#6a6a6a" stroke-width="0.8" />
<line x1="253.60" y1="466.10" x2="248.60" y2="466.10" stroke="#6a6a6a" stroke-width="0.8" />
<line x1="53.60" y1="463.25" x2="56.40" y2="463.25" stroke="#6a6a6a" stroke-width="0.8" />
<line x1="253.60" y1="463.25" x2="250.80" y2="463.25" stroke="#6a6a6a" stroke-width="0.8" />
<line x1="53.60" y1="460.40" x2="58.60" y2="460.40" stroke="#6a6a6a" stroke-width="0.8" />
<line x1="253.60" y1="460.40" x2="248.60" y2="460.40" stroke="#6a6a6a" stroke-width="0.8" />
<line x1="53.60" y1="457.55" x2="56.40" y2="457.55" stroke="#6a6a6a" stroke-width="0.8" />
<line x1="253.60" y1="457.55" x2="250.80" y2="457.55" stroke="#6a6a6a" stroke-width="0.8" />
<line x1="53.60" y1="454.70" x2="58.60" y2="454.70" stroke="#6a6a6a" stroke-width="0.8" />
<line x1="253.60" y1="454.70" x2="248.60" y2="454.70" stroke="#6a6a6a" stroke-width="0.8" />
<line x1="53.60" y1="451.85" x2="56.40" y2="451.85" stroke="#6a6a6a" stroke-width="0.8" />
<line x1="253.60" y1="451.85" x2="250.80" y2="451.85" stroke="#6a6a6a" stroke-width="0.8" />
<line x1="53.60" y1="449.00" x2="58.60" y2="449.00" stroke="#6a6a6a" stroke-width="0.8" />
<line x1="253.60" y1="449.00" x2="248.60" y2="449.00" stroke="#6a6a6a" stroke-width="0.8" />
<line x1="53.60" y1="446.15" x2="56.40" y2="446.15" stroke="#6a6a6a" stroke-width="0.8" />
<line x1="253.60" y1="446.15" x2="250.80" y2="446.15" stroke="#6a6a6a" stroke-width="0.8" />
<line x1="53.60" y1="443.30" x2="58.60" y2="443.30" stroke="#6a6a6a" stroke-width="0.8" />
<line x1="253.60" y1="443.30" x2="248.60" y2="443.30" stroke="#6a6a6a" stroke-width="0.8" />
<line x1="53.60" y1="440.45" x2="56.40" y2="440.45" stroke="#6a6a6a" stroke-width="0.8" />
<line x1="253.60" y1="440.45" x2="250.80" y2="440.45" stroke="#6a6a6a" stroke-width="0.8" />
<line x1="53.60" y1="437.60" x2="58.60" y2="437.60" stroke="#6a6a6a" stroke-width="0.8" />
<line x1="253.60" y1="437.60" x2="248.60" y2="437.60" stroke="#6a6a6a" stroke-width="0.8" />
<line x1="53.60" y1="434.75" x2="56.40" y2="434.75" stroke="#6a6a6a" stroke-width="0.8" />
<line x1="253.60" y1="434.75" x2="250.80" y2="434.75" stroke="#6a6a6a" stroke-width="0.8" />
<line x1="53.60" y1="514.00" x2="58.60" y2="514.00" stroke="#6a6a6a" stroke-width="0.8" />
<line x1="253.60" y1="514.00" x2="248.60" y2="514.00" stroke="#6a6a6a" stroke-width="0.8" />
<line x1="53.60" y1="511.55" x2="56.40" y2="511.55" stroke="#6a6a6a" stroke-width="0.8" />
<line x1="253.60" y1="511.55" x2="250.80" y2="511.55" stroke="#6a6a6a" stroke-width="0.8" />
<line x1="53.60" y1="509.10" x2="58.60" y2="509.10" stroke="#6a6a6a" stroke-width="0.8" />
<line x1="253.60" y1="509.10" x2="248.60" y2="509.10" stroke="#6a6a6a" stroke-width="0.8" />
<line x1="53.60" y1="506.65" x2="56.40" y2="506.65" stroke="#6a6a6a" stroke-width="0.8" />
<line x1="253.60" y1="506.65" x2="250.80" y2="506.65" stroke="#6a6a6a" stroke-width="0.8" />
<line x1="53.60" y1="504.20" x2="58.60" y2="504.20" stroke="#6a6a6a" stroke-width="0.8" />
<line x1="253.60" y1="504.20" x2="248.60" y2="504.20" stroke="#6a6a6a" stroke-width="0.8" />
<line x1="53.60" y1="501.75" x2="56.40" y2="501.75" stroke="#6a6a6a" stroke-width="0.8" />
<line x1="253.60" y1="501.75" x2="250.80" y2="501.75" stroke="#6a6a6a" stroke-width="0.8" />
<line x1="53.60" y1="499.30" x2="58.60" y2="499.30" stroke="#6a6a6a" stroke-width="0.8" />
<line x1="253.60" y1="499.30" x2="248.60" y2="499.30" stroke="#6a6a6a" stroke-width="0.8" />
<line x1="53.60" y1="496.85" x2="56.40" y2="496.85" stroke="#6a6a6a" stroke-width="0.8" />
<line x1="253.60" y1="496.85" x2="250.80" y2="496.85" stroke="#6a6a6a" stroke-width="0.8" />
<line x1="53.60" y1="494.40" x2="58.60" y2="494.40" stroke="#6a6a6a" stroke-width="0.8" />
<line x1="253.60" y1="494.40" x2="248.60" y2="494.40" stroke="#6a6a6a" stroke-width="0.8" />
<line x1="53.60" y1="491.95" x2="56.40" y2="491.95" stroke="#6a6a6a" stroke-width="0.8" />
<line x1="253.60" y1="491.95" x2="250.80" y2="491.95" stroke="#6a6a6a" stroke-width="0.8" />
<line x1="53.60" y1="489.50" x2="58.60" y2="489.50" stroke="#6a6a6a" stroke-width="0.8" />
<line x1="253.60" y1="489.50" x2="248.60" y2="489.50" stroke="#6a6a6a" stroke-width="0.8" />
<line x1="53.60" y1="487.05" x2="56.40" y2="487.05" stroke="#6a6a6a" stroke-width="0.8" />
<line x1="253.60" y1="487.05" x2="250.80" y2="487.05" stroke="#6a6a6a" stroke-width="0.8" />
<line x1="53.60" y1="484.60" x2="58.60" y2="484.60" stroke="#6a6a6a" stroke-width="0.8" />
<line x1="253.60" y1="484.60" x2="248.60" y2="484.60" stroke="#6a6a6a" stroke-width="0.8" />
<line x1="53.60" y1="482.15" x2="56.40" y2="482.15" stroke="#6a6a6a" stroke-width="0.8" />
<line x1="253.60" y1="482.15" x2="250.80" y2="482.15" stroke="#6a6a6a" stroke-width="0.8" />
<line x1="53.60" y1="479.70" x2="58.60" y2="479.70" stroke="#6a6a6a" stroke-width="0.8" />
<line x1="253.60" y1="479.70" x2="248.60" y2="479.70" stroke="#6a6a6a" stroke-width="0.8" />
<rect x="53.60" y="268.90" width="200.00" height="245.10" fill="none" stroke="#6e6e6e" stroke-width="1.0" />
<line x1="53.60" y1="434.00" x2="253.60" y2="434.00" stroke="#8a8a8a" stroke-width="0.9" />
<line x1="53.60" y1="477.50" x2="253.60" y2="477.50" stroke="#555" stroke-width="1.2" />
<text x="50.40" y="271.70" text-anchor="end" style="font-family:'Liberation Sans', sans-serif;font-size:8.9px">10<tspan dy="-3.5" style="font-size:6.0px">3</tspan></text>
<text x="50.40" y="303.50" text-anchor="end" style="font-family:'Liberation Sans', sans-serif;font-size:8.9px">10<tspan dy="-3.5" style="font-size:6.0px">2</tspan></text>
<text x="50.20" y="398.90" text-anchor="end" style="font-family:'Liberation Sans', sans-serif;font-size:8.9px">10<tspan dy="-3.5" style="font-size:6.0px">-1</tspan></text>
<text x="50.20" y="430.70" text-anchor="end" style="font-family:'Liberation Sans', sans-serif;font-size:8.9px">10<tspan dy="-3.5" style="font-size:6.0px">-2</tspan></text>
<text x="50.00" y="335.30" text-anchor="end" fill="#000" style="font-family:'Liberation Sans', sans-serif;font-size:8.9px;" >10</text>
<text x="50.00" y="367.10" text-anchor="end" fill="#000" style="font-family:'Liberation Sans', sans-serif;font-size:8.9px;" >1</text>
<text x="51.50" y="439.60" text-anchor="end" fill="#000" style="font-family:'Liberation Sans', sans-serif;font-size:5.7px;" >3.5</text>
<text x="51.50" y="481.70" text-anchor="end" fill="#000" style="font-family:'Liberation Sans', sans-serif;font-size:5.7px;" >3.5</text>
<text x="51.50" y="445.30" text-anchor="end" fill="#000" style="font-family:'Liberation Sans', sans-serif;font-size:5.7px;" >3</text>
<text x="51.50" y="486.60" text-anchor="end" fill="#000" style="font-family:'Liberation Sans', sans-serif;font-size:5.7px;" >3</text>
<text x="51.50" y="451.00" text-anchor="end" fill="#000" style="font-family:'Liberation Sans', sans-serif;font-size:5.7px;" >2.5</text>
<text x="51.50" y="491.50" text-anchor="end" fill="#000" style="font-family:'Liberation Sans', sans-serif;font-size:5.7px;" >2.5</text>
<text x="51.50" y="456.70" text-anchor="end" fill="#000" style="font-family:'Liberation Sans', sans-serif;font-size:5.7px;" >2</text>
<text x="51.50" y="496.40" text-anchor="end" fill="#000" style="font-family:'Liberation Sans', sans-serif;font-size:5.7px;" >2</text>
<text x="51.50" y="462.40" text-anchor="end" fill="#000" style="font-family:'Liberation Sans', sans-serif;font-size:5.7px;" >1.5</text>
<text x="51.50" y="501.30" text-anchor="end" fill="#000" style="font-family:'Liberation Sans', sans-serif;font-size:5.7px;" >1.5</text>
<text x="51.50" y="468.10" text-anchor="end" fill="#000" style="font-family:'Liberation Sans', sans-serif;font-size:5.7px;" >1</text>
<text x="51.50" y="506.20" text-anchor="end" fill="#000" style="font-family:'Liberation Sans', sans-serif;font-size:5.7px;" >1</text>
<text x="51.50" y="473.80" text-anchor="end" fill="#000" style="font-family:'Liberation Sans', sans-serif;font-size:5.7px;" >0.5</text>
<text x="51.50" y="511.10" text-anchor="end" fill="#000" style="font-family:'Liberation Sans', sans-serif;font-size:5.7px;" >0.5</text>
<text x="51.50" y="479.50" text-anchor="end" fill="#000" style="font-family:'Liberation Sans', sans-serif;font-size:5.7px;" >0</text>
<text x="51.50" y="516.00" text-anchor="end" fill="#000" style="font-family:'Liberation Sans', sans-serif;font-size:5.7px;" >0</text>
<text x="53.50" y="521.60" text-anchor="middle" fill="#000" style="font-family:'Liberation Sans', sans-serif;font-size:7.0px;" >0</text>
<text x="93.50" y="521.60" text-anchor="middle" fill="#000" style="font-family:'Liberation Sans', sans-serif;font-size:7.0px;" >5</text>
<text x="133.50" y="521.60" text-anchor="middle" fill="#000" style="font-family:'Liberation Sans', sans-serif;font-size:7.0px;" >10</text>
<text x="173.50" y="521.60" text-anchor="middle" fill="#000" style="font-family:'Liberation Sans', sans-serif;font-size:7.0px;" >15</text>
<text x="213.50" y="521.60" text-anchor="middle" fill="#000" style="font-family:'Liberation Sans', sans-serif;font-size:7.0px;" >20</text>
<text x="253.50" y="521.60" text-anchor="middle" fill="#000" style="font-family:'Liberation Sans', sans-serif;font-size:7.0px;" >25</text>
<text x="205.8" y="530.1" style="font-family:'Liberation Sans', sans-serif;font-size:9.3px">p<tspan dy="3" style="font-size:6.4px">t</tspan><tspan dy="-3">&#160; (GeV/c)</tspan></text>
<text transform="translate(19.6,399.3) rotate(-90)" style="font-family:'Liberation Sans', sans-serif;font-size:11.4px">dσ / dp<tspan dy="2.8" style="font-size:7.2px">t</tspan><tspan dy="-2.8"> |</tspan><tspan dy="3.2" style="font-size:6.6px">|y|&lt;0.5</tspan></text>
<text transform="translate(19.6,324.2) rotate(-90)" style="font-family:'Liberation Sans', sans-serif;font-size:10.8px">(µb/GeV/c)</text>
<text transform="translate(13.1,455.8) rotate(-90)" text-anchor="middle" style="font-family:'Liberation Sans', sans-serif;font-size:7.4px">Data</text>
<line x1="14.30" y1="443.50" x2="14.30" y2="467.00" stroke="#555" stroke-width="0.5" />
<text transform="translate(20.6,455.9) rotate(-90)" text-anchor="middle" style="font-family:'Liberation Sans', sans-serif;font-size:7.4px">FONLL</text>
<text transform="translate(13.1,495.1) rotate(-90)" text-anchor="middle" style="font-family:'Liberation Sans', sans-serif;font-size:7.4px">Data</text>
<line x1="14.30" y1="479.00" x2="14.30" y2="511.00" stroke="#555" stroke-width="0.5" />
<text transform="translate(20.6,495.2) rotate(-90)" text-anchor="middle" style="font-family:'Liberation Sans', sans-serif;font-size:7.0px">GM-VFNS</text>
<rect x="77.80" y="308.40" width="7.40" height="9.40" fill="url(#hatchB)" stroke="#4a78d0" stroke-width="1.1" />
<rect x="85.80" y="321.90" width="7.40" height="6.10" fill="url(#hatchB)" stroke="#4a78d0" stroke-width="1.1" />
<rect x="93.80" y="333.40" width="7.40" height="4.90" fill="url(#hatchB)" stroke="#4a78d0" stroke-width="1.1" />
<rect x="101.80" y="343.20" width="7.40" height="2.50" fill="url(#hatchB)" stroke="#4a78d0" stroke-width="1.1" />
<rect x="109.80" y="351.40" width="7.40" height="3.30" fill="url(#hatchB)" stroke="#4a78d0" stroke-width="1.1" />
<rect x="117.80" y="367.00" width="31.40" height="4.50" fill="url(#hatchB)" stroke="#4a78d0" stroke-width="1.1" />
<rect x="149.80" y="388.50" width="31.40" height="3.75" fill="url(#hatchB)" stroke="#4a78d0" stroke-width="1.1" />
<rect x="181.80" y="409.75" width="63.40" height="3.25" fill="url(#hatchB)" stroke="#4a78d0" stroke-width="1.1" />
<rect x="61.80" y="300.10" width="7.40" height="40.30" fill="url(#dotsR)" stroke="#e0474c" stroke-width="1.1" />
<rect x="69.80" y="308.00" width="7.40" height="30.30" fill="url(#dotsR)" stroke="#e0474c" stroke-width="1.1" />
<rect x="77.80" y="317.80" width="7.40" height="22.60" fill="url(#dotsR)" stroke="#e0474c" stroke-width="1.1" />
<rect x="85.80" y="328.00" width="7.40" height="18.50" fill="url(#dotsR)" stroke="#e0474c" stroke-width="1.1" />
<rect x="93.80" y="338.30" width="7.40" height="13.90" fill="url(#dotsR)" stroke="#e0474c" stroke-width="1.1" />
<rect x="101.80" y="345.70" width="7.40" height="14.70" fill="url(#dotsR)" stroke="#e0474c" stroke-width="1.1" />
<rect x="109.80" y="354.70" width="7.40" height="12.30" fill="url(#dotsR)" stroke="#e0474c" stroke-width="1.1" />
<rect x="117.80" y="372.00" width="31.40" height="8.75" fill="url(#dotsR)" stroke="#e0474c" stroke-width="1.1" />
<rect x="149.80" y="394.50" width="31.40" height="7.00" fill="url(#dotsR)" stroke="#e0474c" stroke-width="1.1" />
<rect x="181.80" y="416.50" width="63.40" height="5.75" fill="url(#dotsR)" stroke="#e0474c" stroke-width="1.1" />
<line x1="117.80" y1="372.30" x2="149.20" y2="372.30" stroke="#7a2020" stroke-width="1.0" />
<line x1="149.80" y1="394.80" x2="181.20" y2="394.80" stroke="#7a2020" stroke-width="1.0" />
<line x1="181.80" y1="416.80" x2="245.20" y2="416.80" stroke="#7a2020" stroke-width="1.0" />
<rect x="63.90" y="294.50" width="3.20" height="14.30" fill="none" stroke="#444" stroke-width="0.8" />
<rect x="71.90" y="309.30" width="3.20" height="10.90" fill="none" stroke="#444" stroke-width="0.8" />
<rect x="79.90" y="318.60" width="3.20" height="9.40" fill="none" stroke="#444" stroke-width="0.8" />
<rect x="87.90" y="326.80" width="3.20" height="7.10" fill="none" stroke="#444" stroke-width="0.8" />
<rect x="95.90" y="340.00" width="3.20" height="5.70" fill="none" stroke="#444" stroke-width="0.8" />
<rect x="103.90" y="347.00" width="3.20" height="5.50" fill="none" stroke="#444" stroke-width="0.8" />
<rect x="111.90" y="354.70" width="3.20" height="5.70" fill="none" stroke="#444" stroke-width="0.8" />
<rect x="131.90" y="367.00" width="3.20" height="7.00" fill="none" stroke="#444" stroke-width="0.8" />
<rect x="163.90" y="394.75" width="3.20" height="6.25" fill="none" stroke="#444" stroke-width="0.8" />
<rect x="211.90" y="413.50" width="3.20" height="7.50" fill="none" stroke="#444" stroke-width="0.8" />
<line x1="61.80" y1="297.80" x2="69.20" y2="297.80" stroke="#111" stroke-width="0.9" />
<line x1="65.50" y1="295.50" x2="65.50" y2="300.10" stroke="#000" stroke-width="0.9" />
<rect x="63.90" y="296.20" width="3.20" height="3.20" fill="#000" stroke="none" stroke-width="1" />
<line x1="69.80" y1="313.70" x2="77.20" y2="313.70" stroke="#111" stroke-width="0.9" />
<line x1="73.50" y1="311.40" x2="73.50" y2="316.00" stroke="#000" stroke-width="0.9" />
<rect x="71.90" y="312.10" width="3.20" height="3.20" fill="#000" stroke="none" stroke-width="1" />
<line x1="77.80" y1="321.90" x2="85.20" y2="321.90" stroke="#111" stroke-width="0.9" />
<line x1="81.50" y1="319.60" x2="81.50" y2="324.20" stroke="#000" stroke-width="0.9" />
<rect x="79.90" y="320.30" width="3.20" height="3.20" fill="#000" stroke="none" stroke-width="1" />
<line x1="85.80" y1="329.60" x2="93.20" y2="329.60" stroke="#111" stroke-width="0.9" />
<line x1="89.50" y1="327.30" x2="89.50" y2="331.90" stroke="#000" stroke-width="0.9" />
<rect x="87.90" y="328.00" width="3.20" height="3.20" fill="#000" stroke="none" stroke-width="1" />
<line x1="93.80" y1="342.40" x2="101.20" y2="342.40" stroke="#111" stroke-width="0.9" />
<line x1="97.50" y1="340.10" x2="97.50" y2="344.70" stroke="#000" stroke-width="0.9" />
<rect x="95.90" y="340.80" width="3.20" height="3.20" fill="#000" stroke="none" stroke-width="1" />
<line x1="101.80" y1="349.40" x2="109.20" y2="349.40" stroke="#111" stroke-width="0.9" />
<line x1="105.50" y1="347.10" x2="105.50" y2="351.70" stroke="#000" stroke-width="0.9" />
<rect x="103.90" y="347.80" width="3.20" height="3.20" fill="#000" stroke="none" stroke-width="1" />
<line x1="109.80" y1="357.10" x2="117.20" y2="357.10" stroke="#111" stroke-width="0.9" />
<line x1="113.50" y1="354.80" x2="113.50" y2="359.40" stroke="#000" stroke-width="0.9" />
<rect x="111.90" y="355.50" width="3.20" height="3.20" fill="#000" stroke="none" stroke-width="1" />
<rect x="132.10" y="366.70" width="2.80" height="7.60" fill="#111" stroke="none" stroke-width="1" rx="1.3"/>
<rect x="164.10" y="393.45" width="2.80" height="7.60" fill="#111" stroke="none" stroke-width="1" rx="1.3"/>
<rect x="212.10" y="413.45" width="2.80" height="7.60" fill="#111" stroke="none" stroke-width="1" rx="1.3"/>
<line x1="150.00" y1="398.00" x2="181.00" y2="398.00" stroke="#7a2a2a" stroke-width="0.6" stroke-dasharray="1.5,1"/>
<line x1="67.00" y1="384.75" x2="75.00" y2="384.75" stroke="#000" stroke-width="0.9" />
<rect x="69.30" y="383.30" width="3.00" height="2.90" fill="#000" stroke="none" stroke-width="1" />
<text x="75.80" y="386.60" text-anchor="start" fill="#000" style="font-family:'Liberation Sans', sans-serif;font-size:5.2px;" >stat. unc.</text>
<rect x="66.40" y="390.40" width="8.00" height="6.60" fill="none" stroke="#222" stroke-width="0.9" />
<text x="75.80" y="395.50" text-anchor="start" fill="#000" style="font-family:'Liberation Sans', sans-serif;font-size:5.2px;" >syst. unc.</text>
<rect x="66.40" y="400.30" width="8.00" height="6.20" fill="url(#dotsR)" stroke="#e0474c" stroke-width="0.9" />
<text x="75.80" y="405.10" text-anchor="start" fill="#000" style="font-family:'Liberation Sans', sans-serif;font-size:5.2px;" >FONLL</text>
<rect x="66.40" y="409.30" width="8.00" height="6.50" fill="url(#hatchB)" stroke="#4a78d0" stroke-width="0.9" />
<text x="75.80" y="414.30" text-anchor="start" fill="#000" style="font-family:'Liberation Sans', sans-serif;font-size:5.2px;" >GM-VFNS</text>
<text x="57.00" y="424.40" text-anchor="start" fill="#000" style="font-family:'Liberation Sans', sans-serif;font-size:5.75px;" >± 3.5% lumi, ± 2.1% BR norm. unc. (not shown)</text>
<text x="236.3" y="297.0" text-anchor="end" style="font-family:'Liberation Sans', sans-serif;font-size:8.75px">D<tspan dy="-3.3" style="font-size:6px">*</tspan><tspan dy="3.3">, pp √s = 7 TeV, L</tspan><tspan dy="2.6" style="font-size:6px">int</tspan><tspan dy="-2.6"> = 5 nb</tspan><tspan dy="-3.6" style="font-size:6px">-1</tspan></text>
<text x="237.00" y="286.30" text-anchor="end" fill="#000" style="font-family:'Liberation Sans', sans-serif;font-size:9.0px;" >ALICE</text>
<line x1="53.60" y1="466.10" x2="253.60" y2="466.10" stroke="#555" stroke-width="0.6" stroke-dasharray="2,1.5"/>
<rect x="61.80" y="449.75" width="7.40" height="26.75" fill="url(#dotsR)" stroke="#e0474c" stroke-width="1.1" />
<rect x="69.80" y="452.25" width="7.40" height="22.50" fill="url(#dotsR)" stroke="#e0474c" stroke-width="1.1" />
<rect x="77.80" y="456.00" width="7.40" height="16.25" fill="url(#dotsR)" stroke="#e0474c" stroke-width="1.1" />
<rect x="85.80" y="457.25" width="7.40" height="13.25" fill="url(#dotsR)" stroke="#e0474c" stroke-width="1.1" />
<rect x="93.80" y="461.00" width="7.40" height="9.50" fill="url(#dotsR)" stroke="#e0474c" stroke-width="1.1" />
<rect x="101.80" y="459.75" width="7.40" height="9.25" fill="url(#dotsR)" stroke="#e0474c" stroke-width="1.1" />
<rect x="109.80" y="461.00" width="7.40" height="8.00" fill="url(#dotsR)" stroke="#e0474c" stroke-width="1.1" />
<rect x="117.80" y="461.00" width="31.40" height="8.00" fill="url(#dotsR)" stroke="#e0474c" stroke-width="1.1" />
<rect x="149.80" y="462.25" width="31.40" height="6.25" fill="url(#dotsR)" stroke="#e0474c" stroke-width="1.1" />
<rect x="181.80" y="463.00" width="63.40" height="6.00" fill="url(#dotsR)" stroke="#e0474c" stroke-width="1.1" />
<line x1="117.80" y1="461.20" x2="149.20" y2="461.20" stroke="#8a2a2a" stroke-width="0.8" />
<line x1="149.80" y1="462.45" x2="181.20" y2="462.45" stroke="#8a2a2a" stroke-width="0.8" />
<line x1="181.80" y1="463.20" x2="245.20" y2="463.20" stroke="#8a2a2a" stroke-width="0.8" />
<line x1="53.60" y1="466.10" x2="253.60" y2="466.10" stroke="#555" stroke-width="0.6" stroke-dasharray="2,1.5"/>
<rect x="63.70" y="434.75" width="3.60" height="27.50" fill="none" stroke="#555" stroke-width="0.75" />
<line x1="62.00" y1="446.00" x2="69.00" y2="446.00" stroke="#111" stroke-width="0.9" />
<line x1="65.50" y1="441.00" x2="65.50" y2="451.00" stroke="#000" stroke-width="1.0" />
<rect x="63.80" y="444.30" width="3.40" height="3.40" fill="#000" stroke="none" stroke-width="1" />
<rect x="71.70" y="456.00" width="3.60" height="11.25" fill="none" stroke="#555" stroke-width="0.75" />
<line x1="70.00" y1="461.00" x2="77.00" y2="461.00" stroke="#111" stroke-width="0.9" />
<line x1="73.50" y1="459.00" x2="73.50" y2="463.00" stroke="#000" stroke-width="1.0" />
<rect x="71.80" y="459.30" width="3.40" height="3.40" fill="#000" stroke="none" stroke-width="1" />
<rect x="79.70" y="454.75" width="3.60" height="11.25" fill="none" stroke="#555" stroke-width="0.75" />
<line x1="78.00" y1="459.75" x2="85.00" y2="459.75" stroke="#111" stroke-width="0.9" />
<line x1="81.50" y1="457.75" x2="81.50" y2="461.75" stroke="#000" stroke-width="1.0" />
<rect x="79.80" y="458.05" width="3.40" height="3.40" fill="#000" stroke="none" stroke-width="1" />
<rect x="87.70" y="454.00" width="3.60" height="8.25" fill="none" stroke="#555" stroke-width="0.75" />
<line x1="86.00" y1="458.00" x2="93.00" y2="458.00" stroke="#111" stroke-width="0.9" />
<line x1="89.50" y1="456.00" x2="89.50" y2="460.00" stroke="#000" stroke-width="1.0" />
<rect x="87.80" y="456.30" width="3.40" height="3.40" fill="#000" stroke="none" stroke-width="1" />
<rect x="95.70" y="459.00" width="3.60" height="5.75" fill="none" stroke="#555" stroke-width="0.75" />
<line x1="94.00" y1="462.25" x2="101.00" y2="462.25" stroke="#111" stroke-width="0.9" />
<line x1="97.50" y1="460.25" x2="97.50" y2="464.25" stroke="#000" stroke-width="1.0" />
<rect x="95.80" y="460.55" width="3.40" height="3.40" fill="#000" stroke="none" stroke-width="1" />
<rect x="103.70" y="457.25" width="3.60" height="6.25" fill="none" stroke="#555" stroke-width="0.75" />
<line x1="102.00" y1="459.75" x2="109.00" y2="459.75" stroke="#111" stroke-width="0.9" />
<line x1="105.50" y1="457.75" x2="105.50" y2="461.75" stroke="#000" stroke-width="1.0" />
<rect x="103.80" y="458.05" width="3.40" height="3.40" fill="#000" stroke="none" stroke-width="1" />
<rect x="111.70" y="458.50" width="3.60" height="6.25" fill="none" stroke="#555" stroke-width="0.75" />
<line x1="110.00" y1="462.25" x2="117.00" y2="462.25" stroke="#111" stroke-width="0.9" />
<line x1="113.50" y1="460.25" x2="113.50" y2="464.25" stroke="#000" stroke-width="1.0" />
<rect x="111.80" y="460.55" width="3.40" height="3.40" fill="#000" stroke="none" stroke-width="1" />
<line x1="117.80" y1="459.75" x2="149.20" y2="459.75" stroke="#777" stroke-width="1.0" />
<rect x="131.70" y="457.00" width="3.60" height="6.00" fill="none" stroke="#555" stroke-width="0.75" />
<line x1="130.00" y1="459.75" x2="137.00" y2="459.75" stroke="#111" stroke-width="0.9" />
<line x1="133.50" y1="457.75" x2="133.50" y2="461.75" stroke="#000" stroke-width="1.0" />
<rect x="131.80" y="458.05" width="3.40" height="3.40" fill="#000" stroke="none" stroke-width="1" />
<line x1="149.80" y1="464.75" x2="181.20" y2="464.75" stroke="#777" stroke-width="1.0" />
<rect x="163.70" y="461.00" width="3.60" height="7.00" fill="none" stroke="#555" stroke-width="0.75" />
<line x1="162.00" y1="464.75" x2="169.00" y2="464.75" stroke="#111" stroke-width="0.9" />
<line x1="165.50" y1="462.75" x2="165.50" y2="466.75" stroke="#000" stroke-width="1.0" />
<rect x="163.80" y="463.05" width="3.40" height="3.40" fill="#000" stroke="none" stroke-width="1" />
<line x1="181.80" y1="463.50" x2="245.20" y2="463.50" stroke="#777" stroke-width="1.0" />
<rect x="211.70" y="459.50" width="3.60" height="8.00" fill="none" stroke="#555" stroke-width="0.75" />
<line x1="210.00" y1="463.50" x2="217.00" y2="463.50" stroke="#111" stroke-width="0.9" />
<line x1="213.50" y1="461.50" x2="213.50" y2="465.50" stroke="#000" stroke-width="1.0" />
<rect x="211.80" y="461.80" width="3.40" height="3.40" fill="#000" stroke="none" stroke-width="1" />
<rect x="77.80" y="498.50" width="7.40" height="8.75" fill="url(#hatchB)" stroke="#4a78d0" stroke-width="1.1" />
<rect x="85.80" y="500.25" width="7.40" height="5.75" fill="url(#hatchB)" stroke="#4a78d0" stroke-width="1.1" />
<rect x="93.80" y="501.75" width="7.40" height="3.50" fill="url(#hatchB)" stroke="#4a78d0" stroke-width="1.1" />
<rect x="101.80" y="502.25" width="7.40" height="2.75" fill="url(#hatchB)" stroke="#4a78d0" stroke-width="1.1" />
<rect x="109.80" y="502.25" width="7.40" height="2.75" fill="url(#hatchB)" stroke="#4a78d0" stroke-width="1.1" />
<rect x="117.80" y="501.75" width="31.40" height="3.25" fill="url(#hatchB)" stroke="#4a78d0" stroke-width="1.1" />
<rect x="149.80" y="502.25" width="31.40" height="3.25" fill="url(#hatchB)" stroke="#4a78d0" stroke-width="1.1" />
<rect x="181.80" y="501.50" width="63.40" height="3.75" fill="url(#hatchB)" stroke="#4a78d0" stroke-width="1.1" />
<line x1="53.60" y1="504.20" x2="253.60" y2="504.20" stroke="#555" stroke-width="0.6" stroke-dasharray="2,1.5"/>
<rect x="79.60" y="506.10" width="3.80" height="3.80" fill="#000" stroke="none" stroke-width="1" />
<rect x="87.60" y="504.60" width="3.80" height="3.80" fill="#000" stroke="none" stroke-width="1" />
<rect x="95.60" y="504.85" width="3.80" height="3.80" fill="#000" stroke="none" stroke-width="1" />
<rect x="103.60" y="504.10" width="3.80" height="3.80" fill="#000" stroke="none" stroke-width="1" />
<rect x="111.60" y="503.60" width="3.80" height="3.80" fill="#000" stroke="none" stroke-width="1" />
<line x1="117.80" y1="504.75" x2="149.20" y2="504.75" stroke="#777" stroke-width="1.0" />
<rect x="131.60" y="502.85" width="3.80" height="3.80" fill="#000" stroke="none" stroke-width="1" />
<line x1="149.80" y1="507.25" x2="181.20" y2="507.25" stroke="#777" stroke-width="1.0" />
<rect x="163.60" y="505.35" width="3.80" height="3.80" fill="#000" stroke="none" stroke-width="1" />
<line x1="181.80" y1="506.75" x2="245.20" y2="506.75" stroke="#777" stroke-width="1.0" />
<rect x="211.60" y="504.85" width="3.80" height="3.80" fill="#000" stroke="none" stroke-width="1" />
<text x="132.20" y="545.50" text-anchor="middle" fill="#222" style="font-family:'Liberation Serif', serif;font-size:17.0px;" >(c)</text>
<line x1="322.30" y1="442.53" x2="325.80" y2="442.53" stroke="#8a8a8a" stroke-width="0.8" />
<line x1="523.50" y1="442.53" x2="520.00" y2="442.53" stroke="#8a8a8a" stroke-width="0.8" />
<line x1="322.30" y1="436.00" x2="325.80" y2="436.00" stroke="#8a8a8a" stroke-width="0.8" />
<line x1="523.50" y1="436.00" x2="520.00" y2="436.00" stroke="#8a8a8a" stroke-width="0.8" />
<line x1="322.30" y1="431.36" x2="325.80" y2="431.36" stroke="#8a8a8a" stroke-width="0.8" />
<line x1="523.50" y1="431.36" x2="520.00" y2="431.36" stroke="#8a8a8a" stroke-width="0.8" />
<line x1="322.30" y1="427.77" x2="325.80" y2="427.77" stroke="#8a8a8a" stroke-width="0.8" />
<line x1="523.50" y1="427.77" x2="520.00" y2="427.77" stroke="#8a8a8a" stroke-width="0.8" />
<line x1="322.30" y1="424.83" x2="325.80" y2="424.83" stroke="#8a8a8a" stroke-width="0.8" />
<line x1="523.50" y1="424.83" x2="520.00" y2="424.83" stroke="#8a8a8a" stroke-width="0.8" />
<line x1="322.30" y1="422.35" x2="325.80" y2="422.35" stroke="#8a8a8a" stroke-width="0.8" />
<line x1="523.50" y1="422.35" x2="520.00" y2="422.35" stroke="#8a8a8a" stroke-width="0.8" />
<line x1="322.30" y1="420.20" x2="325.80" y2="420.20" stroke="#8a8a8a" stroke-width="0.8" />
<line x1="523.50" y1="420.20" x2="520.00" y2="420.20" stroke="#8a8a8a" stroke-width="0.8" />
<line x1="322.30" y1="418.30" x2="325.80" y2="418.30" stroke="#8a8a8a" stroke-width="0.8" />
<line x1="523.50" y1="418.30" x2="520.00" y2="418.30" stroke="#8a8a8a" stroke-width="0.8" />
<line x1="322.30" y1="416.60" x2="328.80" y2="416.60" stroke="#8a8a8a" stroke-width="0.8" />
<line x1="523.50" y1="416.60" x2="517.00" y2="416.60" stroke="#8a8a8a" stroke-width="0.8" />
<line x1="322.30" y1="405.43" x2="325.80" y2="405.43" stroke="#8a8a8a" stroke-width="0.8" />
<line x1="523.50" y1="405.43" x2="520.00" y2="405.43" stroke="#8a8a8a" stroke-width="0.8" />
<line x1="322.30" y1="398.90" x2="325.80" y2="398.90" stroke="#8a8a8a" stroke-width="0.8" />
<line x1="523.50" y1="398.90" x2="520.00" y2="398.90" stroke="#8a8a8a" stroke-width="0.8" />
<line x1="322.30" y1="394.26" x2="325.80" y2="394.26" stroke="#8a8a8a" stroke-width="0.8" />
<line x1="523.50" y1="394.26" x2="520.00" y2="394.26" stroke="#8a8a8a" stroke-width="0.8" />
<line x1="322.30" y1="390.67" x2="325.80" y2="390.67" stroke="#8a8a8a" stroke-width="0.8" />
<line x1="523.50" y1="390.67" x2="520.00" y2="390.67" stroke="#8a8a8a" stroke-width="0.8" />
<line x1="322.30" y1="387.73" x2="325.80" y2="387.73" stroke="#8a8a8a" stroke-width="0.8" />
<line x1="523.50" y1="387.73" x2="520.00" y2="387.73" stroke="#8a8a8a" stroke-width="0.8" />
<line x1="322.30" y1="385.25" x2="325.80" y2="385.25" stroke="#8a8a8a" stroke-width="0.8" />
<line x1="523.50" y1="385.25" x2="520.00" y2="385.25" stroke="#8a8a8a" stroke-width="0.8" />
<line x1="322.30" y1="383.10" x2="325.80" y2="383.10" stroke="#8a8a8a" stroke-width="0.8" />
<line x1="523.50" y1="383.10" x2="520.00" y2="383.10" stroke="#8a8a8a" stroke-width="0.8" />
<line x1="322.30" y1="381.20" x2="325.80" y2="381.20" stroke="#8a8a8a" stroke-width="0.8" />
<line x1="523.50" y1="381.20" x2="520.00" y2="381.20" stroke="#8a8a8a" stroke-width="0.8" />
<line x1="322.30" y1="379.50" x2="328.80" y2="379.50" stroke="#8a8a8a" stroke-width="0.8" />
<line x1="523.50" y1="379.50" x2="517.00" y2="379.50" stroke="#8a8a8a" stroke-width="0.8" />
<line x1="322.30" y1="368.33" x2="325.80" y2="368.33" stroke="#8a8a8a" stroke-width="0.8" />
<line x1="523.50" y1="368.33" x2="520.00" y2="368.33" stroke="#8a8a8a" stroke-width="0.8" />
<line x1="322.30" y1="361.80" x2="325.80" y2="361.80" stroke="#8a8a8a" stroke-width="0.8" />
<line x1="523.50" y1="361.80" x2="520.00" y2="361.80" stroke="#8a8a8a" stroke-width="0.8" />
<line x1="322.30" y1="357.16" x2="325.80" y2="357.16" stroke="#8a8a8a" stroke-width="0.8" />
<line x1="523.50" y1="357.16" x2="520.00" y2="357.16" stroke="#8a8a8a" stroke-width="0.8" />
<line x1="322.30" y1="353.57" x2="325.80" y2="353.57" stroke="#8a8a8a" stroke-width="0.8" />
<line x1="523.50" y1="353.57" x2="520.00" y2="353.57" stroke="#8a8a8a" stroke-width="0.8" />
<line x1="322.30" y1="350.63" x2="325.80" y2="350.63" stroke="#8a8a8a" stroke-width="0.8" />
<line x1="523.50" y1="350.63" x2="520.00" y2="350.63" stroke="#8a8a8a" stroke-width="0.8" />
<line x1="322.30" y1="348.15" x2="325.80" y2="348.15" stroke="#8a8a8a" stroke-width="0.8" />
<line x1="523.50" y1="348.15" x2="520.00" y2="348.15" stroke="#8a8a8a" stroke-width="0.8" />
<line x1="322.30" y1="346.00" x2="325.80" y2="346.00" stroke="#8a8a8a" stroke-width="0.8" />
<line x1="523.50" y1="346.00" x2="520.00" y2="346.00" stroke="#8a8a8a" stroke-width="0.8" />
<line x1="322.30" y1="344.10" x2="325.80" y2="344.10" stroke="#8a8a8a" stroke-width="0.8" />
<line x1="523.50" y1="344.10" x2="520.00" y2="344.10" stroke="#8a8a8a" stroke-width="0.8" />
<line x1="322.30" y1="342.40" x2="328.80" y2="342.40" stroke="#8a8a8a" stroke-width="0.8" />
<line x1="523.50" y1="342.40" x2="517.00" y2="342.40" stroke="#8a8a8a" stroke-width="0.8" />
<line x1="322.30" y1="331.23" x2="325.80" y2="331.23" stroke="#8a8a8a" stroke-width="0.8" />
<line x1="523.50" y1="331.23" x2="520.00" y2="331.23" stroke="#8a8a8a" stroke-width="0.8" />
<line x1="322.30" y1="324.70" x2="325.80" y2="324.70" stroke="#8a8a8a" stroke-width="0.8" />
<line x1="523.50" y1="324.70" x2="520.00" y2="324.70" stroke="#8a8a8a" stroke-width="0.8" />
<line x1="322.30" y1="320.06" x2="325.80" y2="320.06" stroke="#8a8a8a" stroke-width="0.8" />
<line x1="523.50" y1="320.06" x2="520.00" y2="320.06" stroke="#8a8a8a" stroke-width="0.8" />
<line x1="322.30" y1="316.47" x2="325.80" y2="316.47" stroke="#8a8a8a" stroke-width="0.8" />
<line x1="523.50" y1="316.47" x2="520.00" y2="316.47" stroke="#8a8a8a" stroke-width="0.8" />
<line x1="322.30" y1="313.53" x2="325.80" y2="313.53" stroke="#8a8a8a" stroke-width="0.8" />
<line x1="523.50" y1="313.53" x2="520.00" y2="313.53" stroke="#8a8a8a" stroke-width="0.8" />
<line x1="322.30" y1="311.05" x2="325.80" y2="311.05" stroke="#8a8a8a" stroke-width="0.8" />
<line x1="523.50" y1="311.05" x2="520.00" y2="311.05" stroke="#8a8a8a" stroke-width="0.8" />
<line x1="322.30" y1="308.90" x2="325.80" y2="308.90" stroke="#8a8a8a" stroke-width="0.8" />
<line x1="523.50" y1="308.90" x2="520.00" y2="308.90" stroke="#8a8a8a" stroke-width="0.8" />
<line x1="322.30" y1="307.00" x2="325.80" y2="307.00" stroke="#8a8a8a" stroke-width="0.8" />
<line x1="523.50" y1="307.00" x2="520.00" y2="307.00" stroke="#8a8a8a" stroke-width="0.8" />
<line x1="322.30" y1="305.30" x2="328.80" y2="305.30" stroke="#8a8a8a" stroke-width="0.8" />
<line x1="523.50" y1="305.30" x2="517.00" y2="305.30" stroke="#8a8a8a" stroke-width="0.8" />
<line x1="322.30" y1="294.13" x2="325.80" y2="294.13" stroke="#8a8a8a" stroke-width="0.8" />
<line x1="523.50" y1="294.13" x2="520.00" y2="294.13" stroke="#8a8a8a" stroke-width="0.8" />
<line x1="322.30" y1="287.60" x2="325.80" y2="287.60" stroke="#8a8a8a" stroke-width="0.8" />
<line x1="523.50" y1="287.60" x2="520.00" y2="287.60" stroke="#8a8a8a" stroke-width="0.8" />
<line x1="322.30" y1="282.96" x2="325.80" y2="282.96" stroke="#8a8a8a" stroke-width="0.8" />
<line x1="523.50" y1="282.96" x2="520.00" y2="282.96" stroke="#8a8a8a" stroke-width="0.8" />
<line x1="322.30" y1="279.37" x2="325.80" y2="279.37" stroke="#8a8a8a" stroke-width="0.8" />
<line x1="523.50" y1="279.37" x2="520.00" y2="279.37" stroke="#8a8a8a" stroke-width="0.8" />
<line x1="322.30" y1="276.43" x2="325.80" y2="276.43" stroke="#8a8a8a" stroke-width="0.8" />
<line x1="523.50" y1="276.43" x2="520.00" y2="276.43" stroke="#8a8a8a" stroke-width="0.8" />
<line x1="322.30" y1="273.95" x2="325.80" y2="273.95" stroke="#8a8a8a" stroke-width="0.8" />
<line x1="523.50" y1="273.95" x2="520.00" y2="273.95" stroke="#8a8a8a" stroke-width="0.8" />
<line x1="322.30" y1="271.80" x2="325.80" y2="271.80" stroke="#8a8a8a" stroke-width="0.8" />
<line x1="523.50" y1="271.80" x2="520.00" y2="271.80" stroke="#8a8a8a" stroke-width="0.8" />
<line x1="322.30" y1="269.90" x2="325.80" y2="269.90" stroke="#8a8a8a" stroke-width="0.8" />
<line x1="523.50" y1="269.90" x2="520.00" y2="269.90" stroke="#8a8a8a" stroke-width="0.8" />
<line x1="322.70" y1="268.50" x2="322.70" y2="272.50" stroke="#6a6a6a" stroke-width="0.8" />
<line x1="322.70" y1="447.30" x2="322.70" y2="443.30" stroke="#6a6a6a" stroke-width="0.8" />
<line x1="322.70" y1="449.50" x2="322.70" y2="453.50" stroke="#6a6a6a" stroke-width="0.8" />
<line x1="322.70" y1="479.40" x2="322.70" y2="475.40" stroke="#6a6a6a" stroke-width="0.8" />
<line x1="322.70" y1="479.40" x2="322.70" y2="483.40" stroke="#6a6a6a" stroke-width="0.8" />
<line x1="322.70" y1="510.00" x2="322.70" y2="506.00" stroke="#6a6a6a" stroke-width="0.8" />
<line x1="329.88" y1="268.50" x2="329.88" y2="270.70" stroke="#6a6a6a" stroke-width="0.8" />
<line x1="329.88" y1="447.30" x2="329.88" y2="445.10" stroke="#6a6a6a" stroke-width="0.8" />
<line x1="329.88" y1="449.50" x2="329.88" y2="451.70" stroke="#6a6a6a" stroke-width="0.8" />
<line x1="329.88" y1="479.40" x2="329.88" y2="477.20" stroke="#6a6a6a" stroke-width="0.8" />
<line x1="329.88" y1="479.40" x2="329.88" y2="481.60" stroke="#6a6a6a" stroke-width="0.8" />
<line x1="329.88" y1="510.00" x2="329.88" y2="507.80" stroke="#6a6a6a" stroke-width="0.8" />
<line x1="337.07" y1="268.50" x2="337.07" y2="270.70" stroke="#6a6a6a" stroke-width="0.8" />
<line x1="337.07" y1="447.30" x2="337.07" y2="445.10" stroke="#6a6a6a" stroke-width="0.8" />
<line x1="337.07" y1="449.50" x2="337.07" y2="451.70" stroke="#6a6a6a" stroke-width="0.8" />
<line x1="337.07" y1="479.40" x2="337.07" y2="477.20" stroke="#6a6a6a" stroke-width="0.8" />
<line x1="337.07" y1="479.40" x2="337.07" y2="481.60" stroke="#6a6a6a" stroke-width="0.8" />
<line x1="337.07" y1="510.00" x2="337.07" y2="507.80" stroke="#6a6a6a" stroke-width="0.8" />
<line x1="344.25" y1="268.50" x2="344.25" y2="270.70" stroke="#6a6a6a" stroke-width="0.8" />
<line x1="344.25" y1="447.30" x2="344.25" y2="445.10" stroke="#6a6a6a" stroke-width="0.8" />
<line x1="344.25" y1="449.50" x2="344.25" y2="451.70" stroke="#6a6a6a" stroke-width="0.8" />
<line x1="344.25" y1="479.40" x2="344.25" y2="477.20" stroke="#6a6a6a" stroke-width="0.8" />
<line x1="344.25" y1="479.40" x2="344.25" y2="481.60" stroke="#6a6a6a" stroke-width="0.8" />
<line x1="344.25" y1="510.00" x2="344.25" y2="507.80" stroke="#6a6a6a" stroke-width="0.8" />
<line x1="351.44" y1="268.50" x2="351.44" y2="272.50" stroke="#6a6a6a" stroke-width="0.8" />
<line x1="351.44" y1="447.30" x2="351.44" y2="443.30" stroke="#6a6a6a" stroke-width="0.8" />
<line x1="351.44" y1="449.50" x2="351.44" y2="453.50" stroke="#6a6a6a" stroke-width="0.8" />
<line x1="351.44" y1="479.40" x2="351.44" y2="475.40" stroke="#6a6a6a" stroke-width="0.8" />
<line x1="351.44" y1="479.40" x2="351.44" y2="483.40" stroke="#6a6a6a" stroke-width="0.8" />
<line x1="351.44" y1="510.00" x2="351.44" y2="506.00" stroke="#6a6a6a" stroke-width="0.8" />
<line x1="358.62" y1="268.50" x2="358.62" y2="270.70" stroke="#6a6a6a" stroke-width="0.8" />
<line x1="358.62" y1="447.30" x2="358.62" y2="445.10" stroke="#6a6a6a" stroke-width="0.8" />
<line x1="358.62" y1="449.50" x2="358.62" y2="451.70" stroke="#6a6a6a" stroke-width="0.8" />
<line x1="358.62" y1="479.40" x2="358.62" y2="477.20" stroke="#6a6a6a" stroke-width="0.8" />
<line x1="358.62" y1="479.40" x2="358.62" y2="481.60" stroke="#6a6a6a" stroke-width="0.8" />
<line x1="358.62" y1="510.00" x2="358.62" y2="507.80" stroke="#6a6a6a" stroke-width="0.8" />
<line x1="365.81" y1="268.50" x2="365.81" y2="270.70" stroke="#6a6a6a" stroke-width="0.8" />
<line x1="365.81" y1="447.30" x2="365.81" y2="445.10" stroke="#6a6a6a" stroke-width="0.8" />
<line x1="365.81" y1="449.50" x2="365.81" y2="451.70" stroke="#6a6a6a" stroke-width="0.8" />
<line x1="365.81" y1="479.40" x2="365.81" y2="477.20" stroke="#6a6a6a" stroke-width="0.8" />
<line x1="365.81" y1="479.40" x2="365.81" y2="481.60" stroke="#6a6a6a" stroke-width="0.8" />
<line x1="365.81" y1="510.00" x2="365.81" y2="507.80" stroke="#6a6a6a" stroke-width="0.8" />
<line x1="373.00" y1="268.50" x2="373.00" y2="270.70" stroke="#6a6a6a" stroke-width="0.8" />
<line x1="373.00" y1="447.30" x2="373.00" y2="445.10" stroke="#6a6a6a" stroke-width="0.8" />
<line x1="373.00" y1="449.50" x2="373.00" y2="451.70" stroke="#6a6a6a" stroke-width="0.8" />
<line x1="373.00" y1="479.40" x2="373.00" y2="477.20" stroke="#6a6a6a" stroke-width="0.8" />
<line x1="373.00" y1="479.40" x2="373.00" y2="481.60" stroke="#6a6a6a" stroke-width="0.8" />
<line x1="373.00" y1="510.00" x2="373.00" y2="507.80" stroke="#6a6a6a" stroke-width="0.8" />
<line x1="380.18" y1="268.50" x2="380.18" y2="272.50" stroke="#6a6a6a" stroke-width="0.8" />
<line x1="380.18" y1="447.30" x2="380.18" y2="443.30" stroke="#6a6a6a" stroke-width="0.8" />
<line x1="380.18" y1="449.50" x2="380.18" y2="453.50" stroke="#6a6a6a" stroke-width="0.8" />
<line x1="380.18" y1="479.40" x2="380.18" y2="475.40" stroke="#6a6a6a" stroke-width="0.8" />
<line x1="380.18" y1="479.40" x2="380.18" y2="483.40" stroke="#6a6a6a" stroke-width="0.8" />
<line x1="380.18" y1="510.00" x2="380.18" y2="506.00" stroke="#6a6a6a" stroke-width="0.8" />
<line x1="387.37" y1="268.50" x2="387.37" y2="270.70" stroke="#6a6a6a" stroke-width="0.8" />
<line x1="387.37" y1="447.30" x2="387.37" y2="445.10" stroke="#6a6a6a" stroke-width="0.8" />
<line x1="387.37" y1="449.50" x2="387.37" y2="451.70" stroke="#6a6a6a" stroke-width="0.8" />
<line x1="387.37" y1="479.40" x2="387.37" y2="477.20" stroke="#6a6a6a" stroke-width="0.8" />
<line x1="387.37" y1="479.40" x2="387.37" y2="481.60" stroke="#6a6a6a" stroke-width="0.8" />
<line x1="387.37" y1="510.00" x2="387.37" y2="507.80" stroke="#6a6a6a" stroke-width="0.8" />
<line x1="394.55" y1="268.50" x2="394.55" y2="270.70" stroke="#6a6a6a" stroke-width="0.8" />
<line x1="394.55" y1="447.30" x2="394.55" y2="445.10" stroke="#6a6a6a" stroke-width="0.8" />
<line x1="394.55" y1="449.50" x2="394.55" y2="451.70" stroke="#6a6a6a" stroke-width="0.8" />
<line x1="394.55" y1="479.40" x2="394.55" y2="477.20" stroke="#6a6a6a" stroke-width="0.8" />
<line x1="394.55" y1="479.40" x2="394.55" y2="481.60" stroke="#6a6a6a" stroke-width="0.8" />
<line x1="394.55" y1="510.00" x2="394.55" y2="507.80" stroke="#6a6a6a" stroke-width="0.8" />
<line x1="401.74" y1="268.50" x2="401.74" y2="270.70" stroke="#6a6a6a" stroke-width="0.8" />
<line x1="401.74" y1="447.30" x2="401.74" y2="445.10" stroke="#6a6a6a" stroke-width="0.8" />
<line x1="401.74" y1="449.50" x2="401.74" y2="451.70" stroke="#6a6a6a" stroke-width="0.8" />
<line x1="401.74" y1="479.40" x2="401.74" y2="477.20" stroke="#6a6a6a" stroke-width="0.8" />
<line x1="401.74" y1="479.40" x2="401.74" y2="481.60" stroke="#6a6a6a" stroke-width="0.8" />
<line x1="401.74" y1="510.00" x2="401.74" y2="507.80" stroke="#6a6a6a" stroke-width="0.8" />
<line x1="408.92" y1="268.50" x2="408.92" y2="272.50" stroke="#6a6a6a" stroke-width="0.8" />
<line x1="408.92" y1="447.30" x2="408.92" y2="443.30" stroke="#6a6a6a" stroke-width="0.8" />
<line x1="408.92" y1="449.50" x2="408.92" y2="453.50" stroke="#6a6a6a" stroke-width="0.8" />
<line x1="408.92" y1="479.40" x2="408.92" y2="475.40" stroke="#6a6a6a" stroke-width="0.8" />
<line x1="408.92" y1="479.40" x2="408.92" y2="483.40" stroke="#6a6a6a" stroke-width="0.8" />
<line x1="408.92" y1="510.00" x2="408.92" y2="506.00" stroke="#6a6a6a" stroke-width="0.8" />
<line x1="416.11" y1="268.50" x2="416.11" y2="270.70" stroke="#6a6a6a" stroke-width="0.8" />
<line x1="416.11" y1="447.30" x2="416.11" y2="445.10" stroke="#6a6a6a" stroke-width="0.8" />
<line x1="416.11" y1="449.50" x2="416.11" y2="451.70" stroke="#6a6a6a" stroke-width="0.8" />
<line x1="416.11" y1="479.40" x2="416.11" y2="477.20" stroke="#6a6a6a" stroke-width="0.8" />
<line x1="416.11" y1="479.40" x2="416.11" y2="481.60" stroke="#6a6a6a" stroke-width="0.8" />
<line x1="416.11" y1="510.00" x2="416.11" y2="507.80" stroke="#6a6a6a" stroke-width="0.8" />
<line x1="423.29" y1="268.50" x2="423.29" y2="270.70" stroke="#6a6a6a" stroke-width="0.8" />
<line x1="423.29" y1="447.30" x2="423.29" y2="445.10" stroke="#6a6a6a" stroke-width="0.8" />
<line x1="423.29" y1="449.50" x2="423.29" y2="451.70" stroke="#6a6a6a" stroke-width="0.8" />
<line x1="423.29" y1="479.40" x2="423.29" y2="477.20" stroke="#6a6a6a" stroke-width="0.8" />
<line x1="423.29" y1="479.40" x2="423.29" y2="481.60" stroke="#6a6a6a" stroke-width="0.8" />
<line x1="423.29" y1="510.00" x2="423.29" y2="507.80" stroke="#6a6a6a" stroke-width="0.8" />
<line x1="430.47" y1="268.50" x2="430.47" y2="270.70" stroke="#6a6a6a" stroke-width="0.8" />
<line x1="430.47" y1="447.30" x2="430.47" y2="445.10" stroke="#6a6a6a" stroke-width="0.8" />
<line x1="430.47" y1="449.50" x2="430.47" y2="451.70" stroke="#6a6a6a" stroke-width="0.8" />
<line x1="430.47" y1="479.40" x2="430.47" y2="477.20" stroke="#6a6a6a" stroke-width="0.8" />
<line x1="430.47" y1="479.40" x2="430.47" y2="481.60" stroke="#6a6a6a" stroke-width="0.8" />
<line x1="430.47" y1="510.00" x2="430.47" y2="507.80" stroke="#6a6a6a" stroke-width="0.8" />
<line x1="437.66" y1="268.50" x2="437.66" y2="272.50" stroke="#6a6a6a" stroke-width="0.8" />
<line x1="437.66" y1="447.30" x2="437.66" y2="443.30" stroke="#6a6a6a" stroke-width="0.8" />
<line x1="437.66" y1="449.50" x2="437.66" y2="453.50" stroke="#6a6a6a" stroke-width="0.8" />
<line x1="437.66" y1="479.40" x2="437.66" y2="475.40" stroke="#6a6a6a" stroke-width="0.8" />
<line x1="437.66" y1="479.40" x2="437.66" y2="483.40" stroke="#6a6a6a" stroke-width="0.8" />
<line x1="437.66" y1="510.00" x2="437.66" y2="506.00" stroke="#6a6a6a" stroke-width="0.8" />
<line x1="444.84" y1="268.50" x2="444.84" y2="270.70" stroke="#6a6a6a" stroke-width="0.8" />
<line x1="444.84" y1="447.30" x2="444.84" y2="445.10" stroke="#6a6a6a" stroke-width="0.8" />
<line x1="444.84" y1="449.50" x2="444.84" y2="451.70" stroke="#6a6a6a" stroke-width="0.8" />
<line x1="444.84" y1="479.40" x2="444.84" y2="477.20" stroke="#6a6a6a" stroke-width="0.8" />
<line x1="444.84" y1="479.40" x2="444.84" y2="481.60" stroke="#6a6a6a" stroke-width="0.8" />
<line x1="444.84" y1="510.00" x2="444.84" y2="507.80" stroke="#6a6a6a" stroke-width="0.8" />
<line x1="452.03" y1="268.50" x2="452.03" y2="270.70" stroke="#6a6a6a" stroke-width="0.8" />
<line x1="452.03" y1="447.30" x2="452.03" y2="445.10" stroke="#6a6a6a" stroke-width="0.8" />
<line x1="452.03" y1="449.50" x2="452.03" y2="451.70" stroke="#6a6a6a" stroke-width="0.8" />
<line x1="452.03" y1="479.40" x2="452.03" y2="477.20" stroke="#6a6a6a" stroke-width="0.8" />
<line x1="452.03" y1="479.40" x2="452.03" y2="481.60" stroke="#6a6a6a" stroke-width="0.8" />
<line x1="452.03" y1="510.00" x2="452.03" y2="507.80" stroke="#6a6a6a" stroke-width="0.8" />
<line x1="459.21" y1="268.50" x2="459.21" y2="270.70" stroke="#6a6a6a" stroke-width="0.8" />
<line x1="459.21" y1="447.30" x2="459.21" y2="445.10" stroke="#6a6a6a" stroke-width="0.8" />
<line x1="459.21" y1="449.50" x2="459.21" y2="451.70" stroke="#6a6a6a" stroke-width="0.8" />
<line x1="459.21" y1="479.40" x2="459.21" y2="477.20" stroke="#6a6a6a" stroke-width="0.8" />
<line x1="459.21" y1="479.40" x2="459.21" y2="481.60" stroke="#6a6a6a" stroke-width="0.8" />
<line x1="459.21" y1="510.00" x2="459.21" y2="507.80" stroke="#6a6a6a" stroke-width="0.8" />
<line x1="466.40" y1="268.50" x2="466.40" y2="272.50" stroke="#6a6a6a" stroke-width="0.8" />
<line x1="466.40" y1="447.30" x2="466.40" y2="443.30" stroke="#6a6a6a" stroke-width="0.8" />
<line x1="466.40" y1="449.50" x2="466.40" y2="453.50" stroke="#6a6a6a" stroke-width="0.8" />
<line x1="466.40" y1="479.40" x2="466.40" y2="475.40" stroke="#6a6a6a" stroke-width="0.8" />
<line x1="466.40" y1="479.40" x2="466.40" y2="483.40" stroke="#6a6a6a" stroke-width="0.8" />
<line x1="466.40" y1="510.00" x2="466.40" y2="506.00" stroke="#6a6a6a" stroke-width="0.8" />
<line x1="473.58" y1="268.50" x2="473.58" y2="270.70" stroke="#6a6a6a" stroke-width="0.8" />
<line x1="473.58" y1="447.30" x2="473.58" y2="445.10" stroke="#6a6a6a" stroke-width="0.8" />
<line x1="473.58" y1="449.50" x2="473.58" y2="451.70" stroke="#6a6a6a" stroke-width="0.8" />
<line x1="473.58" y1="479.40" x2="473.58" y2="477.20" stroke="#6a6a6a" stroke-width="0.8" />
<line x1="473.58" y1="479.40" x2="473.58" y2="481.60" stroke="#6a6a6a" stroke-width="0.8" />
<line x1="473.58" y1="510.00" x2="473.58" y2="507.80" stroke="#6a6a6a" stroke-width="0.8" />
<line x1="480.77" y1="268.50" x2="480.77" y2="270.70" stroke="#6a6a6a" stroke-width="0.8" />
<line x1="480.77" y1="447.30" x2="480.77" y2="445.10" stroke="#6a6a6a" stroke-width="0.8" />
<line x1="480.77" y1="449.50" x2="480.77" y2="451.70" stroke="#6a6a6a" stroke-width="0.8" />
<line x1="480.77" y1="479.40" x2="480.77" y2="477.20" stroke="#6a6a6a" stroke-width="0.8" />
<line x1="480.77" y1="479.40" x2="480.77" y2="481.60" stroke="#6a6a6a" stroke-width="0.8" />
<line x1="480.77" y1="510.00" x2="480.77" y2="507.80" stroke="#6a6a6a" stroke-width="0.8" />
<line x1="487.95" y1="268.50" x2="487.95" y2="270.70" stroke="#6a6a6a" stroke-width="0.8" />
<line x1="487.95" y1="447.30" x2="487.95" y2="445.10" stroke="#6a6a6a" stroke-width="0.8" />
<line x1="487.95" y1="449.50" x2="487.95" y2="451.70" stroke="#6a6a6a" stroke-width="0.8" />
<line x1="487.95" y1="479.40" x2="487.95" y2="477.20" stroke="#6a6a6a" stroke-width="0.8" />
<line x1="487.95" y1="479.40" x2="487.95" y2="481.60" stroke="#6a6a6a" stroke-width="0.8" />
<line x1="487.95" y1="510.00" x2="487.95" y2="507.80" stroke="#6a6a6a" stroke-width="0.8" />
<line x1="495.14" y1="268.50" x2="495.14" y2="272.50" stroke="#6a6a6a" stroke-width="0.8" />
<line x1="495.14" y1="447.30" x2="495.14" y2="443.30" stroke="#6a6a6a" stroke-width="0.8" />
<line x1="495.14" y1="449.50" x2="495.14" y2="453.50" stroke="#6a6a6a" stroke-width="0.8" />
<line x1="495.14" y1="479.40" x2="495.14" y2="475.40" stroke="#6a6a6a" stroke-width="0.8" />
<line x1="495.14" y1="479.40" x2="495.14" y2="483.40" stroke="#6a6a6a" stroke-width="0.8" />
<line x1="495.14" y1="510.00" x2="495.14" y2="506.00" stroke="#6a6a6a" stroke-width="0.8" />
<line x1="502.32" y1="268.50" x2="502.32" y2="270.70" stroke="#6a6a6a" stroke-width="0.8" />
<line x1="502.32" y1="447.30" x2="502.32" y2="445.10" stroke="#6a6a6a" stroke-width="0.8" />
<line x1="502.32" y1="449.50" x2="502.32" y2="451.70" stroke="#6a6a6a" stroke-width="0.8" />
<line x1="502.32" y1="479.40" x2="502.32" y2="477.20" stroke="#6a6a6a" stroke-width="0.8" />
<line x1="502.32" y1="479.40" x2="502.32" y2="481.60" stroke="#6a6a6a" stroke-width="0.8" />
<line x1="502.32" y1="510.00" x2="502.32" y2="507.80" stroke="#6a6a6a" stroke-width="0.8" />
<line x1="509.51" y1="268.50" x2="509.51" y2="270.70" stroke="#6a6a6a" stroke-width="0.8" />
<line x1="509.51" y1="447.30" x2="509.51" y2="445.10" stroke="#6a6a6a" stroke-width="0.8" />
<line x1="509.51" y1="449.50" x2="509.51" y2="451.70" stroke="#6a6a6a" stroke-width="0.8" />
<line x1="509.51" y1="479.40" x2="509.51" y2="477.20" stroke="#6a6a6a" stroke-width="0.8" />
<line x1="509.51" y1="479.40" x2="509.51" y2="481.60" stroke="#6a6a6a" stroke-width="0.8" />
<line x1="509.51" y1="510.00" x2="509.51" y2="507.80" stroke="#6a6a6a" stroke-width="0.8" />
<line x1="516.69" y1="268.50" x2="516.69" y2="270.70" stroke="#6a6a6a" stroke-width="0.8" />
<line x1="516.69" y1="447.30" x2="516.69" y2="445.10" stroke="#6a6a6a" stroke-width="0.8" />
<line x1="516.69" y1="449.50" x2="516.69" y2="451.70" stroke="#6a6a6a" stroke-width="0.8" />
<line x1="516.69" y1="479.40" x2="516.69" y2="477.20" stroke="#6a6a6a" stroke-width="0.8" />
<line x1="516.69" y1="479.40" x2="516.69" y2="481.60" stroke="#6a6a6a" stroke-width="0.8" />
<line x1="516.69" y1="510.00" x2="516.69" y2="507.80" stroke="#6a6a6a" stroke-width="0.8" />
<line x1="523.88" y1="268.50" x2="523.88" y2="272.50" stroke="#6a6a6a" stroke-width="0.8" />
<line x1="523.88" y1="447.30" x2="523.88" y2="443.30" stroke="#6a6a6a" stroke-width="0.8" />
<line x1="523.88" y1="449.50" x2="523.88" y2="453.50" stroke="#6a6a6a" stroke-width="0.8" />
<line x1="523.88" y1="479.40" x2="523.88" y2="475.40" stroke="#6a6a6a" stroke-width="0.8" />
<line x1="523.88" y1="479.40" x2="523.88" y2="483.40" stroke="#6a6a6a" stroke-width="0.8" />
<line x1="523.88" y1="510.00" x2="523.88" y2="506.00" stroke="#6a6a6a" stroke-width="0.8" />
<line x1="322.30" y1="479.40" x2="327.80" y2="479.40" stroke="#6a6a6a" stroke-width="0.8" />
<line x1="523.50" y1="479.40" x2="518.00" y2="479.40" stroke="#6a6a6a" stroke-width="0.8" />
<line x1="322.30" y1="476.90" x2="325.30" y2="476.90" stroke="#6a6a6a" stroke-width="0.8" />
<line x1="523.50" y1="476.90" x2="520.50" y2="476.90" stroke="#6a6a6a" stroke-width="0.8" />
<line x1="322.30" y1="474.40" x2="327.80" y2="474.40" stroke="#6a6a6a" stroke-width="0.8" />
<line x1="523.50" y1="474.40" x2="518.00" y2="474.40" stroke="#6a6a6a" stroke-width="0.8" />
<line x1="322.30" y1="471.90" x2="325.30" y2="471.90" stroke="#6a6a6a" stroke-width="0.8" />
<line x1="523.50" y1="471.90" x2="520.50" y2="471.90" stroke="#6a6a6a" stroke-width="0.8" />
<line x1="322.30" y1="469.40" x2="327.80" y2="469.40" stroke="#6a6a6a" stroke-width="0.8" />
<line x1="523.50" y1="469.40" x2="518.00" y2="469.40" stroke="#6a6a6a" stroke-width="0.8" />
<line x1="322.30" y1="466.90" x2="325.30" y2="466.90" stroke="#6a6a6a" stroke-width="0.8" />
<line x1="523.50" y1="466.90" x2="520.50" y2="466.90" stroke="#6a6a6a" stroke-width="0.8" />
<line x1="322.30" y1="464.40" x2="327.80" y2="464.40" stroke="#6a6a6a" stroke-width="0.8" />
<line x1="523.50" y1="464.40" x2="518.00" y2="464.40" stroke="#6a6a6a" stroke-width="0.8" />
<line x1="322.30" y1="461.90" x2="325.30" y2="461.90" stroke="#6a6a6a" stroke-width="0.8" />
<line x1="523.50" y1="461.90" x2="520.50" y2="461.90" stroke="#6a6a6a" stroke-width="0.8" />
<line x1="322.30" y1="459.40" x2="327.80" y2="459.40" stroke="#6a6a6a" stroke-width="0.8" />
<line x1="523.50" y1="459.40" x2="518.00" y2="459.40" stroke="#6a6a6a" stroke-width="0.8" />
<line x1="322.30" y1="456.90" x2="325.30" y2="456.90" stroke="#6a6a6a" stroke-width="0.8" />
<line x1="523.50" y1="456.90" x2="520.50" y2="456.90" stroke="#6a6a6a" stroke-width="0.8" />
<line x1="322.30" y1="454.40" x2="327.80" y2="454.40" stroke="#6a6a6a" stroke-width="0.8" />
<line x1="523.50" y1="454.40" x2="518.00" y2="454.40" stroke="#6a6a6a" stroke-width="0.8" />
<line x1="322.30" y1="451.90" x2="325.30" y2="451.90" stroke="#6a6a6a" stroke-width="0.8" />
<line x1="523.50" y1="451.90" x2="520.50" y2="451.90" stroke="#6a6a6a" stroke-width="0.8" />
<line x1="322.30" y1="449.40" x2="327.80" y2="449.40" stroke="#6a6a6a" stroke-width="0.8" />
<line x1="523.50" y1="449.40" x2="518.00" y2="449.40" stroke="#6a6a6a" stroke-width="0.8" />
<line x1="322.30" y1="510.00" x2="327.80" y2="510.00" stroke="#6a6a6a" stroke-width="0.8" />
<line x1="523.50" y1="510.00" x2="518.00" y2="510.00" stroke="#6a6a6a" stroke-width="0.8" />
<line x1="322.30" y1="507.50" x2="325.30" y2="507.50" stroke="#6a6a6a" stroke-width="0.8" />
<line x1="523.50" y1="507.50" x2="520.50" y2="507.50" stroke="#6a6a6a" stroke-width="0.8" />
<line x1="322.30" y1="505.00" x2="327.80" y2="505.00" stroke="#6a6a6a" stroke-width="0.8" />
<line x1="523.50" y1="505.00" x2="518.00" y2="505.00" stroke="#6a6a6a" stroke-width="0.8" />
<line x1="322.30" y1="502.50" x2="325.30" y2="502.50" stroke="#6a6a6a" stroke-width="0.8" />
<line x1="523.50" y1="502.50" x2="520.50" y2="502.50" stroke="#6a6a6a" stroke-width="0.8" />
<line x1="322.30" y1="500.00" x2="327.80" y2="500.00" stroke="#6a6a6a" stroke-width="0.8" />
<line x1="523.50" y1="500.00" x2="518.00" y2="500.00" stroke="#6a6a6a" stroke-width="0.8" />
<line x1="322.30" y1="497.50" x2="325.30" y2="497.50" stroke="#6a6a6a" stroke-width="0.8" />
<line x1="523.50" y1="497.50" x2="520.50" y2="497.50" stroke="#6a6a6a" stroke-width="0.8" />
<line x1="322.30" y1="495.00" x2="327.80" y2="495.00" stroke="#6a6a6a" stroke-width="0.8" />
<line x1="523.50" y1="495.00" x2="518.00" y2="495.00" stroke="#6a6a6a" stroke-width="0.8" />
<line x1="322.30" y1="492.50" x2="325.30" y2="492.50" stroke="#6a6a6a" stroke-width="0.8" />
<line x1="523.50" y1="492.50" x2="520.50" y2="492.50" stroke="#6a6a6a" stroke-width="0.8" />
<line x1="322.30" y1="490.00" x2="327.80" y2="490.00" stroke="#6a6a6a" stroke-width="0.8" />
<line x1="523.50" y1="490.00" x2="518.00" y2="490.00" stroke="#6a6a6a" stroke-width="0.8" />
<line x1="322.30" y1="487.50" x2="325.30" y2="487.50" stroke="#6a6a6a" stroke-width="0.8" />
<line x1="523.50" y1="487.50" x2="520.50" y2="487.50" stroke="#6a6a6a" stroke-width="0.8" />
<line x1="322.30" y1="485.00" x2="327.80" y2="485.00" stroke="#6a6a6a" stroke-width="0.8" />
<line x1="523.50" y1="485.00" x2="518.00" y2="485.00" stroke="#6a6a6a" stroke-width="0.8" />
<line x1="322.30" y1="482.50" x2="325.30" y2="482.50" stroke="#6a6a6a" stroke-width="0.8" />
<line x1="523.50" y1="482.50" x2="520.50" y2="482.50" stroke="#6a6a6a" stroke-width="0.8" />
<line x1="322.30" y1="480.00" x2="327.80" y2="480.00" stroke="#6a6a6a" stroke-width="0.8" />
<line x1="523.50" y1="480.00" x2="518.00" y2="480.00" stroke="#6a6a6a" stroke-width="0.8" />
<rect x="322.30" y="268.50" width="201.20" height="178.80" fill="none" stroke="#b0b0b0" stroke-width="1.0" />
<rect x="322.30" y="449.50" width="201.20" height="60.50" fill="none" stroke="#b0b0b0" stroke-width="1.0" />
<line x1="322.30" y1="479.40" x2="523.50" y2="479.40" stroke="#555" stroke-width="1.0" />
<text x="319.60" y="271.60" text-anchor="end" style="font-family:'Liberation Sans', sans-serif;font-size:9.0px">10<tspan dy="-3.6" style="font-size:6.0px">3</tspan></text>
<text x="319.60" y="308.70" text-anchor="end" style="font-family:'Liberation Sans', sans-serif;font-size:9.0px">10<tspan dy="-3.6" style="font-size:6.0px">2</tspan></text>
<text x="321.00" y="345.80" text-anchor="end" fill="#000" style="font-family:'Liberation Sans', sans-serif;font-size:9.0px;" >10</text>
<text x="321.00" y="382.90" text-anchor="end" fill="#000" style="font-family:'Liberation Sans', sans-serif;font-size:9.0px;" >1</text>
<text x="319.60" y="420.00" text-anchor="end" style="font-family:'Liberation Sans', sans-serif;font-size:9.0px">10<tspan dy="-3.6" style="font-size:6.0px">-1</tspan></text>
<text x="320.80" y="456.50" text-anchor="end" fill="#000" style="font-family:'Liberation Sans', sans-serif;font-size:6.4px;" >2.5</text>
<text x="320.80" y="487.00" text-anchor="end" fill="#000" style="font-family:'Liberation Sans', sans-serif;font-size:6.4px;" >2.5</text>
<text x="320.80" y="461.50" text-anchor="end" fill="#000" style="font-family:'Liberation Sans', sans-serif;font-size:6.4px;" >2</text>
<text x="320.80" y="492.00" text-anchor="end" fill="#000" style="font-family:'Liberation Sans', sans-serif;font-size:6.4px;" >2</text>
<text x="320.80" y="466.50" text-anchor="end" fill="#000" style="font-family:'Liberation Sans', sans-serif;font-size:6.4px;" >1.5</text>
<text x="320.80" y="497.00" text-anchor="end" fill="#000" style="font-family:'Liberation Sans', sans-serif;font-size:6.4px;" >1.5</text>
<text x="320.80" y="471.50" text-anchor="end" fill="#000" style="font-family:'Liberation Sans', sans-serif;font-size:6.4px;" >1</text>
<text x="320.80" y="502.00" text-anchor="end" fill="#000" style="font-family:'Liberation Sans', sans-serif;font-size:6.4px;" >1</text>
<text x="320.80" y="476.50" text-anchor="end" fill="#000" style="font-family:'Liberation Sans', sans-serif;font-size:6.4px;" >0.5</text>
<text x="320.80" y="507.00" text-anchor="end" fill="#000" style="font-family:'Liberation Sans', sans-serif;font-size:6.4px;" >0.5</text>
<text x="320.80" y="512.00" text-anchor="end" fill="#000" style="font-family:'Liberation Sans', sans-serif;font-size:6.4px;" >0</text>
<text x="322.70" y="516.30" text-anchor="middle" fill="#000" style="font-family:'Liberation Sans', sans-serif;font-size:7.0px;" >0</text>
<text x="351.44" y="516.30" text-anchor="middle" fill="#000" style="font-family:'Liberation Sans', sans-serif;font-size:7.0px;" >2</text>
<text x="380.18" y="516.30" text-anchor="middle" fill="#000" style="font-family:'Liberation Sans', sans-serif;font-size:7.0px;" >4</text>
<text x="408.92" y="516.30" text-anchor="middle" fill="#000" style="font-family:'Liberation Sans', sans-serif;font-size:7.0px;" >6</text>
<text x="437.66" y="516.30" text-anchor="middle" fill="#000" style="font-family:'Liberation Sans', sans-serif;font-size:7.0px;" >8</text>
<text x="466.40" y="516.30" text-anchor="middle" fill="#000" style="font-family:'Liberation Sans', sans-serif;font-size:7.0px;" >10</text>
<text x="495.14" y="516.30" text-anchor="middle" fill="#000" style="font-family:'Liberation Sans', sans-serif;font-size:7.0px;" >12</text>
<text x="523.88" y="516.30" text-anchor="middle" fill="#000" style="font-family:'Liberation Sans', sans-serif;font-size:7.0px;" >14</text>
<text x="475.5" y="528.5" style="font-family:'Liberation Sans', sans-serif;font-size:10.0px">p<tspan dy="3" style="font-size:6.6px">T</tspan><tspan dy="-3">&#160; (GeV/c)</tspan></text>
<text transform="translate(289.6,399) rotate(-90)" style="font-family:'Liberation Sans', sans-serif;font-size:11.6px">dσ / dp<tspan dy="2.9" style="font-size:7.4px">T</tspan><tspan dy="-2.9"> |</tspan><tspan dy="3.3" style="font-size:6.7px">|y|&lt;0.5</tspan></text>
<text transform="translate(289.6,328.8) rotate(-90)" style="font-family:'Liberation Sans', sans-serif;font-size:11.6px">(µb GeV<tspan dy="-3.6" style="font-size:6.8px">-1</tspan><tspan dy="3.6">c)</tspan></text>
<text transform="translate(301.5,477) rotate(-90)" text-anchor="middle" style="font-family:'Liberation Sans', sans-serif;font-size:8.8px">Data  / Theory</text>
<rect x="351.44" y="314.80" width="28.74" height="19.50" fill="url(#hatchB)" stroke="#4a6fd0" stroke-width="1.0" />
<rect x="351.44" y="334.30" width="28.74" height="13.80" fill="url(#hatchM)" stroke="#b04fa0" stroke-width="1.0" />
<line x1="351.44" y1="348.10" x2="380.18" y2="348.10" stroke="#b04fa0" stroke-width="1.4" />
<line x1="351.44" y1="331.80" x2="380.18" y2="331.80" stroke="#888" stroke-width="0.8" />
<rect x="380.18" y="350.10" width="28.74" height="10.20" fill="url(#hatchB)" stroke="#4a6fd0" stroke-width="1.0" />
<rect x="380.18" y="360.30" width="28.74" height="9.10" fill="url(#gridM)" stroke="#b04fa0" stroke-width="1.0" />
<line x1="380.18" y1="369.40" x2="408.92" y2="369.40" stroke="#b04fa0" stroke-width="1.4" />
<line x1="380.18" y1="352.80" x2="408.92" y2="352.80" stroke="#888" stroke-width="0.8" />
<line x1="380.18" y1="364.85" x2="408.92" y2="364.85" stroke="#b04fa0" stroke-width="0.8" />
<rect x="408.92" y="373.50" width="28.74" height="7.80" fill="url(#hatchB)" stroke="#4a6fd0" stroke-width="1.0" />
<rect x="408.92" y="381.30" width="28.74" height="6.95" fill="url(#gridM)" stroke="#b04fa0" stroke-width="1.0" />
<line x1="408.92" y1="388.25" x2="437.66" y2="388.25" stroke="#b04fa0" stroke-width="1.4" />
<line x1="408.92" y1="375.50" x2="437.66" y2="375.50" stroke="#888" stroke-width="0.8" />
<line x1="408.92" y1="384.77" x2="437.66" y2="384.77" stroke="#b04fa0" stroke-width="0.8" />
<rect x="437.66" y="397.00" width="57.48" height="6.70" fill="url(#hatchB)" stroke="#4a6fd0" stroke-width="1.0" />
<rect x="437.66" y="403.70" width="57.48" height="6.55" fill="url(#gridM)" stroke="#b04fa0" stroke-width="1.0" />
<line x1="437.66" y1="410.25" x2="495.14" y2="410.25" stroke="#b04fa0" stroke-width="1.4" />
<line x1="437.66" y1="399.00" x2="495.14" y2="399.00" stroke="#888" stroke-width="0.8" />
<line x1="437.66" y1="406.98" x2="495.14" y2="406.98" stroke="#b04fa0" stroke-width="0.8" />
<rect x="361.91" y="327.60" width="7.80" height="10.80" fill="none" stroke="#444" stroke-width="0.8" />
<line x1="364.51" y1="327.60" x2="364.51" y2="338.40" stroke="#666" stroke-width="0.6" />
<line x1="367.11" y1="327.60" x2="367.11" y2="338.40" stroke="#666" stroke-width="0.6" />
<circle cx="365.81" cy="331.30" r="2.2" fill="#000"/>
<rect x="390.65" y="349.80" width="7.80" height="9.30" fill="none" stroke="#444" stroke-width="0.8" />
<line x1="393.25" y1="349.80" x2="393.25" y2="359.10" stroke="#666" stroke-width="0.6" />
<line x1="395.85" y1="349.80" x2="395.85" y2="359.10" stroke="#666" stroke-width="0.6" />
<circle cx="394.55" cy="353.40" r="2.2" fill="#000"/>
<rect x="419.39" y="375.25" width="7.80" height="10.00" fill="none" stroke="#444" stroke-width="0.8" />
<line x1="421.99" y1="375.25" x2="421.99" y2="385.25" stroke="#666" stroke-width="0.6" />
<line x1="424.59" y1="375.25" x2="424.59" y2="385.25" stroke="#666" stroke-width="0.6" />
<circle cx="423.29" cy="379.50" r="2.2" fill="#000"/>
<rect x="462.50" y="395.25" width="7.80" height="10.75" fill="none" stroke="#444" stroke-width="0.8" />
<line x1="465.10" y1="395.25" x2="465.10" y2="406.00" stroke="#666" stroke-width="0.6" />
<line x1="467.70" y1="395.25" x2="467.70" y2="406.00" stroke="#666" stroke-width="0.6" />
<circle cx="466.40" cy="399.75" r="2.2" fill="#000"/>
<text x="445.60" y="320.00" text-anchor="start" fill="#000" style="font-family:'Liberation Sans', sans-serif;font-size:5.75px;font-weight:bold;" >Theory predictions</text>
<rect x="446.50" y="327.00" width="12.00" height="10.70" fill="url(#hatchB)" stroke="#4a6fd0" stroke-width="1.0" />
<text x="461.00" y="335.30" text-anchor="start" fill="#000" style="font-family:'Liberation Sans', sans-serif;font-size:5.4px;" >GM-VFNS</text>
<rect x="446.50" y="342.00" width="12.00" height="10.20" fill="url(#gridM)" stroke="#555" stroke-width="1.0" />
<text x="461" y="348.5" style="font-family:'Liberation Sans', sans-serif;font-size:5.4px">LO k<tspan dy="1.5" style="font-size:3.8px">T</tspan><tspan dy="-1.5"> fact.</tspan></text>
<text x="342.80" y="386.20" text-anchor="start" fill="#000" style="font-family:'Liberation Sans', sans-serif;font-size:5.45px;font-weight:bold;" >ALICE data points</text>
<line x1="343.00" y1="394.00" x2="350.50" y2="394.00" stroke="#000" stroke-width="0.9" />
<circle cx="346.75" cy="394.00" r="1.8" fill="#000"/>
<text x="353.50" y="396.00" text-anchor="start" fill="#000" style="font-family:'Liberation Sans', sans-serif;font-size:5.2px;" >stat. unc.</text>
<rect x="343.50" y="400.30" width="7.50" height="6.70" fill="none" stroke="#333" stroke-width="0.8" />
<text x="353.50" y="405.30" text-anchor="start" fill="#000" style="font-family:'Liberation Sans', sans-serif;font-size:5.2px;" >syst. unc.</text>
<text x="361.00" y="432.50" text-anchor="start" fill="#000" style="font-family:'Liberation Sans', sans-serif;font-size:5.8px;" >± 3.5% lumi, ± 5.3% BR norm. unc. (not shown)</text>
<text x="500.5" y="293.3" text-anchor="end" style="font-family:'Liberation Sans', sans-serif;font-size:8.7px">D<tspan dy="2.5" style="font-size:6px">s</tspan><tspan dy="-5.5" dx="-3.3" style="font-size:6px">+</tspan><tspan dy="3">, pp √s = 7 TeV, L</tspan><tspan dy="2.6" style="font-size:6px">int</tspan><tspan dy="-2.6"> = 4.8 nb</tspan><tspan dy="-3.6" style="font-size:6px">-1</tspan></text>
<text x="499.50" y="284.00" text-anchor="end" fill="#000" style="font-family:'Liberation Sans', sans-serif;font-size:8.6px;" >ALICE</text>
<rect x="351.44" y="460.25" width="28.74" height="17.00" fill="url(#hatchB)" stroke="#4a6fd0" stroke-width="1.0" />
<line x1="351.44" y1="472.25" x2="380.18" y2="472.25" stroke="#777" stroke-width="0.9" />
<rect x="380.18" y="464.25" width="28.74" height="9.25" fill="url(#hatchB)" stroke="#4a6fd0" stroke-width="1.0" />
<line x1="380.18" y1="467.50" x2="408.92" y2="467.50" stroke="#777" stroke-width="0.9" />
<rect x="408.92" y="466.00" width="28.74" height="5.75" fill="url(#hatchB)" stroke="#4a6fd0" stroke-width="1.0" />
<line x1="408.92" y1="469.00" x2="437.66" y2="469.00" stroke="#777" stroke-width="0.9" />
<rect x="437.66" y="466.50" width="57.48" height="4.50" fill="url(#hatchB)" stroke="#4a6fd0" stroke-width="1.0" />
<line x1="437.66" y1="468.80" x2="495.14" y2="468.80" stroke="#777" stroke-width="0.9" />
<line x1="322.30" y1="469.30" x2="523.50" y2="469.30" stroke="#444" stroke-width="0.7" stroke-dasharray="1.5,1.8"/>
<rect x="361.91" y="470.50" width="7.80" height="4.25" fill="none" stroke="#333" stroke-width="0.8" />
<line x1="365.81" y1="470.50" x2="365.81" y2="474.75" stroke="#333" stroke-width="0.8" />
<circle cx="365.81" cy="472.25" r="2.0" fill="#000"/>
<rect x="390.65" y="464.00" width="7.80" height="7.00" fill="none" stroke="#333" stroke-width="0.8" />
<line x1="394.55" y1="464.00" x2="394.55" y2="471.00" stroke="#333" stroke-width="0.8" />
<circle cx="394.55" cy="467.25" r="2.0" fill="#000"/>
<rect x="419.39" y="467.25" width="7.80" height="5.75" fill="none" stroke="#333" stroke-width="0.8" />
<line x1="423.29" y1="467.25" x2="423.29" y2="473.00" stroke="#333" stroke-width="0.8" />
<circle cx="423.29" cy="470.25" r="2.0" fill="#000"/>
<rect x="462.50" y="464.75" width="7.80" height="7.50" fill="none" stroke="#333" stroke-width="0.8" />
<line x1="466.40" y1="464.75" x2="466.40" y2="472.25" stroke="#333" stroke-width="0.8" />
<circle cx="466.40" cy="469.00" r="2.0" fill="#000"/>
<text x="498.60" y="456.60" text-anchor="middle" fill="#000" style="font-family:'Liberation Sans', sans-serif;font-size:6.9px;" >Data</text>
<line x1="484.20" y1="457.90" x2="513.70" y2="457.90" stroke="#222" stroke-width="0.55" />
<text x="498.90" y="464.30" text-anchor="middle" fill="#000" style="font-family:'Liberation Sans', sans-serif;font-size:6.6px;" >GM-VFNS</text>
<rect x="351.44" y="494.75" width="28.74" height="8.25" fill="url(#gridM)" stroke="#b04fa0" stroke-width="1.0" />
<rect x="380.18" y="496.00" width="28.74" height="7.00" fill="url(#gridM)" stroke="#b04fa0" stroke-width="1.0" />
<rect x="408.92" y="496.00" width="28.74" height="5.50" fill="url(#gridM)" stroke="#b04fa0" stroke-width="1.0" />
<rect x="437.66" y="496.50" width="57.48" height="5.00" fill="url(#gridM)" stroke="#b04fa0" stroke-width="1.0" />
<line x1="322.30" y1="499.80" x2="523.50" y2="499.80" stroke="#444" stroke-width="0.7" stroke-dasharray="1.5,1.8"/>
<line x1="351.44" y1="491.50" x2="380.18" y2="491.50" stroke="#555" stroke-width="1.0" />
<rect x="361.91" y="486.00" width="7.80" height="11.25" fill="none" stroke="#222" stroke-width="0.9" />
<line x1="364.61" y1="486.00" x2="364.61" y2="497.25" stroke="#444" stroke-width="0.6" />
<line x1="367.01" y1="486.00" x2="367.01" y2="497.25" stroke="#444" stroke-width="0.6" />
<circle cx="365.81" cy="491.50" r="1.9" fill="#000"/>
<line x1="380.18" y1="488.50" x2="408.92" y2="488.50" stroke="#555" stroke-width="1.0" />
<rect x="390.65" y="482.25" width="7.80" height="12.50" fill="none" stroke="#222" stroke-width="0.9" />
<line x1="393.35" y1="482.25" x2="393.35" y2="494.75" stroke="#444" stroke-width="0.6" />
<line x1="395.75" y1="482.25" x2="395.75" y2="494.75" stroke="#444" stroke-width="0.6" />
<circle cx="394.55" cy="488.50" r="1.9" fill="#000"/>
<line x1="408.92" y1="494.75" x2="437.66" y2="494.75" stroke="#555" stroke-width="1.0" />
<rect x="419.39" y="490.50" width="7.80" height="9.25" fill="none" stroke="#222" stroke-width="0.9" />
<line x1="422.09" y1="490.50" x2="422.09" y2="499.75" stroke="#444" stroke-width="0.6" />
<line x1="424.49" y1="490.50" x2="424.49" y2="499.75" stroke="#444" stroke-width="0.6" />
<circle cx="423.29" cy="495.50" r="1.9" fill="#000"/>
<line x1="437.66" y1="494.00" x2="495.14" y2="494.00" stroke="#555" stroke-width="1.0" />
<rect x="462.50" y="489.00" width="7.80" height="10.00" fill="none" stroke="#222" stroke-width="0.9" />
<line x1="465.20" y1="489.00" x2="465.20" y2="499.00" stroke="#444" stroke-width="0.6" />
<line x1="467.60" y1="489.00" x2="467.60" y2="499.00" stroke="#444" stroke-width="0.6" />
<circle cx="466.40" cy="494.00" r="1.9" fill="#000"/>
<text x="498.60" y="487.00" text-anchor="middle" fill="#000" style="font-family:'Liberation Sans', sans-serif;font-size:6.9px;" >Data</text>
<line x1="484.20" y1="488.10" x2="514.30" y2="488.10" stroke="#222" stroke-width="0.55" />
<text x="499.2" y="493.8" text-anchor="middle" style="font-family:'Liberation Sans', sans-serif;font-size:6.6px">LO k<tspan dy="1.8" style="font-size:4.6px">T</tspan><tspan dy="-1.8">-fact.</tspan></text>
<text x="402.10" y="545.50" text-anchor="middle" fill="#222" style="font-family:'Liberation Serif', serif;font-size:17.0px;" >(d)</text></svg></body></html>
